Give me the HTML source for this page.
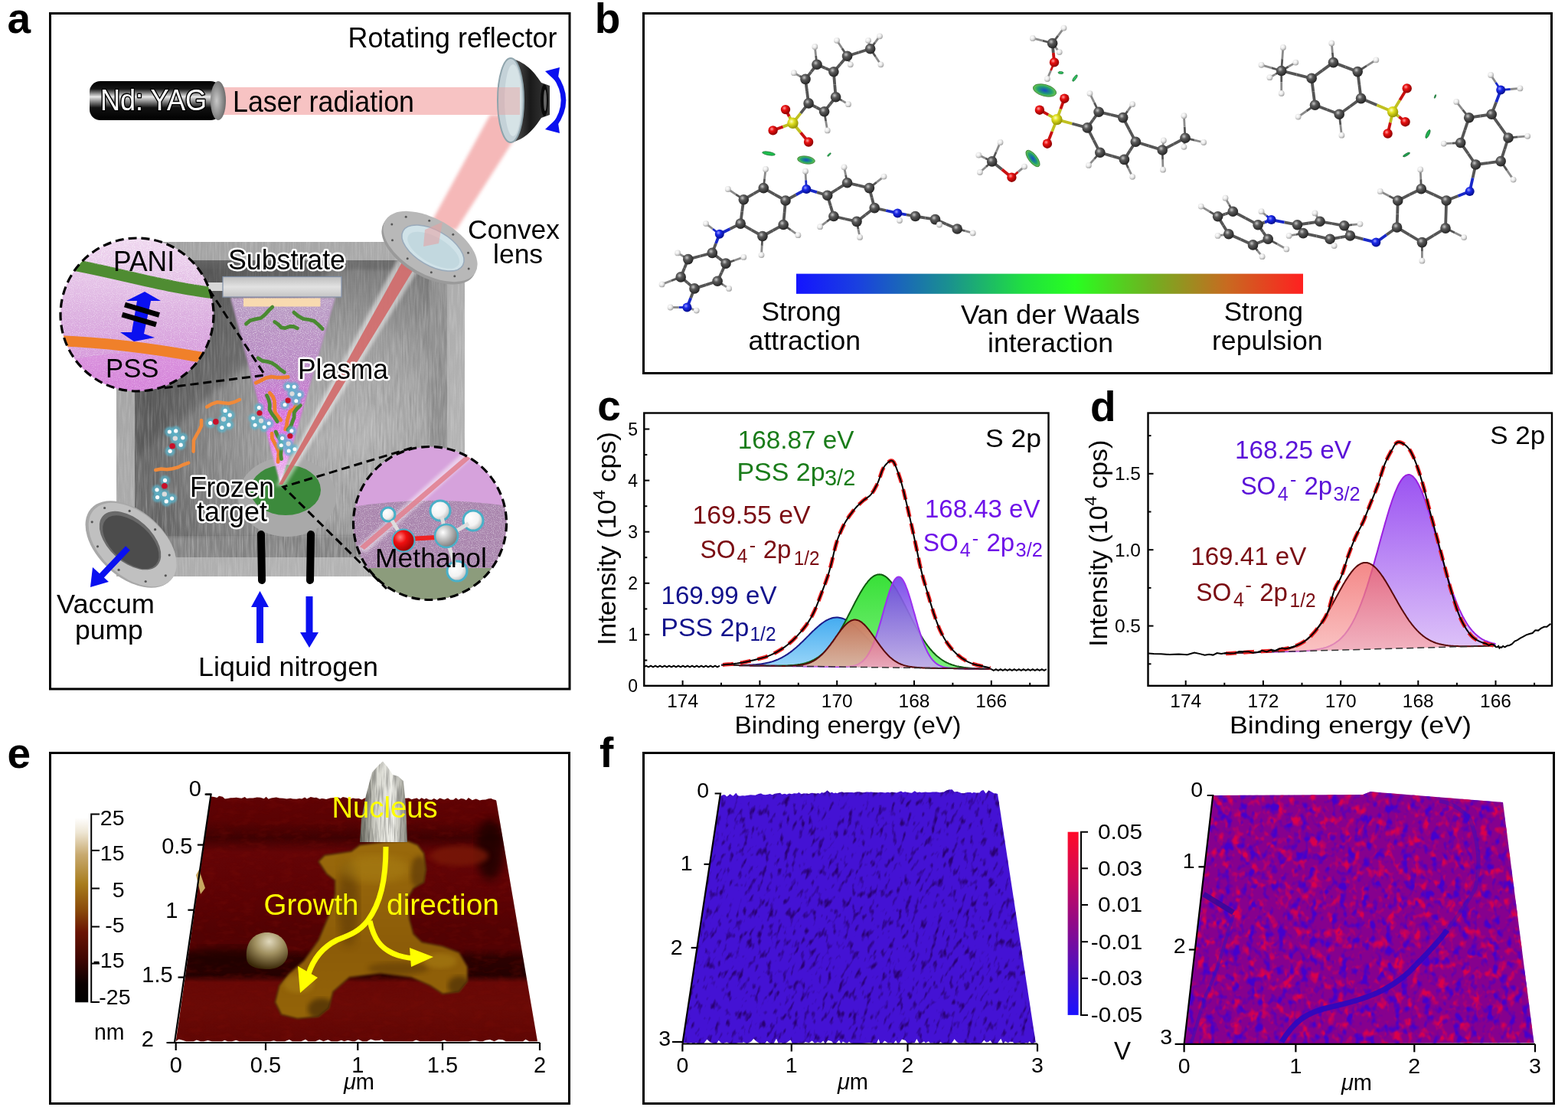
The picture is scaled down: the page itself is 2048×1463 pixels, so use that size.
<!DOCTYPE html>
<html><head><meta charset="utf-8"><title>Figure</title>
<style>
html,body{margin:0;padding:0;background:#fff;width:2048px;height:1463px;overflow:hidden}
svg{display:block;color-interpolation-filters:sRGB}
text{font-family:'Liberation Sans', Arial, Helvetica, sans-serif}
</style></head><body>
<svg width="2048" height="1463" viewBox="0 0 2048 1463">
<rect width="2048" height="1463" fill="#fff"/>
<rect x="65.5" y="17.5" width="678.5" height="882.5" fill="none" stroke="#000" stroke-width="3"/>
<rect x="840.5" y="17.5" width="1186" height="470" fill="none" stroke="#000" stroke-width="3"/>
<rect x="65.5" y="983.5" width="678" height="458" fill="none" stroke="#000" stroke-width="3"/>
<rect x="840.5" y="983.5" width="1189" height="458" fill="none" stroke="#000" stroke-width="3"/>
<text x="9.5" y="43.0" font-size="55" fill="#000" text-anchor="start" font-weight="bold" >a</text>
<text x="776.7" y="42.5" font-size="55" fill="#000" text-anchor="start" font-weight="bold" >b</text>
<text x="780.3" y="549.0" font-size="55" fill="#000" text-anchor="start" font-weight="bold" >c</text>
<text x="1424.0" y="549.5" font-size="55" fill="#000" text-anchor="start" font-weight="bold" >d</text>
<text x="9.5" y="1003.0" font-size="55" fill="#000" text-anchor="start" font-weight="bold" >e</text>
<text x="783.0" y="1002.0" font-size="55" fill="#000" text-anchor="start" font-weight="bold" >f</text>
<defs>
<filter id="streak" x="0" y="0" width="100%" height="100%">
  <feTurbulence type="fractalNoise" baseFrequency="0.45 0.03" numOctaves="2" seed="3" result="n"/>
  <feColorMatrix in="n" type="matrix" values="0 0 0 0 1  0 0 0 0 1  0 0 0 0 1  2.4 0 0 0 -1.0" result="w"/>
  <feComposite in="w" in2="SourceGraphic" operator="in"/>
</filter>
<filter id="streakd" x="0" y="0" width="100%" height="100%">
  <feTurbulence type="fractalNoise" baseFrequency="0.4 0.035" numOctaves="2" seed="8" result="n"/>
  <feColorMatrix in="n" type="matrix" values="0 0 0 0 0  0 0 0 0 0  0 0 0 0 0  2.4 0 0 0 -1.0" result="w"/>
  <feComposite in="w" in2="SourceGraphic" operator="in"/>
</filter>
<filter id="speck" x="0" y="0" width="100%" height="100%">
  <feTurbulence type="fractalNoise" baseFrequency="0.9" numOctaves="1" seed="5" result="n"/>
  <feColorMatrix in="n" type="matrix" values="0 0 0 0 1  0 0 0 0 1  0 0 0 0 1  3 0 0 0 -1.45" result="w"/>
  <feComposite in="w" in2="SourceGraphic" operator="in"/>
</filter>
<filter id="speckd" x="0" y="0" width="100%" height="100%">
  <feTurbulence type="fractalNoise" baseFrequency="0.8" numOctaves="1" seed="9" result="n"/>
  <feColorMatrix in="n" type="matrix" values="0 0 0 0 0.35  0 0 0 0 0.2  0 0 0 0 0.4  3 0 0 0 -1.3" result="w"/>
  <feComposite in="w" in2="SourceGraphic" operator="in"/>
</filter>
<filter id="blur2"><feGaussianBlur stdDeviation="2"/></filter>
<filter id="blur4"><feGaussianBlur stdDeviation="4"/></filter>
<filter id="blur1"><feGaussianBlur stdDeviation="1"/></filter>
<filter id="halo" x="-10%" y="-20%" width="120%" height="140%">
  <feMorphology in="SourceAlpha" operator="dilate" radius="2.2" result="d"/>
  <feFlood flood-color="#fff"/><feComposite in2="d" operator="in" result="w"/>
  <feMerge><feMergeNode in="w"/><feMergeNode in="SourceGraphic"/></feMerge>
</filter>
<linearGradient id="yag" x1="0" y1="0" x2="0" y2="1">
  <stop offset="0" stop-color="#000"/><stop offset="0.2" stop-color="#151515"/><stop offset="0.4" stop-color="#e8e8e8"/>
  <stop offset="0.5" stop-color="#9a9a9a"/><stop offset="0.68" stop-color="#111"/><stop offset="1" stop-color="#000"/>
</linearGradient>
<radialGradient id="capg" cx="0.4" cy="0.5" r="0.6"><stop offset="0" stop-color="#c8c8c8"/><stop offset="1" stop-color="#6a6a6a"/></radialGradient>
<linearGradient id="wallg" x1="0" y1="0" x2="1" y2="1"><stop offset="0" stop-color="#a0a0a0"/><stop offset="1" stop-color="#b8b8b8"/></linearGradient>
<radialGradient id="innerg" cx="0.75" cy="0.62" r="0.85">
  <stop offset="0" stop-color="#b6b6b6"/><stop offset="0.35" stop-color="#a4a4a4"/><stop offset="0.7" stop-color="#828282"/><stop offset="1" stop-color="#5e5e5e"/></radialGradient>
<linearGradient id="plasg" x1="0" y1="0" x2="0" y2="1">
  <stop offset="0" stop-color="#bea0c8"/><stop offset="0.4" stop-color="#bc88c8"/><stop offset="0.55" stop-color="#d070d8"/><stop offset="0.75" stop-color="#e870ec"/><stop offset="1" stop-color="#f8d0f8"/></linearGradient>
<linearGradient id="panig" x1="0" y1="0" x2="0" y2="1">
  <stop offset="0" stop-color="#f0d8f0"/><stop offset="0.5" stop-color="#dcb0e0"/><stop offset="1" stop-color="#d28ad8"/></linearGradient>
<linearGradient id="holder" x1="0" y1="0" x2="0" y2="1"><stop offset="0" stop-color="#bdbdbd"/><stop offset="0.5" stop-color="#e2e2e2"/><stop offset="1" stop-color="#c4c4c4"/></linearGradient>
<linearGradient id="dish" x1="0" y1="0" x2="1" y2="0"><stop offset="0" stop-color="#5a5a5a"/><stop offset="0.5" stop-color="#1a1a1a"/><stop offset="1" stop-color="#3a3a3a"/></linearGradient>
<radialGradient id="ballr" cx="0.35" cy="0.35" r="0.7"><stop offset="0" stop-color="#ff8080"/><stop offset="0.4" stop-color="#ee1010"/><stop offset="1" stop-color="#900"/></radialGradient>
<radialGradient id="ballg" cx="0.35" cy="0.35" r="0.7"><stop offset="0" stop-color="#fff"/><stop offset="0.4" stop-color="#c8c8c8"/><stop offset="1" stop-color="#777"/></radialGradient>
<radialGradient id="ballw" cx="0.35" cy="0.35" r="0.7"><stop offset="0" stop-color="#fff"/><stop offset="0.6" stop-color="#f2f2f2"/><stop offset="1" stop-color="#b8b8b8"/></radialGradient>
<clipPath id="cpani"><circle cx="179" cy="411" r="100"/></clipPath>
<clipPath id="cmeth"><circle cx="561.5" cy="683.5" r="100"/></clipPath>
<linearGradient id="fadeg" x1="0" y1="0" x2="0.35" y2="1"><stop offset="0" stop-color="#fff" stop-opacity="0.15"/><stop offset="0.45" stop-color="#fff" stop-opacity="0.7"/><stop offset="1" stop-color="#fff" stop-opacity="1"/></linearGradient>
<mask id="fadem" maskUnits="userSpaceOnUse" x="176" y="340" width="408" height="388"><rect x="176" y="340" width="408" height="388" fill="url(#fadeg)"/></mask>
<clipPath id="cinner"><rect x="176" y="340" width="408" height="388"/></clipPath>
</defs>
<polygon points="640,150 692,150 596,300 558,300" fill="#f2a0a0" fill-opacity="0.75" filter="url(#blur2)"/>
<rect x="152" y="316" width="455" height="437" fill="url(#wallg)"/>
<rect x="152" y="316" width="455" height="437" fill="#fff" opacity="0.18" filter="url(#streak)"/>
<rect x="176" y="340" width="408" height="388" fill="#6e6e6e"/>
<polygon points="176,700 584,700 584,728 176,728" fill="#8a8a8a"/>
<polygon points="560,345 584,340 584,728 560,700" fill="#939393"/>
<rect x="199" y="352" width="362" height="349" fill="url(#innerg)" filter="url(#blur2)"/>
<g clip-path="url(#cinner)"><polygon points="176,340 440,340 330,470 176,600" fill="#4a4a4a" opacity="0.45" filter="url(#blur4)"/></g>
<g mask="url(#fadem)"><rect x="176" y="340" width="408" height="388" fill="#fff" opacity="0.26" filter="url(#streak)"/><rect x="176" y="340" width="408" height="388" fill="#000" opacity="0.1" filter="url(#streakd)"/></g>
<rect x="262" y="369" width="30" height="11" fill="#d8d8d8"/>
<rect x="291" y="361.5" width="155" height="26.5" fill="url(#holder)" stroke="#8090a8" stroke-width="1.2"/>
<ellipse cx="375" cy="649" rx="64" ry="52" fill="#a9a9a9"/>
<ellipse cx="373" cy="640" rx="46" ry="33" fill="#3c8a3c"/>
<polygon points="301,389 438,389 366.5,634" fill="url(#plasg)" opacity="0.95" filter="url(#blur1)"/>
<polygon points="303,389 436,389 366.5,632" fill="#fff" opacity="0.6" filter="url(#speck)"/>
<rect x="318" y="389.5" width="100.5" height="11" fill="#f8dab0"/>
<polyline points="321.4,423.1 326.7,418.6 333.6,416.9 340.7,415.5 346.0,411.1 350.7,405.8 355.8,401.1" fill="none" stroke="#4a8a32" stroke-width="4.8" stroke-linecap="round" stroke-linejoin="round"/>
<polyline points="358.6,420.5 363.2,423.5 367.4,427.8 372.5,428.6 378.3,426.5 383.5,426.5 388.3,428.8" fill="none" stroke="#4a8a32" stroke-width="4.8" stroke-linecap="round" stroke-linejoin="round"/>
<polyline points="383.9,408.1 389.6,412.8 395.8,416.3 403.2,417.5 410.3,419.4 415.9,424.2 421.2,429.5" fill="none" stroke="#4a8a32" stroke-width="4.8" stroke-linecap="round" stroke-linejoin="round"/>
<polyline points="337.1,467.7 342.5,471.3 349.3,472.4 355.6,474.4 361.0,478.0 365.9,482.5 371.4,486.2" fill="none" stroke="#4a8a32" stroke-width="4.8" stroke-linecap="round" stroke-linejoin="round"/>
<polyline points="334.3,500.2 340.9,497.0 347.5,493.7 354.5,492.2 361.9,493.1 369.1,493.1 376.2,492.4" fill="none" stroke="#f08030" stroke-width="4.8" stroke-linecap="round" stroke-linejoin="round"/>
<polyline points="352.3,513.2 356.6,518.4 358.6,524.5 358.8,531.3 359.0,538.0 362.6,543.5 366.6,548.8" fill="none" stroke="#f08030" stroke-width="4.8" stroke-linecap="round" stroke-linejoin="round"/>
<polyline points="348.5,516.6 351.0,522.2 352.4,528.3 352.0,535.0 355.0,540.4 358.9,545.5 362.2,550.8" fill="none" stroke="#4a8a32" stroke-width="4.8" stroke-linecap="round" stroke-linejoin="round"/>
<polyline points="387.0,528.6 384.3,533.9 378.7,537.8 376.9,543.4 375.2,549.1 374.6,555.3 372.8,560.9" fill="none" stroke="#f08030" stroke-width="4.8" stroke-linecap="round" stroke-linejoin="round"/>
<polyline points="392.4,529.5 387.7,533.9 384.2,538.8 384.1,545.4 381.9,551.0 379.9,556.6 376.0,561.3" fill="none" stroke="#4a8a32" stroke-width="4.8" stroke-linecap="round" stroke-linejoin="round"/>
<polyline points="355.1,566.2 355.4,572.6 358.5,578.4 361.4,584.3 364.0,590.1 363.7,596.7 363.1,603.4" fill="none" stroke="#f08030" stroke-width="4.8" stroke-linecap="round" stroke-linejoin="round"/>
<polyline points="360.2,564.0 362.7,569.7 366.6,575.1 367.7,581.1 367.3,587.4 366.8,593.7 367.5,599.7" fill="none" stroke="#4a8a32" stroke-width="4.8" stroke-linecap="round" stroke-linejoin="round"/>
<polyline points="270.2,531.5 276.9,527.6 283.9,525.3 291.5,526.2 299.1,527.0 306.2,525.2 313.0,522.0" fill="none" stroke="#f08a3a" stroke-width="4.5" stroke-linecap="round"/>
<polyline points="263.0,549.0 263.0,556.3 259.9,562.7 256.3,569.0 252.9,575.3 252.8,582.6 252.6,589.8" fill="none" stroke="#f08a3a" stroke-width="4.5" stroke-linecap="round"/>
<polyline points="203.2,614.0 210.4,612.5 218.0,613.3 225.3,612.2 232.4,610.4 239.2,607.0 246.2,604.6" fill="none" stroke="#f08a3a" stroke-width="4.5" stroke-linecap="round"/>
<g filter="url(#blur1)"><circle cx="292.0" cy="547.5" r="6.5" fill="#5ab4cc" opacity="0.75"/><circle cx="300.2" cy="542.2" r="6.5" fill="#5ab4cc" opacity="0.75"/><circle cx="298.9" cy="554.9" r="6.5" fill="#5ab4cc" opacity="0.75"/><circle cx="294.1" cy="536.4" r="6.5" fill="#5ab4cc" opacity="0.75"/><circle cx="274.7" cy="552.6" r="6.5" fill="#5ab4cc" opacity="0.75"/><circle cx="289.9" cy="558.6" r="6.5" fill="#5ab4cc" opacity="0.75"/></g><circle cx="281.8" cy="550.9" r="3.8" fill="#c8102a"/><circle cx="292.0" cy="547.5" r="3.2" fill="#ddd"/><circle cx="300.2" cy="542.2" r="2.6" fill="#fff"/><circle cx="298.9" cy="554.9" r="2.6" fill="#fff"/><circle cx="294.1" cy="536.4" r="2.6" fill="#fff"/><circle cx="274.7" cy="552.6" r="2.6" fill="#fff"/><circle cx="289.9" cy="558.6" r="2.6" fill="#fff"/>
<g filter="url(#blur1)"><circle cx="228.8" cy="572.6" r="6.5" fill="#5ab4cc" opacity="0.75"/><circle cx="229.7" cy="562.9" r="6.5" fill="#5ab4cc" opacity="0.75"/><circle cx="238.8" cy="571.8" r="6.5" fill="#5ab4cc" opacity="0.75"/><circle cx="221.4" cy="564.0" r="6.5" fill="#5ab4cc" opacity="0.75"/><circle cx="222.1" cy="589.3" r="6.5" fill="#5ab4cc" opacity="0.75"/><circle cx="236.2" cy="581.2" r="6.5" fill="#5ab4cc" opacity="0.75"/></g><circle cx="225.1" cy="582.7" r="3.8" fill="#c8102a"/><circle cx="228.8" cy="572.6" r="3.2" fill="#ddd"/><circle cx="229.7" cy="562.9" r="2.6" fill="#fff"/><circle cx="238.8" cy="571.8" r="2.6" fill="#fff"/><circle cx="221.4" cy="564.0" r="2.6" fill="#fff"/><circle cx="222.1" cy="589.3" r="2.6" fill="#fff"/><circle cx="236.2" cy="581.2" r="2.6" fill="#fff"/>
<g filter="url(#blur1)"><circle cx="214.8" cy="645.4" r="6.5" fill="#5ab4cc" opacity="0.75"/><circle cx="217.2" cy="654.9" r="6.5" fill="#5ab4cc" opacity="0.75"/><circle cx="205.6" cy="649.6" r="6.5" fill="#5ab4cc" opacity="0.75"/><circle cx="224.6" cy="651.0" r="6.5" fill="#5ab4cc" opacity="0.75"/><circle cx="215.5" cy="627.4" r="6.5" fill="#5ab4cc" opacity="0.75"/><circle cx="205.0" cy="639.8" r="6.5" fill="#5ab4cc" opacity="0.75"/></g><circle cx="214.9" cy="634.7" r="3.8" fill="#c8102a"/><circle cx="214.8" cy="645.4" r="3.2" fill="#ddd"/><circle cx="217.2" cy="654.9" r="2.6" fill="#fff"/><circle cx="205.6" cy="649.6" r="2.6" fill="#fff"/><circle cx="224.6" cy="651.0" r="2.6" fill="#fff"/><circle cx="215.5" cy="627.4" r="2.6" fill="#fff"/><circle cx="205.0" cy="639.8" r="2.6" fill="#fff"/>
<g filter="url(#blur1)"><circle cx="341.0" cy="549.7" r="6.2" fill="#5ab4cc" opacity="0.75"/><circle cx="345.1" cy="558.1" r="6.2" fill="#5ab4cc" opacity="0.75"/><circle cx="333.1" cy="555.3" r="6.2" fill="#5ab4cc" opacity="0.75"/><circle cx="351.3" cy="553.1" r="6.2" fill="#5ab4cc" opacity="0.75"/><circle cx="338.3" cy="532.6" r="6.2" fill="#5ab4cc" opacity="0.75"/><circle cx="330.7" cy="546.3" r="6.2" fill="#5ab4cc" opacity="0.75"/></g><circle cx="339.0" cy="539.5" r="3.6" fill="#c8102a"/><circle cx="341.0" cy="549.7" r="3.1" fill="#ddd"/><circle cx="345.1" cy="558.1" r="2.5" fill="#fff"/><circle cx="333.1" cy="555.3" r="2.5" fill="#fff"/><circle cx="351.3" cy="553.1" r="2.5" fill="#fff"/><circle cx="338.3" cy="532.6" r="2.5" fill="#fff"/><circle cx="330.7" cy="546.3" r="2.5" fill="#fff"/>
<g filter="url(#blur1)"><circle cx="381.5" cy="514.3" r="6.2" fill="#5ab4cc" opacity="0.75"/><circle cx="384.2" cy="505.3" r="6.2" fill="#5ab4cc" opacity="0.75"/><circle cx="391.1" cy="515.4" r="6.2" fill="#5ab4cc" opacity="0.75"/><circle cx="376.2" cy="504.8" r="6.2" fill="#5ab4cc" opacity="0.75"/><circle cx="372.0" cy="528.7" r="6.2" fill="#5ab4cc" opacity="0.75"/><circle cx="386.8" cy="523.8" r="6.2" fill="#5ab4cc" opacity="0.75"/></g><circle cx="376.1" cy="523.1" r="3.6" fill="#c8102a"/><circle cx="381.5" cy="514.3" r="3.1" fill="#ddd"/><circle cx="384.2" cy="505.3" r="2.5" fill="#fff"/><circle cx="391.1" cy="515.4" r="2.5" fill="#fff"/><circle cx="376.2" cy="504.8" r="2.5" fill="#fff"/><circle cx="372.0" cy="528.7" r="2.5" fill="#fff"/><circle cx="386.8" cy="523.8" r="2.5" fill="#fff"/>
<g filter="url(#blur1)"><circle cx="376.7" cy="579.6" r="6.2" fill="#5ab4cc" opacity="0.75"/><circle cx="377.2" cy="589.0" r="6.2" fill="#5ab4cc" opacity="0.75"/><circle cx="367.3" cy="581.8" r="6.2" fill="#5ab4cc" opacity="0.75"/><circle cx="384.9" cy="586.8" r="6.2" fill="#5ab4cc" opacity="0.75"/><circle cx="380.9" cy="562.8" r="6.2" fill="#5ab4cc" opacity="0.75"/><circle cx="368.6" cy="572.5" r="6.2" fill="#5ab4cc" opacity="0.75"/></g><circle cx="378.9" cy="569.5" r="3.6" fill="#c8102a"/><circle cx="376.7" cy="579.6" r="3.1" fill="#ddd"/><circle cx="377.2" cy="589.0" r="2.5" fill="#fff"/><circle cx="367.3" cy="581.8" r="2.5" fill="#fff"/><circle cx="384.9" cy="586.8" r="2.5" fill="#fff"/><circle cx="380.9" cy="562.8" r="2.5" fill="#fff"/><circle cx="368.6" cy="572.5" r="2.5" fill="#fff"/>
<polygon points="520,338 555,338 372,635 360,635" fill="#fff" opacity="0.5" filter="url(#blur2)"/>
<polygon points="527,339 548,339 369,633 364,633" fill="#d06868" opacity="0.9"/>
<line x1="341" y1="698" x2="342" y2="758" stroke="#000" stroke-width="10" stroke-linecap="round"/>
<line x1="406" y1="698" x2="405" y2="758" stroke="#000" stroke-width="10" stroke-linecap="round"/>
<rect x="335" y="790" width="9" height="50" fill="#0a10f0"/><polygon points="328,793 351,793 339.5,772" fill="#0a10f0"/>
<rect x="399.5" y="779" width="9" height="50" fill="#0a10f0"/><polygon points="392,826 416,826 404,846" fill="#0a10f0"/>
<g transform="translate(171,711) rotate(42)"><ellipse cx="0" cy="0" rx="70" ry="43" fill="#a8a8a8"/><ellipse cx="2" cy="-1" rx="68" ry="41" fill="#c0c0c0"/><ellipse cx="-4" cy="-3" rx="48" ry="28" fill="#6a6a6a"/><ellipse cx="-2" cy="-2" rx="44" ry="25" fill="#4c4c4c"/></g>
<circle cx="216.3" cy="751.8" r="1.6" fill="#555"/>
<circle cx="190.2" cy="759.5" r="1.6" fill="#555"/>
<circle cx="155.1" cy="744.4" r="1.6" fill="#555"/>
<circle cx="127.5" cy="713.8" r="1.6" fill="#555"/>
<circle cx="120.2" cy="681.8" r="1.6" fill="#555"/>
<circle cx="136.6" cy="663.5" r="1.6" fill="#555"/>
<circle cx="169.2" cy="667.4" r="1.6" fill="#555"/>
<circle cx="202.6" cy="691.7" r="1.6" fill="#555"/>
<circle cx="221.2" cy="725.1" r="1.6" fill="#555"/>
<line x1="167" y1="716" x2="128" y2="757" stroke="#0a10f0" stroke-width="8"/><polygon points="118,767 121,741 142,760" fill="#0a10f0"/>
<g transform="translate(562,322) rotate(30)"><ellipse cx="0" cy="4" rx="68" ry="36" fill="#9a9a9a"/><ellipse cx="0" cy="0" rx="68" ry="36" fill="#b8b8b8"/><ellipse cx="4" cy="0" rx="45" ry="23" fill="#d0e2e8" stroke="#9ab" stroke-width="1.5"/><ellipse cx="6" cy="2" rx="38" ry="17" fill="#bcd4dc" opacity="0.7"/></g>
<circle cx="612.2" cy="351.0" r="1.5" fill="#555"/>
<circle cx="593.8" cy="360.7" r="1.5" fill="#555"/>
<circle cx="563.3" cy="355.7" r="1.5" fill="#555"/>
<circle cx="532.2" cy="337.7" r="1.5" fill="#555"/>
<circle cx="512.5" cy="313.8" r="1.5" fill="#555"/>
<circle cx="511.8" cy="293.0" r="1.5" fill="#555"/>
<circle cx="530.2" cy="283.3" r="1.5" fill="#555"/>
<circle cx="560.7" cy="288.3" r="1.5" fill="#555"/>
<circle cx="591.8" cy="306.3" r="1.5" fill="#555"/>
<circle cx="611.5" cy="330.2" r="1.5" fill="#555"/>
<polygon points="555,300 578,290 573,318 553,322" fill="#e8a0a0" opacity="0.55"/>
<g clip-path="url(#cpani)"><rect x="78" y="310" width="202" height="202" fill="url(#panig)"/><rect x="78" y="310" width="202" height="202" fill="#fff" opacity="0.5" filter="url(#speck)"/><path d="M80,343 C150,355 220,377 290,384" fill="none" stroke="#4f8c32" stroke-width="15"/><path d="M70,300 L290,300 L290,378 C220,370 150,348 70,335 Z" fill="#fff" opacity="0.35" filter="url(#speck)"/><path d="M70,475 C170,452 220,460 290,478 L290,520 L70,520 Z" fill="#e070e0" opacity="0.25"/><path d="M70,445 Q170,448 290,472" fill="none" stroke="#f0802a" stroke-width="14"/></g>
<polygon points="189,381 210,393 197,393 188,436 202,441 175,446 157,434 172,434 179,393 165,393" fill="#0a10f0"/>
<line x1="163" y1="398" x2="208" y2="411.5" stroke="#000" stroke-width="7"/>
<line x1="159.5" y1="411" x2="204" y2="424" stroke="#000" stroke-width="7"/>
<circle cx="179" cy="411" r="100" fill="none" stroke="#000" stroke-width="3.2" stroke-dasharray="11,6"/>
<polyline points="273,378 346,490 212,507" fill="none" stroke="#000" stroke-width="3" stroke-dasharray="11,6"/>
<g clip-path="url(#cmeth)"><rect x="460" y="582" width="204" height="204" fill="#d6a2dc"/><path d="M455,663 Q560,645 670,662 L670,790 L455,790 Z" fill="#a985ad"/><path d="M455,663 Q560,645 670,662 L670,790 L455,790 Z" fill="#fff" opacity="0.55" filter="url(#speck)"/><rect x="455" y="742" width="215" height="50" fill="#8c9c7c"/><polygon points="606,590 624,590 478,722 466,716" fill="#fff" opacity="0.5" filter="url(#blur2)"/><polygon points="610,594 620,594 476,718 470,714" fill="#e07c8c" opacity="0.85"/></g>
<g stroke="#4ab0c8" stroke-width="3"><circle cx="507" cy="672" r="9" fill="url(#ballw)"/><circle cx="575" cy="667" r="13" fill="url(#ballw)"/><circle cx="618" cy="680" r="13" fill="url(#ballw)"/><circle cx="597" cy="746" r="13" fill="url(#ballw)"/></g>
<g stroke="#ddd" stroke-width="5"><line x1="512" y1="680" x2="527" y2="705"/><line x1="577" y1="675" x2="582" y2="697"/><line x1="612" y1="684" x2="590" y2="697"/><line x1="584" y1="705" x2="594" y2="738"/></g>
<line x1="533" y1="704" x2="570" y2="702" stroke="#e22" stroke-width="6"/>
<circle cx="527" cy="706" r="14.5" fill="url(#ballr)" stroke="#4ab0c8" stroke-width="2"/>
<circle cx="583" cy="700" r="15" fill="url(#ballg)" stroke="#4ab0c8" stroke-width="2.5"/>
<circle cx="561.5" cy="683.5" r="100" fill="none" stroke="#000" stroke-width="3.2" stroke-dasharray="11,6"/>
<polyline points="538,585 370,636 505,769" fill="none" stroke="#000" stroke-width="3" stroke-dasharray="11,6"/>
<rect x="292" y="114" width="390" height="36" fill="#f6bcbc" opacity="0.9"/>
<rect x="117" y="106" width="172" height="51" rx="14" fill="url(#yag)"/>
<ellipse cx="285" cy="131.5" rx="10" ry="25.5" fill="url(#capg)"/>
<path d="M667,76 C690,82 700,98 707,108 L718,112 L718,150 L707,154 C700,164 690,180 669,186 Z" fill="url(#dish)"/>
<ellipse cx="711" cy="131" rx="5" ry="21" fill="#0a0a0a"/>
<ellipse cx="712" cy="131" rx="2" ry="14" fill="#666"/>
<ellipse cx="667" cy="131" rx="17" ry="55" fill="#c4d2d8" stroke="#8fa4ac" stroke-width="2"/>
<ellipse cx="670" cy="131" rx="11" ry="47" fill="#d8e4e8" opacity="0.9"/>
<rect x="651" y="114" width="28" height="36" fill="#e8a0a0" opacity="0.45"/>
<path d="M724,98 Q748,131 724,164" fill="none" stroke="#0a10f0" stroke-width="6.5"/><polygon points="712,93 731,88 728,108" fill="#0a10f0"/><polygon points="712,169 731,174 728,154" fill="#0a10f0"/>
<text x="454.5" y="61.5" font-size="37" fill="#000" text-anchor="start" font-weight="normal" textLength="273" lengthAdjust="spacingAndGlyphs">Rotating reflector</text>
<text x="131" y="143.5" font-size="38" fill="#fff" stroke="#000" stroke-width="3" paint-order="stroke" stroke-linejoin="round" textLength="139" lengthAdjust="spacingAndGlyphs">Nd: YAG</text>
<text x="304.0" y="146.0" font-size="39" fill="#000" text-anchor="start" font-weight="normal" textLength="237" lengthAdjust="spacingAndGlyphs">Laser radiation</text>
<text x="611.0" y="311.5" font-size="35.5" fill="#000" text-anchor="start" font-weight="normal" textLength="120" lengthAdjust="spacingAndGlyphs">Convex</text>
<text x="644.0" y="344.0" font-size="35.5" fill="#000" text-anchor="start" font-weight="normal" >lens</text>
<text x="298.0" y="351.5" font-size="36" fill="#000" text-anchor="start" font-weight="normal" stroke="#fff" stroke-width="5" paint-order="stroke" stroke-linejoin="round" textLength="153" lengthAdjust="spacingAndGlyphs">Substrate</text>
<text x="389.0" y="494.5" font-size="36" fill="#000" text-anchor="start" font-weight="normal" stroke="#fff" stroke-width="5" paint-order="stroke" stroke-linejoin="round" textLength="118" lengthAdjust="spacingAndGlyphs">Plasma</text>
<text x="148.0" y="354.0" font-size="36" fill="#000" text-anchor="start" font-weight="normal" textLength="80" lengthAdjust="spacingAndGlyphs">PANI</text>
<text x="138.0" y="493.0" font-size="35.5" fill="#000" text-anchor="start" font-weight="normal" textLength="69.5" lengthAdjust="spacingAndGlyphs">PSS</text>
<text x="248.0" y="649.0" font-size="36" fill="#000" text-anchor="start" font-weight="normal" stroke="#fff" stroke-width="5" paint-order="stroke" stroke-linejoin="round" textLength="110" lengthAdjust="spacingAndGlyphs">Frozen</text>
<text x="257.0" y="681.0" font-size="36" fill="#000" text-anchor="start" font-weight="normal" stroke="#fff" stroke-width="5" paint-order="stroke" stroke-linejoin="round" textLength="92" lengthAdjust="spacingAndGlyphs">target</text>
<text x="490.0" y="740.5" font-size="35.5" fill="#000" text-anchor="start" font-weight="normal" textLength="146" lengthAdjust="spacingAndGlyphs">Methanol</text>
<text x="74.0" y="800.5" font-size="35.5" fill="#000" text-anchor="start" font-weight="normal" textLength="128" lengthAdjust="spacingAndGlyphs">Vaccum</text>
<text x="98.0" y="834.5" font-size="35.5" fill="#000" text-anchor="start" font-weight="normal" >pump</text>
<text x="259.0" y="882.5" font-size="35.8" fill="#000" text-anchor="start" font-weight="normal" textLength="235" lengthAdjust="spacingAndGlyphs">Liquid nitrogen</text>
<defs>
<radialGradient id="bC" cx="0.38" cy="0.35" r="0.7"><stop offset="0" stop-color="#c8c8c8"/><stop offset="0.35" stop-color="#5a5a5a"/><stop offset="1" stop-color="#1e1e1e"/></radialGradient>
<radialGradient id="bH" cx="0.38" cy="0.35" r="0.7"><stop offset="0" stop-color="#fff"/><stop offset="0.5" stop-color="#e8e8e8"/><stop offset="1" stop-color="#9a9a9a"/></radialGradient>
<radialGradient id="bN" cx="0.38" cy="0.35" r="0.7"><stop offset="0" stop-color="#9aa0ff"/><stop offset="0.35" stop-color="#1a28e8"/><stop offset="1" stop-color="#000a80"/></radialGradient>
<radialGradient id="bO" cx="0.38" cy="0.35" r="0.7"><stop offset="0" stop-color="#ffa0a0"/><stop offset="0.35" stop-color="#e81010"/><stop offset="1" stop-color="#800000"/></radialGradient>
<radialGradient id="bS" cx="0.38" cy="0.35" r="0.7"><stop offset="0" stop-color="#ffffc0"/><stop offset="0.35" stop-color="#e0e020"/><stop offset="1" stop-color="#8a8a00"/></radialGradient>
<linearGradient id="nci" x1="0" y1="0" x2="1" y2="0">
 <stop offset="0" stop-color="#1414ff"/><stop offset="0.12" stop-color="#1a40e0"/><stop offset="0.3" stop-color="#1a9090"/><stop offset="0.45" stop-color="#20e040"/>
 <stop offset="0.55" stop-color="#28ff20"/><stop offset="0.7" stop-color="#70b020"/><stop offset="0.85" stop-color="#c86a20"/><stop offset="1" stop-color="#ff2020"/></linearGradient>
<radialGradient id="nciblob" cx="0.5" cy="0.5" r="0.55"><stop offset="0" stop-color="#1848c8"/><stop offset="0.55" stop-color="#20a070"/><stop offset="1" stop-color="#88d040"/></radialGradient>
</defs>
<line x1="1067.0" y1="84.3" x2="1077.9" y2="89.1" stroke="#555" stroke-width="3.8"/>
<line x1="1077.9" y1="89.1" x2="1088.9" y2="93.8" stroke="#555" stroke-width="3.8"/>
<line x1="1088.9" y1="93.8" x2="1090.2" y2="110.3" stroke="#555" stroke-width="3.8"/>
<line x1="1090.2" y1="110.3" x2="1091.6" y2="126.7" stroke="#555" stroke-width="3.8"/>
<line x1="1091.6" y1="126.7" x2="1084.1" y2="136.2" stroke="#555" stroke-width="3.8"/>
<line x1="1084.1" y1="136.2" x2="1076.6" y2="145.8" stroke="#555" stroke-width="3.8"/>
<line x1="1076.6" y1="145.8" x2="1066.3" y2="140.3" stroke="#555" stroke-width="3.8"/>
<line x1="1066.3" y1="140.3" x2="1056.1" y2="134.9" stroke="#555" stroke-width="3.8"/>
<line x1="1056.1" y1="134.9" x2="1054.0" y2="119.1" stroke="#555" stroke-width="3.8"/>
<line x1="1054.0" y1="119.1" x2="1052.0" y2="103.4" stroke="#555" stroke-width="3.8"/>
<line x1="1052.0" y1="103.4" x2="1059.5" y2="93.8" stroke="#555" stroke-width="3.8"/>
<line x1="1059.5" y1="93.8" x2="1067.0" y2="84.3" stroke="#555" stroke-width="3.8"/>
<line x1="1088.9" y1="93.8" x2="1097.8" y2="83.6" stroke="#555" stroke-width="3.8"/>
<line x1="1097.8" y1="83.6" x2="1106.6" y2="73.3" stroke="#555" stroke-width="3.8"/>
<line x1="1106.6" y1="73.3" x2="1121.7" y2="68.5" stroke="#555" stroke-width="3.8"/>
<line x1="1121.7" y1="68.5" x2="1136.7" y2="63.8" stroke="#555" stroke-width="3.8"/>
<line x1="1064.3" y1="61.0" x2="1065.6" y2="72.6" stroke="#8a8a8a" stroke-width="2.8"/>
<line x1="1065.6" y1="72.6" x2="1067.0" y2="84.3" stroke="#555" stroke-width="2.8"/>
<line x1="1093.0" y1="52.8" x2="1099.8" y2="63.1" stroke="#8a8a8a" stroke-width="2.8"/>
<line x1="1099.8" y1="63.1" x2="1106.6" y2="73.3" stroke="#555" stroke-width="2.8"/>
<line x1="1110.8" y1="84.3" x2="1108.7" y2="78.8" stroke="#8a8a8a" stroke-width="2.8"/>
<line x1="1108.7" y1="78.8" x2="1106.6" y2="73.3" stroke="#555" stroke-width="2.8"/>
<line x1="1134.0" y1="52.8" x2="1135.4" y2="58.3" stroke="#8a8a8a" stroke-width="2.8"/>
<line x1="1135.4" y1="58.3" x2="1136.7" y2="63.8" stroke="#555" stroke-width="2.8"/>
<line x1="1149.0" y1="47.3" x2="1142.9" y2="55.6" stroke="#8a8a8a" stroke-width="2.8"/>
<line x1="1142.9" y1="55.6" x2="1136.7" y2="63.8" stroke="#555" stroke-width="2.8"/>
<line x1="1150.4" y1="84.3" x2="1143.6" y2="74.0" stroke="#8a8a8a" stroke-width="2.8"/>
<line x1="1143.6" y1="74.0" x2="1136.7" y2="63.8" stroke="#555" stroke-width="2.8"/>
<line x1="1036.9" y1="95.2" x2="1044.4" y2="99.3" stroke="#8a8a8a" stroke-width="2.8"/>
<line x1="1044.4" y1="99.3" x2="1052.0" y2="103.4" stroke="#555" stroke-width="2.8"/>
<line x1="1108.0" y1="136.2" x2="1099.8" y2="131.4" stroke="#8a8a8a" stroke-width="2.8"/>
<line x1="1099.8" y1="131.4" x2="1091.6" y2="126.7" stroke="#555" stroke-width="2.8"/>
<line x1="1080.7" y1="170.4" x2="1078.6" y2="158.1" stroke="#8a8a8a" stroke-width="2.8"/>
<line x1="1078.6" y1="158.1" x2="1076.6" y2="145.8" stroke="#555" stroke-width="2.8"/>
<line x1="1035.5" y1="160.8" x2="1045.8" y2="147.9" stroke="#c0c020" stroke-width="3.8"/>
<line x1="1045.8" y1="147.9" x2="1056.1" y2="134.9" stroke="#555" stroke-width="3.8"/>
<line x1="1035.5" y1="160.8" x2="1030.8" y2="152.0" stroke="#c0c020" stroke-width="3.8"/>
<line x1="1030.8" y1="152.0" x2="1026.0" y2="143.1" stroke="#c81010" stroke-width="3.8"/>
<line x1="1035.5" y1="160.8" x2="1022.6" y2="165.6" stroke="#c0c020" stroke-width="3.8"/>
<line x1="1022.6" y1="165.6" x2="1009.6" y2="170.4" stroke="#c81010" stroke-width="3.8"/>
<line x1="1035.5" y1="160.8" x2="1045.8" y2="173.2" stroke="#c0c020" stroke-width="3.8"/>
<line x1="1045.8" y1="173.2" x2="1056.1" y2="185.5" stroke="#c81010" stroke-width="3.8"/>
<line x1="1000.0" y1="221.0" x2="998.6" y2="233.3" stroke="#8a8a8a" stroke-width="2.8"/>
<line x1="998.6" y1="233.3" x2="997.3" y2="245.6" stroke="#555" stroke-width="2.8"/>
<line x1="1052.0" y1="223.7" x2="1052.6" y2="235.4" stroke="#8a8a8a" stroke-width="2.8"/>
<line x1="1052.6" y1="235.4" x2="1053.3" y2="247.0" stroke="#1828c8" stroke-width="2.8"/>
<line x1="1053.3" y1="247.0" x2="1039.6" y2="254.5" stroke="#1828c8" stroke-width="3.8"/>
<line x1="1039.6" y1="254.5" x2="1026.0" y2="262.0" stroke="#555" stroke-width="3.8"/>
<line x1="1053.3" y1="247.0" x2="1067.0" y2="251.1" stroke="#1828c8" stroke-width="3.8"/>
<line x1="1067.0" y1="251.1" x2="1080.7" y2="255.2" stroke="#555" stroke-width="3.8"/>
<line x1="997.3" y1="245.6" x2="1011.6" y2="253.8" stroke="#555" stroke-width="3.8"/>
<line x1="1011.6" y1="253.8" x2="1026.0" y2="262.0" stroke="#555" stroke-width="3.8"/>
<line x1="1026.0" y1="262.0" x2="1024.6" y2="277.8" stroke="#555" stroke-width="3.8"/>
<line x1="1024.6" y1="277.8" x2="1023.2" y2="293.5" stroke="#555" stroke-width="3.8"/>
<line x1="1023.2" y1="293.5" x2="1009.6" y2="301.0" stroke="#555" stroke-width="3.8"/>
<line x1="1009.6" y1="301.0" x2="995.9" y2="308.5" stroke="#555" stroke-width="3.8"/>
<line x1="995.9" y1="308.5" x2="981.5" y2="300.3" stroke="#555" stroke-width="3.8"/>
<line x1="981.5" y1="300.3" x2="967.2" y2="292.1" stroke="#555" stroke-width="3.8"/>
<line x1="967.2" y1="292.1" x2="969.2" y2="276.4" stroke="#555" stroke-width="3.8"/>
<line x1="969.2" y1="276.4" x2="971.3" y2="260.7" stroke="#555" stroke-width="3.8"/>
<line x1="971.3" y1="260.7" x2="984.3" y2="253.1" stroke="#555" stroke-width="3.8"/>
<line x1="984.3" y1="253.1" x2="997.3" y2="245.6" stroke="#555" stroke-width="3.8"/>
<line x1="950.8" y1="247.0" x2="961.0" y2="253.8" stroke="#8a8a8a" stroke-width="2.8"/>
<line x1="961.0" y1="253.8" x2="971.3" y2="260.7" stroke="#555" stroke-width="2.8"/>
<line x1="1042.4" y1="307.2" x2="1032.8" y2="300.3" stroke="#8a8a8a" stroke-width="2.8"/>
<line x1="1032.8" y1="300.3" x2="1023.2" y2="293.5" stroke="#555" stroke-width="2.8"/>
<line x1="994.5" y1="333.1" x2="995.2" y2="320.8" stroke="#8a8a8a" stroke-width="2.8"/>
<line x1="995.2" y1="320.8" x2="995.9" y2="308.5" stroke="#555" stroke-width="2.8"/>
<line x1="1080.7" y1="255.2" x2="1093.7" y2="247.0" stroke="#555" stroke-width="3.8"/>
<line x1="1093.7" y1="247.0" x2="1106.6" y2="238.8" stroke="#555" stroke-width="3.8"/>
<line x1="1106.6" y1="238.8" x2="1121.0" y2="242.2" stroke="#555" stroke-width="3.8"/>
<line x1="1121.0" y1="242.2" x2="1135.4" y2="245.6" stroke="#555" stroke-width="3.8"/>
<line x1="1135.4" y1="245.6" x2="1138.8" y2="258.6" stroke="#555" stroke-width="3.8"/>
<line x1="1138.8" y1="258.6" x2="1142.2" y2="271.6" stroke="#555" stroke-width="3.8"/>
<line x1="1142.2" y1="271.6" x2="1130.6" y2="280.5" stroke="#555" stroke-width="3.8"/>
<line x1="1130.6" y1="280.5" x2="1119.0" y2="289.4" stroke="#555" stroke-width="3.8"/>
<line x1="1119.0" y1="289.4" x2="1103.9" y2="286.0" stroke="#555" stroke-width="3.8"/>
<line x1="1103.9" y1="286.0" x2="1088.9" y2="282.5" stroke="#555" stroke-width="3.8"/>
<line x1="1088.9" y1="282.5" x2="1084.8" y2="268.9" stroke="#555" stroke-width="3.8"/>
<line x1="1084.8" y1="268.9" x2="1080.7" y2="255.2" stroke="#555" stroke-width="3.8"/>
<line x1="1102.5" y1="218.3" x2="1104.6" y2="228.5" stroke="#8a8a8a" stroke-width="2.8"/>
<line x1="1104.6" y1="228.5" x2="1106.6" y2="238.8" stroke="#555" stroke-width="2.8"/>
<line x1="1154.5" y1="230.6" x2="1144.9" y2="238.1" stroke="#8a8a8a" stroke-width="2.8"/>
<line x1="1144.9" y1="238.1" x2="1135.4" y2="245.6" stroke="#555" stroke-width="2.8"/>
<line x1="1071.1" y1="296.2" x2="1080.0" y2="289.4" stroke="#8a8a8a" stroke-width="2.8"/>
<line x1="1080.0" y1="289.4" x2="1088.9" y2="282.5" stroke="#555" stroke-width="2.8"/>
<line x1="1123.1" y1="309.9" x2="1121.0" y2="299.6" stroke="#8a8a8a" stroke-width="2.8"/>
<line x1="1121.0" y1="299.6" x2="1119.0" y2="289.4" stroke="#555" stroke-width="2.8"/>
<line x1="1142.2" y1="271.6" x2="1157.2" y2="275.0" stroke="#555" stroke-width="3.8"/>
<line x1="1157.2" y1="275.0" x2="1172.3" y2="278.4" stroke="#1828c8" stroke-width="3.8"/>
<line x1="1172.3" y1="278.4" x2="1183.9" y2="280.5" stroke="#1828c8" stroke-width="3.8"/>
<line x1="1183.9" y1="280.5" x2="1195.5" y2="282.5" stroke="#555" stroke-width="3.8"/>
<line x1="1172.3" y1="278.4" x2="1173.7" y2="283.2" stroke="#1828c8" stroke-width="2.8"/>
<line x1="1173.7" y1="283.2" x2="1175.0" y2="288.0" stroke="#8a8a8a" stroke-width="2.8"/>
<line x1="1195.5" y1="282.5" x2="1208.5" y2="284.6" stroke="#555" stroke-width="3.8"/>
<line x1="1208.5" y1="284.6" x2="1221.5" y2="286.6" stroke="#555" stroke-width="3.8"/>
<line x1="1221.5" y1="286.6" x2="1235.9" y2="292.8" stroke="#555" stroke-width="3.8"/>
<line x1="1235.9" y1="292.8" x2="1250.2" y2="299.0" stroke="#555" stroke-width="3.8"/>
<line x1="1227.0" y1="293.5" x2="1224.2" y2="290.1" stroke="#8a8a8a" stroke-width="2.8"/>
<line x1="1224.2" y1="290.1" x2="1221.5" y2="286.6" stroke="#555" stroke-width="2.8"/>
<line x1="1270.7" y1="304.4" x2="1260.5" y2="301.7" stroke="#8a8a8a" stroke-width="2.8"/>
<line x1="1260.5" y1="301.7" x2="1250.2" y2="299.0" stroke="#555" stroke-width="2.8"/>
<line x1="967.2" y1="292.1" x2="953.5" y2="299.0" stroke="#555" stroke-width="3.8"/>
<line x1="953.5" y1="299.0" x2="939.8" y2="305.8" stroke="#1828c8" stroke-width="3.8"/>
<line x1="939.8" y1="305.8" x2="935.0" y2="318.1" stroke="#1828c8" stroke-width="3.8"/>
<line x1="935.0" y1="318.1" x2="930.3" y2="330.4" stroke="#555" stroke-width="3.8"/>
<line x1="939.8" y1="305.8" x2="930.9" y2="299.0" stroke="#1828c8" stroke-width="2.8"/>
<line x1="930.9" y1="299.0" x2="922.0" y2="292.1" stroke="#8a8a8a" stroke-width="2.8"/>
<line x1="930.3" y1="330.4" x2="939.1" y2="337.2" stroke="#555" stroke-width="3.8"/>
<line x1="939.1" y1="337.2" x2="948.0" y2="344.1" stroke="#555" stroke-width="3.8"/>
<line x1="948.0" y1="344.1" x2="942.6" y2="355.7" stroke="#555" stroke-width="3.8"/>
<line x1="942.6" y1="355.7" x2="937.1" y2="367.3" stroke="#555" stroke-width="3.8"/>
<line x1="937.1" y1="367.3" x2="922.0" y2="372.1" stroke="#555" stroke-width="3.8"/>
<line x1="922.0" y1="372.1" x2="907.0" y2="376.9" stroke="#555" stroke-width="3.8"/>
<line x1="907.0" y1="376.9" x2="898.1" y2="369.4" stroke="#555" stroke-width="3.8"/>
<line x1="898.1" y1="369.4" x2="889.2" y2="361.9" stroke="#555" stroke-width="3.8"/>
<line x1="889.2" y1="361.9" x2="894.0" y2="350.2" stroke="#555" stroke-width="3.8"/>
<line x1="894.0" y1="350.2" x2="898.8" y2="338.6" stroke="#555" stroke-width="3.8"/>
<line x1="898.8" y1="338.6" x2="914.5" y2="334.5" stroke="#555" stroke-width="3.8"/>
<line x1="914.5" y1="334.5" x2="930.3" y2="330.4" stroke="#555" stroke-width="3.8"/>
<line x1="885.1" y1="330.4" x2="892.0" y2="334.5" stroke="#8a8a8a" stroke-width="2.8"/>
<line x1="892.0" y1="334.5" x2="898.8" y2="338.6" stroke="#555" stroke-width="2.8"/>
<line x1="971.3" y1="335.9" x2="959.6" y2="340.0" stroke="#8a8a8a" stroke-width="2.8"/>
<line x1="959.6" y1="340.0" x2="948.0" y2="344.1" stroke="#555" stroke-width="2.8"/>
<line x1="864.6" y1="371.4" x2="876.9" y2="366.6" stroke="#8a8a8a" stroke-width="2.8"/>
<line x1="876.9" y1="366.6" x2="889.2" y2="361.9" stroke="#555" stroke-width="2.8"/>
<line x1="952.1" y1="376.9" x2="944.6" y2="372.1" stroke="#8a8a8a" stroke-width="2.8"/>
<line x1="944.6" y1="372.1" x2="937.1" y2="367.3" stroke="#555" stroke-width="2.8"/>
<line x1="907.0" y1="376.9" x2="902.2" y2="389.2" stroke="#555" stroke-width="3.8"/>
<line x1="902.2" y1="389.2" x2="897.4" y2="401.5" stroke="#1828c8" stroke-width="3.8"/>
<line x1="897.4" y1="401.5" x2="886.5" y2="401.5" stroke="#1828c8" stroke-width="2.8"/>
<line x1="886.5" y1="401.5" x2="875.6" y2="401.5" stroke="#8a8a8a" stroke-width="2.8"/>
<line x1="897.4" y1="401.5" x2="903.6" y2="403.6" stroke="#1828c8" stroke-width="2.8"/>
<line x1="903.6" y1="403.6" x2="909.7" y2="405.6" stroke="#8a8a8a" stroke-width="2.8"/>
<circle cx="1067.0" cy="84.3" r="6.8" fill="url(#bC)"/>
<circle cx="1088.9" cy="93.8" r="6.8" fill="url(#bC)"/>
<circle cx="1091.6" cy="126.7" r="6.8" fill="url(#bC)"/>
<circle cx="1076.6" cy="145.8" r="6.8" fill="url(#bC)"/>
<circle cx="1056.1" cy="134.9" r="6.8" fill="url(#bC)"/>
<circle cx="1052.0" cy="103.4" r="6.8" fill="url(#bC)"/>
<circle cx="1106.6" cy="73.3" r="6.8" fill="url(#bC)"/>
<circle cx="1136.7" cy="63.8" r="6.8" fill="url(#bC)"/>
<circle cx="1064.3" cy="61.0" r="3.9" fill="url(#bH)"/>
<circle cx="1093.0" cy="52.8" r="3.9" fill="url(#bH)"/>
<circle cx="1110.8" cy="84.3" r="3.9" fill="url(#bH)"/>
<circle cx="1134.0" cy="52.8" r="3.9" fill="url(#bH)"/>
<circle cx="1149.0" cy="47.3" r="3.9" fill="url(#bH)"/>
<circle cx="1150.4" cy="84.3" r="3.9" fill="url(#bH)"/>
<circle cx="1036.9" cy="95.2" r="3.9" fill="url(#bH)"/>
<circle cx="1108.0" cy="136.2" r="3.9" fill="url(#bH)"/>
<circle cx="1080.7" cy="170.4" r="3.9" fill="url(#bH)"/>
<circle cx="1035.5" cy="160.8" r="7.2" fill="url(#bS)"/>
<circle cx="1026.0" cy="143.1" r="6.2" fill="url(#bO)"/>
<circle cx="1009.6" cy="170.4" r="6.2" fill="url(#bO)"/>
<circle cx="1056.1" cy="185.5" r="6.2" fill="url(#bO)"/>
<circle cx="1000.0" cy="221.0" r="3.9" fill="url(#bH)"/>
<circle cx="1052.0" cy="223.7" r="3.9" fill="url(#bH)"/>
<circle cx="1053.3" cy="247.0" r="6.0" fill="url(#bN)"/>
<circle cx="997.3" cy="245.6" r="6.8" fill="url(#bC)"/>
<circle cx="1026.0" cy="262.0" r="6.8" fill="url(#bC)"/>
<circle cx="1023.2" cy="293.5" r="6.8" fill="url(#bC)"/>
<circle cx="995.9" cy="308.5" r="6.8" fill="url(#bC)"/>
<circle cx="967.2" cy="292.1" r="6.8" fill="url(#bC)"/>
<circle cx="971.3" cy="260.7" r="6.8" fill="url(#bC)"/>
<circle cx="950.8" cy="247.0" r="3.9" fill="url(#bH)"/>
<circle cx="1042.4" cy="307.2" r="3.9" fill="url(#bH)"/>
<circle cx="994.5" cy="333.1" r="3.9" fill="url(#bH)"/>
<circle cx="1080.7" cy="255.2" r="6.8" fill="url(#bC)"/>
<circle cx="1106.6" cy="238.8" r="6.8" fill="url(#bC)"/>
<circle cx="1135.4" cy="245.6" r="6.8" fill="url(#bC)"/>
<circle cx="1142.2" cy="271.6" r="6.8" fill="url(#bC)"/>
<circle cx="1119.0" cy="289.4" r="6.8" fill="url(#bC)"/>
<circle cx="1088.9" cy="282.5" r="6.8" fill="url(#bC)"/>
<circle cx="1102.5" cy="218.3" r="3.9" fill="url(#bH)"/>
<circle cx="1154.5" cy="230.6" r="3.9" fill="url(#bH)"/>
<circle cx="1071.1" cy="296.2" r="3.9" fill="url(#bH)"/>
<circle cx="1123.1" cy="309.9" r="3.9" fill="url(#bH)"/>
<circle cx="1172.3" cy="278.4" r="6.0" fill="url(#bN)"/>
<circle cx="1175.0" cy="288.0" r="3.9" fill="url(#bH)"/>
<circle cx="1195.5" cy="282.5" r="6.8" fill="url(#bC)"/>
<circle cx="1221.5" cy="286.6" r="6.8" fill="url(#bC)"/>
<circle cx="1250.2" cy="299.0" r="6.8" fill="url(#bC)"/>
<circle cx="1227.0" cy="293.5" r="3.9" fill="url(#bH)"/>
<circle cx="1270.7" cy="304.4" r="3.9" fill="url(#bH)"/>
<circle cx="939.8" cy="305.8" r="6.0" fill="url(#bN)"/>
<circle cx="922.0" cy="292.1" r="3.9" fill="url(#bH)"/>
<circle cx="930.3" cy="330.4" r="6.8" fill="url(#bC)"/>
<circle cx="948.0" cy="344.1" r="6.8" fill="url(#bC)"/>
<circle cx="937.1" cy="367.3" r="6.8" fill="url(#bC)"/>
<circle cx="907.0" cy="376.9" r="6.8" fill="url(#bC)"/>
<circle cx="889.2" cy="361.9" r="6.8" fill="url(#bC)"/>
<circle cx="898.8" cy="338.6" r="6.8" fill="url(#bC)"/>
<circle cx="885.1" cy="330.4" r="3.9" fill="url(#bH)"/>
<circle cx="971.3" cy="335.9" r="3.9" fill="url(#bH)"/>
<circle cx="864.6" cy="371.4" r="3.9" fill="url(#bH)"/>
<circle cx="952.1" cy="376.9" r="3.9" fill="url(#bH)"/>
<circle cx="897.4" cy="401.5" r="6.0" fill="url(#bN)"/>
<circle cx="875.6" cy="401.5" r="3.9" fill="url(#bH)"/>
<circle cx="909.7" cy="405.6" r="3.9" fill="url(#bH)"/>
<line x1="1374.6" y1="56.5" x2="1361.7" y2="53.2" stroke="#555" stroke-width="2.8"/>
<line x1="1361.7" y1="53.2" x2="1348.8" y2="49.9" stroke="#8a8a8a" stroke-width="2.8"/>
<line x1="1374.6" y1="56.5" x2="1382.0" y2="46.6" stroke="#555" stroke-width="2.8"/>
<line x1="1382.0" y1="46.6" x2="1389.5" y2="36.6" stroke="#8a8a8a" stroke-width="2.8"/>
<line x1="1374.6" y1="56.5" x2="1379.1" y2="62.3" stroke="#555" stroke-width="2.8"/>
<line x1="1379.1" y1="62.3" x2="1383.7" y2="68.1" stroke="#8a8a8a" stroke-width="2.8"/>
<line x1="1374.6" y1="56.5" x2="1375.8" y2="69.0" stroke="#555" stroke-width="3.8"/>
<line x1="1375.8" y1="69.0" x2="1377.0" y2="81.4" stroke="#c81010" stroke-width="3.8"/>
<line x1="1377.0" y1="81.4" x2="1372.5" y2="92.2" stroke="#c81010" stroke-width="2.8"/>
<line x1="1372.5" y1="92.2" x2="1367.9" y2="103.0" stroke="#8a8a8a" stroke-width="2.8"/>
<line x1="1380.4" y1="156.1" x2="1385.3" y2="142.4" stroke="#c0c020" stroke-width="3.8"/>
<line x1="1385.3" y1="142.4" x2="1390.3" y2="128.7" stroke="#c81010" stroke-width="3.8"/>
<line x1="1380.4" y1="156.1" x2="1369.2" y2="149.9" stroke="#c0c020" stroke-width="3.8"/>
<line x1="1369.2" y1="149.9" x2="1357.9" y2="143.7" stroke="#c81010" stroke-width="3.8"/>
<line x1="1380.4" y1="156.1" x2="1374.1" y2="171.9" stroke="#c0c020" stroke-width="3.8"/>
<line x1="1374.1" y1="171.9" x2="1367.9" y2="187.7" stroke="#c81010" stroke-width="3.8"/>
<line x1="1380.4" y1="156.1" x2="1400.3" y2="161.5" stroke="#c0c020" stroke-width="3.8"/>
<line x1="1400.3" y1="161.5" x2="1420.2" y2="166.9" stroke="#555" stroke-width="3.8"/>
<line x1="1420.2" y1="166.9" x2="1427.7" y2="156.5" stroke="#555" stroke-width="3.8"/>
<line x1="1427.7" y1="156.5" x2="1435.1" y2="146.2" stroke="#555" stroke-width="3.8"/>
<line x1="1435.1" y1="146.2" x2="1450.9" y2="149.9" stroke="#555" stroke-width="3.8"/>
<line x1="1450.9" y1="149.9" x2="1466.7" y2="153.6" stroke="#555" stroke-width="3.8"/>
<line x1="1466.7" y1="153.6" x2="1475.0" y2="169.4" stroke="#555" stroke-width="3.8"/>
<line x1="1475.0" y1="169.4" x2="1483.3" y2="185.2" stroke="#555" stroke-width="3.8"/>
<line x1="1483.3" y1="185.2" x2="1475.8" y2="196.8" stroke="#555" stroke-width="3.8"/>
<line x1="1475.8" y1="196.8" x2="1468.4" y2="208.4" stroke="#555" stroke-width="3.8"/>
<line x1="1468.4" y1="208.4" x2="1452.6" y2="203.9" stroke="#555" stroke-width="3.8"/>
<line x1="1452.6" y1="203.9" x2="1436.8" y2="199.3" stroke="#555" stroke-width="3.8"/>
<line x1="1436.8" y1="199.3" x2="1428.5" y2="183.1" stroke="#555" stroke-width="3.8"/>
<line x1="1428.5" y1="183.1" x2="1420.2" y2="166.9" stroke="#555" stroke-width="3.8"/>
<line x1="1435.1" y1="146.2" x2="1429.3" y2="134.1" stroke="#555" stroke-width="2.8"/>
<line x1="1429.3" y1="134.1" x2="1423.5" y2="122.1" stroke="#8a8a8a" stroke-width="2.8"/>
<line x1="1466.7" y1="153.6" x2="1472.9" y2="144.9" stroke="#555" stroke-width="2.8"/>
<line x1="1472.9" y1="144.9" x2="1479.1" y2="136.2" stroke="#8a8a8a" stroke-width="2.8"/>
<line x1="1436.8" y1="199.3" x2="1429.3" y2="207.6" stroke="#555" stroke-width="2.8"/>
<line x1="1429.3" y1="207.6" x2="1421.9" y2="215.9" stroke="#8a8a8a" stroke-width="2.8"/>
<line x1="1468.4" y1="208.4" x2="1473.7" y2="219.6" stroke="#555" stroke-width="2.8"/>
<line x1="1473.7" y1="219.6" x2="1479.1" y2="230.8" stroke="#8a8a8a" stroke-width="2.8"/>
<line x1="1483.3" y1="185.2" x2="1500.7" y2="190.6" stroke="#555" stroke-width="3.8"/>
<line x1="1500.7" y1="190.6" x2="1518.2" y2="196.0" stroke="#555" stroke-width="3.8"/>
<line x1="1518.2" y1="196.0" x2="1519.0" y2="189.8" stroke="#555" stroke-width="2.8"/>
<line x1="1519.0" y1="189.8" x2="1519.8" y2="183.5" stroke="#8a8a8a" stroke-width="2.8"/>
<line x1="1518.2" y1="196.0" x2="1518.6" y2="208.8" stroke="#555" stroke-width="2.8"/>
<line x1="1518.6" y1="208.8" x2="1519.0" y2="221.7" stroke="#8a8a8a" stroke-width="2.8"/>
<line x1="1518.2" y1="196.0" x2="1533.1" y2="188.1" stroke="#555" stroke-width="3.8"/>
<line x1="1533.1" y1="188.1" x2="1548.0" y2="180.2" stroke="#555" stroke-width="3.8"/>
<line x1="1548.0" y1="180.2" x2="1547.2" y2="165.7" stroke="#555" stroke-width="2.8"/>
<line x1="1547.2" y1="165.7" x2="1546.4" y2="151.2" stroke="#8a8a8a" stroke-width="2.8"/>
<line x1="1548.0" y1="180.2" x2="1560.1" y2="183.1" stroke="#555" stroke-width="2.8"/>
<line x1="1560.1" y1="183.1" x2="1572.1" y2="186.0" stroke="#8a8a8a" stroke-width="2.8"/>
<line x1="1548.0" y1="180.2" x2="1547.2" y2="186.0" stroke="#555" stroke-width="2.8"/>
<line x1="1547.2" y1="186.0" x2="1546.4" y2="191.8" stroke="#8a8a8a" stroke-width="2.8"/>
<line x1="1295.7" y1="210.9" x2="1287.0" y2="206.8" stroke="#555" stroke-width="2.8"/>
<line x1="1287.0" y1="206.8" x2="1278.3" y2="202.6" stroke="#8a8a8a" stroke-width="2.8"/>
<line x1="1295.7" y1="210.9" x2="1301.1" y2="198.5" stroke="#555" stroke-width="2.8"/>
<line x1="1301.1" y1="198.5" x2="1306.5" y2="186.0" stroke="#8a8a8a" stroke-width="2.8"/>
<line x1="1295.7" y1="210.9" x2="1287.8" y2="218.0" stroke="#555" stroke-width="2.8"/>
<line x1="1287.8" y1="218.0" x2="1279.9" y2="225.0" stroke="#8a8a8a" stroke-width="2.8"/>
<line x1="1295.7" y1="210.9" x2="1308.6" y2="221.3" stroke="#555" stroke-width="3.8"/>
<line x1="1308.6" y1="221.3" x2="1321.4" y2="231.7" stroke="#c81010" stroke-width="3.8"/>
<line x1="1321.4" y1="231.7" x2="1329.7" y2="224.6" stroke="#c81010" stroke-width="2.8"/>
<line x1="1329.7" y1="224.6" x2="1338.0" y2="217.6" stroke="#8a8a8a" stroke-width="2.8"/>
<circle cx="1374.6" cy="56.5" r="6.8" fill="url(#bC)"/>
<circle cx="1348.8" cy="49.9" r="3.9" fill="url(#bH)"/>
<circle cx="1389.5" cy="36.6" r="3.9" fill="url(#bH)"/>
<circle cx="1383.7" cy="68.1" r="3.9" fill="url(#bH)"/>
<circle cx="1377.0" cy="81.4" r="6.2" fill="url(#bO)"/>
<circle cx="1367.9" cy="103.0" r="3.9" fill="url(#bH)"/>
<circle cx="1380.4" cy="156.1" r="7.2" fill="url(#bS)"/>
<circle cx="1390.3" cy="128.7" r="6.2" fill="url(#bO)"/>
<circle cx="1357.9" cy="143.7" r="6.2" fill="url(#bO)"/>
<circle cx="1367.9" cy="187.7" r="6.2" fill="url(#bO)"/>
<circle cx="1420.2" cy="166.9" r="6.8" fill="url(#bC)"/>
<circle cx="1435.1" cy="146.2" r="6.8" fill="url(#bC)"/>
<circle cx="1466.7" cy="153.6" r="6.8" fill="url(#bC)"/>
<circle cx="1483.3" cy="185.2" r="6.8" fill="url(#bC)"/>
<circle cx="1468.4" cy="208.4" r="6.8" fill="url(#bC)"/>
<circle cx="1436.8" cy="199.3" r="6.8" fill="url(#bC)"/>
<circle cx="1423.5" cy="122.1" r="3.9" fill="url(#bH)"/>
<circle cx="1479.1" cy="136.2" r="3.9" fill="url(#bH)"/>
<circle cx="1421.9" cy="215.9" r="3.9" fill="url(#bH)"/>
<circle cx="1479.1" cy="230.8" r="3.9" fill="url(#bH)"/>
<circle cx="1518.2" cy="196.0" r="6.8" fill="url(#bC)"/>
<circle cx="1519.8" cy="183.5" r="3.9" fill="url(#bH)"/>
<circle cx="1519.0" cy="221.7" r="3.9" fill="url(#bH)"/>
<circle cx="1548.0" cy="180.2" r="6.8" fill="url(#bC)"/>
<circle cx="1546.4" cy="151.2" r="3.9" fill="url(#bH)"/>
<circle cx="1572.1" cy="186.0" r="3.9" fill="url(#bH)"/>
<circle cx="1546.4" cy="191.8" r="3.9" fill="url(#bH)"/>
<circle cx="1295.7" cy="210.9" r="6.8" fill="url(#bC)"/>
<circle cx="1278.3" cy="202.6" r="3.9" fill="url(#bH)"/>
<circle cx="1306.5" cy="186.0" r="3.9" fill="url(#bH)"/>
<circle cx="1279.9" cy="225.0" r="3.9" fill="url(#bH)"/>
<circle cx="1321.4" cy="231.7" r="6.2" fill="url(#bO)"/>
<circle cx="1338.0" cy="217.6" r="3.9" fill="url(#bH)"/>
<line x1="1673.7" y1="92.5" x2="1674.8" y2="77.2" stroke="#555" stroke-width="2.8"/>
<line x1="1674.8" y1="77.2" x2="1675.9" y2="61.9" stroke="#8a8a8a" stroke-width="2.8"/>
<line x1="1673.7" y1="92.5" x2="1660.6" y2="88.7" stroke="#555" stroke-width="2.8"/>
<line x1="1660.6" y1="88.7" x2="1647.5" y2="84.8" stroke="#8a8a8a" stroke-width="2.8"/>
<line x1="1673.7" y1="92.5" x2="1683.0" y2="87.0" stroke="#555" stroke-width="2.8"/>
<line x1="1683.0" y1="87.0" x2="1692.3" y2="81.6" stroke="#8a8a8a" stroke-width="2.8"/>
<line x1="1673.7" y1="92.5" x2="1666.1" y2="96.9" stroke="#555" stroke-width="2.8"/>
<line x1="1666.1" y1="96.9" x2="1658.4" y2="101.2" stroke="#8a8a8a" stroke-width="2.8"/>
<line x1="1673.7" y1="92.5" x2="1673.7" y2="107.2" stroke="#555" stroke-width="2.8"/>
<line x1="1673.7" y1="107.2" x2="1673.7" y2="122.0" stroke="#8a8a8a" stroke-width="2.8"/>
<line x1="1673.7" y1="92.5" x2="1693.4" y2="97.4" stroke="#555" stroke-width="3.8"/>
<line x1="1693.4" y1="97.4" x2="1713.1" y2="102.3" stroke="#555" stroke-width="3.8"/>
<line x1="1713.1" y1="102.3" x2="1727.3" y2="91.9" stroke="#555" stroke-width="3.8"/>
<line x1="1727.3" y1="91.9" x2="1741.5" y2="81.6" stroke="#555" stroke-width="3.8"/>
<line x1="1741.5" y1="81.6" x2="1757.4" y2="87.6" stroke="#555" stroke-width="3.8"/>
<line x1="1757.4" y1="87.6" x2="1773.2" y2="93.6" stroke="#555" stroke-width="3.8"/>
<line x1="1773.2" y1="93.6" x2="1775.4" y2="111.1" stroke="#555" stroke-width="3.8"/>
<line x1="1775.4" y1="111.1" x2="1777.6" y2="128.6" stroke="#555" stroke-width="3.8"/>
<line x1="1777.6" y1="128.6" x2="1763.4" y2="139.0" stroke="#555" stroke-width="3.8"/>
<line x1="1763.4" y1="139.0" x2="1749.2" y2="149.3" stroke="#555" stroke-width="3.8"/>
<line x1="1749.2" y1="149.3" x2="1733.3" y2="143.3" stroke="#555" stroke-width="3.8"/>
<line x1="1733.3" y1="143.3" x2="1717.5" y2="137.3" stroke="#555" stroke-width="3.8"/>
<line x1="1717.5" y1="137.3" x2="1715.3" y2="119.8" stroke="#555" stroke-width="3.8"/>
<line x1="1715.3" y1="119.8" x2="1713.1" y2="102.3" stroke="#555" stroke-width="3.8"/>
<line x1="1741.5" y1="81.6" x2="1740.4" y2="69.0" stroke="#555" stroke-width="2.8"/>
<line x1="1740.4" y1="69.0" x2="1739.3" y2="56.4" stroke="#8a8a8a" stroke-width="2.8"/>
<line x1="1773.2" y1="93.6" x2="1785.2" y2="85.9" stroke="#555" stroke-width="2.8"/>
<line x1="1785.2" y1="85.9" x2="1797.3" y2="78.3" stroke="#8a8a8a" stroke-width="2.8"/>
<line x1="1717.5" y1="137.3" x2="1706.5" y2="145.0" stroke="#555" stroke-width="2.8"/>
<line x1="1706.5" y1="145.0" x2="1695.6" y2="152.6" stroke="#8a8a8a" stroke-width="2.8"/>
<line x1="1749.2" y1="149.3" x2="1750.8" y2="163.0" stroke="#555" stroke-width="2.8"/>
<line x1="1750.8" y1="163.0" x2="1752.4" y2="176.7" stroke="#8a8a8a" stroke-width="2.8"/>
<line x1="1777.6" y1="128.6" x2="1798.4" y2="137.3" stroke="#555" stroke-width="3.8"/>
<line x1="1798.4" y1="137.3" x2="1819.1" y2="146.1" stroke="#c0c020" stroke-width="3.8"/>
<line x1="1819.1" y1="146.1" x2="1828.4" y2="130.8" stroke="#c0c020" stroke-width="3.8"/>
<line x1="1828.4" y1="130.8" x2="1837.7" y2="115.4" stroke="#c81010" stroke-width="3.8"/>
<line x1="1819.1" y1="146.1" x2="1827.3" y2="152.6" stroke="#c0c020" stroke-width="3.8"/>
<line x1="1827.3" y1="152.6" x2="1835.5" y2="159.2" stroke="#c81010" stroke-width="3.8"/>
<line x1="1819.1" y1="146.1" x2="1815.9" y2="160.3" stroke="#c0c020" stroke-width="3.8"/>
<line x1="1815.9" y1="160.3" x2="1812.6" y2="174.5" stroke="#c81010" stroke-width="3.8"/>
<line x1="1960.2" y1="117.6" x2="1953.6" y2="107.8" stroke="#1828c8" stroke-width="2.8"/>
<line x1="1953.6" y1="107.8" x2="1947.1" y2="98.0" stroke="#8a8a8a" stroke-width="2.8"/>
<line x1="1960.2" y1="117.6" x2="1972.8" y2="116.5" stroke="#1828c8" stroke-width="2.8"/>
<line x1="1972.8" y1="116.5" x2="1985.4" y2="115.4" stroke="#8a8a8a" stroke-width="2.8"/>
<line x1="1960.2" y1="117.6" x2="1954.2" y2="133.5" stroke="#1828c8" stroke-width="3.8"/>
<line x1="1954.2" y1="133.5" x2="1948.2" y2="149.3" stroke="#555" stroke-width="3.8"/>
<line x1="1948.2" y1="149.3" x2="1933.4" y2="151.5" stroke="#555" stroke-width="3.8"/>
<line x1="1933.4" y1="151.5" x2="1918.7" y2="153.7" stroke="#555" stroke-width="3.8"/>
<line x1="1918.7" y1="153.7" x2="1913.2" y2="170.1" stroke="#555" stroke-width="3.8"/>
<line x1="1913.2" y1="170.1" x2="1907.7" y2="186.5" stroke="#555" stroke-width="3.8"/>
<line x1="1907.7" y1="186.5" x2="1917.6" y2="200.7" stroke="#555" stroke-width="3.8"/>
<line x1="1917.6" y1="200.7" x2="1927.4" y2="215.0" stroke="#555" stroke-width="3.8"/>
<line x1="1927.4" y1="215.0" x2="1943.8" y2="212.8" stroke="#555" stroke-width="3.8"/>
<line x1="1943.8" y1="212.8" x2="1960.2" y2="210.6" stroke="#555" stroke-width="3.8"/>
<line x1="1960.2" y1="210.6" x2="1965.1" y2="195.3" stroke="#555" stroke-width="3.8"/>
<line x1="1965.1" y1="195.3" x2="1970.0" y2="180.0" stroke="#555" stroke-width="3.8"/>
<line x1="1970.0" y1="180.0" x2="1959.1" y2="164.7" stroke="#555" stroke-width="3.8"/>
<line x1="1959.1" y1="164.7" x2="1948.2" y2="149.3" stroke="#555" stroke-width="3.8"/>
<line x1="1918.7" y1="153.7" x2="1910.4" y2="143.3" stroke="#555" stroke-width="2.8"/>
<line x1="1910.4" y1="143.3" x2="1902.2" y2="132.9" stroke="#8a8a8a" stroke-width="2.8"/>
<line x1="1907.7" y1="186.5" x2="1896.8" y2="187.1" stroke="#555" stroke-width="2.8"/>
<line x1="1896.8" y1="187.1" x2="1885.8" y2="187.6" stroke="#8a8a8a" stroke-width="2.8"/>
<line x1="1970.0" y1="180.0" x2="1982.6" y2="178.9" stroke="#555" stroke-width="2.8"/>
<line x1="1982.6" y1="178.9" x2="1995.2" y2="177.8" stroke="#8a8a8a" stroke-width="2.8"/>
<line x1="1960.2" y1="210.6" x2="1968.4" y2="222.6" stroke="#555" stroke-width="2.8"/>
<line x1="1968.4" y1="222.6" x2="1976.6" y2="234.6" stroke="#8a8a8a" stroke-width="2.8"/>
<line x1="1927.4" y1="215.0" x2="1923.6" y2="232.4" stroke="#555" stroke-width="3.8"/>
<line x1="1923.6" y1="232.4" x2="1919.7" y2="249.9" stroke="#1828c8" stroke-width="3.8"/>
<line x1="1919.7" y1="249.9" x2="1904.4" y2="256.0" stroke="#1828c8" stroke-width="3.8"/>
<line x1="1904.4" y1="256.0" x2="1889.1" y2="262.0" stroke="#555" stroke-width="3.8"/>
<line x1="1889.1" y1="262.0" x2="1872.7" y2="254.3" stroke="#555" stroke-width="3.8"/>
<line x1="1872.7" y1="254.3" x2="1856.3" y2="246.7" stroke="#555" stroke-width="3.8"/>
<line x1="1856.3" y1="246.7" x2="1841.0" y2="254.3" stroke="#555" stroke-width="3.8"/>
<line x1="1841.0" y1="254.3" x2="1825.7" y2="262.0" stroke="#555" stroke-width="3.8"/>
<line x1="1825.7" y1="262.0" x2="1825.2" y2="279.5" stroke="#555" stroke-width="3.8"/>
<line x1="1825.2" y1="279.5" x2="1824.6" y2="297.0" stroke="#555" stroke-width="3.8"/>
<line x1="1824.6" y1="297.0" x2="1841.0" y2="306.8" stroke="#555" stroke-width="3.8"/>
<line x1="1841.0" y1="306.8" x2="1857.4" y2="316.6" stroke="#555" stroke-width="3.8"/>
<line x1="1857.4" y1="316.6" x2="1872.7" y2="307.3" stroke="#555" stroke-width="3.8"/>
<line x1="1872.7" y1="307.3" x2="1888.0" y2="298.1" stroke="#555" stroke-width="3.8"/>
<line x1="1888.0" y1="298.1" x2="1888.6" y2="280.0" stroke="#555" stroke-width="3.8"/>
<line x1="1888.6" y1="280.0" x2="1889.1" y2="262.0" stroke="#555" stroke-width="3.8"/>
<line x1="1856.3" y1="246.7" x2="1855.8" y2="234.1" stroke="#555" stroke-width="2.8"/>
<line x1="1855.8" y1="234.1" x2="1855.2" y2="221.5" stroke="#8a8a8a" stroke-width="2.8"/>
<line x1="1825.7" y1="262.0" x2="1814.2" y2="256.0" stroke="#555" stroke-width="2.8"/>
<line x1="1814.2" y1="256.0" x2="1802.7" y2="249.9" stroke="#8a8a8a" stroke-width="2.8"/>
<line x1="1888.0" y1="298.1" x2="1900.1" y2="304.1" stroke="#555" stroke-width="2.8"/>
<line x1="1900.1" y1="304.1" x2="1912.1" y2="310.1" stroke="#8a8a8a" stroke-width="2.8"/>
<line x1="1857.4" y1="316.6" x2="1857.4" y2="328.7" stroke="#555" stroke-width="2.8"/>
<line x1="1857.4" y1="328.7" x2="1857.4" y2="340.7" stroke="#8a8a8a" stroke-width="2.8"/>
<line x1="1824.6" y1="297.0" x2="1810.9" y2="306.8" stroke="#555" stroke-width="3.8"/>
<line x1="1810.9" y1="306.8" x2="1797.3" y2="316.6" stroke="#1828c8" stroke-width="3.8"/>
<line x1="1797.3" y1="316.6" x2="1780.3" y2="312.3" stroke="#1828c8" stroke-width="3.8"/>
<line x1="1780.3" y1="312.3" x2="1763.4" y2="307.9" stroke="#555" stroke-width="3.8"/>
<line x1="1763.4" y1="307.9" x2="1759.6" y2="301.3" stroke="#555" stroke-width="3.8"/>
<line x1="1759.6" y1="301.3" x2="1755.7" y2="294.8" stroke="#555" stroke-width="3.8"/>
<line x1="1755.7" y1="294.8" x2="1739.9" y2="292.0" stroke="#555" stroke-width="3.8"/>
<line x1="1739.9" y1="292.0" x2="1724.0" y2="289.3" stroke="#555" stroke-width="3.8"/>
<line x1="1724.0" y1="289.3" x2="1709.3" y2="291.5" stroke="#555" stroke-width="3.8"/>
<line x1="1709.3" y1="291.5" x2="1694.5" y2="293.7" stroke="#555" stroke-width="3.8"/>
<line x1="1694.5" y1="293.7" x2="1698.3" y2="299.1" stroke="#555" stroke-width="3.8"/>
<line x1="1698.3" y1="299.1" x2="1702.1" y2="304.6" stroke="#555" stroke-width="3.8"/>
<line x1="1702.1" y1="304.6" x2="1719.6" y2="308.4" stroke="#555" stroke-width="3.8"/>
<line x1="1719.6" y1="308.4" x2="1737.1" y2="312.3" stroke="#555" stroke-width="3.8"/>
<line x1="1737.1" y1="312.3" x2="1750.3" y2="310.1" stroke="#555" stroke-width="3.8"/>
<line x1="1750.3" y1="310.1" x2="1763.4" y2="307.9" stroke="#555" stroke-width="3.8"/>
<line x1="1755.7" y1="294.8" x2="1766.1" y2="293.7" stroke="#555" stroke-width="2.8"/>
<line x1="1766.1" y1="293.7" x2="1776.5" y2="292.6" stroke="#8a8a8a" stroke-width="2.8"/>
<line x1="1724.0" y1="289.3" x2="1720.7" y2="283.8" stroke="#555" stroke-width="2.8"/>
<line x1="1720.7" y1="283.8" x2="1717.5" y2="278.4" stroke="#8a8a8a" stroke-width="2.8"/>
<line x1="1702.1" y1="304.6" x2="1692.9" y2="306.3" stroke="#555" stroke-width="2.8"/>
<line x1="1692.9" y1="306.3" x2="1683.6" y2="307.9" stroke="#8a8a8a" stroke-width="2.8"/>
<line x1="1737.1" y1="312.3" x2="1739.9" y2="316.6" stroke="#555" stroke-width="2.8"/>
<line x1="1739.9" y1="316.6" x2="1742.6" y2="321.0" stroke="#8a8a8a" stroke-width="2.8"/>
<line x1="1694.5" y1="293.7" x2="1677.5" y2="290.4" stroke="#555" stroke-width="3.8"/>
<line x1="1677.5" y1="290.4" x2="1660.6" y2="287.1" stroke="#1828c8" stroke-width="3.8"/>
<line x1="1660.6" y1="287.1" x2="1654.0" y2="281.7" stroke="#1828c8" stroke-width="2.8"/>
<line x1="1654.0" y1="281.7" x2="1647.5" y2="276.2" stroke="#8a8a8a" stroke-width="2.8"/>
<line x1="1660.6" y1="287.1" x2="1651.8" y2="290.4" stroke="#1828c8" stroke-width="3.8"/>
<line x1="1651.8" y1="290.4" x2="1643.1" y2="293.7" stroke="#555" stroke-width="3.8"/>
<line x1="1643.1" y1="293.7" x2="1626.7" y2="284.9" stroke="#555" stroke-width="3.8"/>
<line x1="1626.7" y1="284.9" x2="1610.3" y2="276.2" stroke="#555" stroke-width="3.8"/>
<line x1="1610.3" y1="276.2" x2="1600.5" y2="279.5" stroke="#555" stroke-width="3.8"/>
<line x1="1600.5" y1="279.5" x2="1590.6" y2="282.7" stroke="#555" stroke-width="3.8"/>
<line x1="1590.6" y1="282.7" x2="1597.7" y2="294.2" stroke="#555" stroke-width="3.8"/>
<line x1="1597.7" y1="294.2" x2="1604.8" y2="305.7" stroke="#555" stroke-width="3.8"/>
<line x1="1604.8" y1="305.7" x2="1620.7" y2="312.8" stroke="#555" stroke-width="3.8"/>
<line x1="1620.7" y1="312.8" x2="1636.5" y2="319.9" stroke="#555" stroke-width="3.8"/>
<line x1="1636.5" y1="319.9" x2="1646.4" y2="316.1" stroke="#555" stroke-width="3.8"/>
<line x1="1646.4" y1="316.1" x2="1656.2" y2="312.3" stroke="#555" stroke-width="3.8"/>
<line x1="1656.2" y1="312.3" x2="1649.7" y2="303.0" stroke="#555" stroke-width="3.8"/>
<line x1="1649.7" y1="303.0" x2="1643.1" y2="293.7" stroke="#555" stroke-width="3.8"/>
<line x1="1610.3" y1="276.2" x2="1605.4" y2="267.4" stroke="#555" stroke-width="2.8"/>
<line x1="1605.4" y1="267.4" x2="1600.5" y2="258.7" stroke="#8a8a8a" stroke-width="2.8"/>
<line x1="1590.6" y1="282.7" x2="1579.7" y2="276.2" stroke="#555" stroke-width="2.8"/>
<line x1="1579.7" y1="276.2" x2="1568.7" y2="269.6" stroke="#8a8a8a" stroke-width="2.8"/>
<line x1="1604.8" y1="305.7" x2="1597.7" y2="306.8" stroke="#555" stroke-width="2.8"/>
<line x1="1597.7" y1="306.8" x2="1590.6" y2="307.9" stroke="#8a8a8a" stroke-width="2.8"/>
<line x1="1656.2" y1="312.3" x2="1668.3" y2="318.8" stroke="#555" stroke-width="2.8"/>
<line x1="1668.3" y1="318.8" x2="1680.3" y2="325.4" stroke="#8a8a8a" stroke-width="2.8"/>
<line x1="1636.5" y1="319.9" x2="1642.6" y2="327.6" stroke="#555" stroke-width="2.8"/>
<line x1="1642.6" y1="327.6" x2="1648.6" y2="335.2" stroke="#8a8a8a" stroke-width="2.8"/>
<circle cx="1673.7" cy="92.5" r="6.8" fill="url(#bC)"/>
<circle cx="1675.9" cy="61.9" r="3.9" fill="url(#bH)"/>
<circle cx="1647.5" cy="84.8" r="3.9" fill="url(#bH)"/>
<circle cx="1692.3" cy="81.6" r="3.9" fill="url(#bH)"/>
<circle cx="1658.4" cy="101.2" r="3.9" fill="url(#bH)"/>
<circle cx="1673.7" cy="122.0" r="3.9" fill="url(#bH)"/>
<circle cx="1713.1" cy="102.3" r="6.8" fill="url(#bC)"/>
<circle cx="1741.5" cy="81.6" r="6.8" fill="url(#bC)"/>
<circle cx="1773.2" cy="93.6" r="6.8" fill="url(#bC)"/>
<circle cx="1777.6" cy="128.6" r="6.8" fill="url(#bC)"/>
<circle cx="1749.2" cy="149.3" r="6.8" fill="url(#bC)"/>
<circle cx="1717.5" cy="137.3" r="6.8" fill="url(#bC)"/>
<circle cx="1739.3" cy="56.4" r="3.9" fill="url(#bH)"/>
<circle cx="1797.3" cy="78.3" r="3.9" fill="url(#bH)"/>
<circle cx="1695.6" cy="152.6" r="3.9" fill="url(#bH)"/>
<circle cx="1752.4" cy="176.7" r="3.9" fill="url(#bH)"/>
<circle cx="1819.1" cy="146.1" r="7.2" fill="url(#bS)"/>
<circle cx="1837.7" cy="115.4" r="6.2" fill="url(#bO)"/>
<circle cx="1835.5" cy="159.2" r="6.2" fill="url(#bO)"/>
<circle cx="1812.6" cy="174.5" r="6.2" fill="url(#bO)"/>
<circle cx="1960.2" cy="117.6" r="6.0" fill="url(#bN)"/>
<circle cx="1947.1" cy="98.0" r="3.9" fill="url(#bH)"/>
<circle cx="1985.4" cy="115.4" r="3.9" fill="url(#bH)"/>
<circle cx="1948.2" cy="149.3" r="6.8" fill="url(#bC)"/>
<circle cx="1918.7" cy="153.7" r="6.8" fill="url(#bC)"/>
<circle cx="1907.7" cy="186.5" r="6.8" fill="url(#bC)"/>
<circle cx="1927.4" cy="215.0" r="6.8" fill="url(#bC)"/>
<circle cx="1960.2" cy="210.6" r="6.8" fill="url(#bC)"/>
<circle cx="1970.0" cy="180.0" r="6.8" fill="url(#bC)"/>
<circle cx="1902.2" cy="132.9" r="3.9" fill="url(#bH)"/>
<circle cx="1885.8" cy="187.6" r="3.9" fill="url(#bH)"/>
<circle cx="1995.2" cy="177.8" r="3.9" fill="url(#bH)"/>
<circle cx="1976.6" cy="234.6" r="3.9" fill="url(#bH)"/>
<circle cx="1919.7" cy="249.9" r="6.0" fill="url(#bN)"/>
<circle cx="1889.1" cy="262.0" r="6.8" fill="url(#bC)"/>
<circle cx="1856.3" cy="246.7" r="6.8" fill="url(#bC)"/>
<circle cx="1825.7" cy="262.0" r="6.8" fill="url(#bC)"/>
<circle cx="1824.6" cy="297.0" r="6.8" fill="url(#bC)"/>
<circle cx="1857.4" cy="316.6" r="6.8" fill="url(#bC)"/>
<circle cx="1888.0" cy="298.1" r="6.8" fill="url(#bC)"/>
<circle cx="1855.2" cy="221.5" r="3.9" fill="url(#bH)"/>
<circle cx="1802.7" cy="249.9" r="3.9" fill="url(#bH)"/>
<circle cx="1912.1" cy="310.1" r="3.9" fill="url(#bH)"/>
<circle cx="1857.4" cy="340.7" r="3.9" fill="url(#bH)"/>
<circle cx="1797.3" cy="316.6" r="6.0" fill="url(#bN)"/>
<circle cx="1763.4" cy="307.9" r="6.8" fill="url(#bC)"/>
<circle cx="1755.7" cy="294.8" r="6.8" fill="url(#bC)"/>
<circle cx="1724.0" cy="289.3" r="6.8" fill="url(#bC)"/>
<circle cx="1694.5" cy="293.7" r="6.8" fill="url(#bC)"/>
<circle cx="1702.1" cy="304.6" r="6.8" fill="url(#bC)"/>
<circle cx="1737.1" cy="312.3" r="6.8" fill="url(#bC)"/>
<circle cx="1776.5" cy="292.6" r="3.9" fill="url(#bH)"/>
<circle cx="1717.5" cy="278.4" r="3.9" fill="url(#bH)"/>
<circle cx="1683.6" cy="307.9" r="3.9" fill="url(#bH)"/>
<circle cx="1742.6" cy="321.0" r="3.9" fill="url(#bH)"/>
<circle cx="1660.6" cy="287.1" r="6.0" fill="url(#bN)"/>
<circle cx="1647.5" cy="276.2" r="3.9" fill="url(#bH)"/>
<circle cx="1643.1" cy="293.7" r="6.8" fill="url(#bC)"/>
<circle cx="1610.3" cy="276.2" r="6.8" fill="url(#bC)"/>
<circle cx="1590.6" cy="282.7" r="6.8" fill="url(#bC)"/>
<circle cx="1604.8" cy="305.7" r="6.8" fill="url(#bC)"/>
<circle cx="1636.5" cy="319.9" r="6.8" fill="url(#bC)"/>
<circle cx="1656.2" cy="312.3" r="6.8" fill="url(#bC)"/>
<circle cx="1600.5" cy="258.7" r="3.9" fill="url(#bH)"/>
<circle cx="1568.7" cy="269.6" r="3.9" fill="url(#bH)"/>
<circle cx="1590.6" cy="307.9" r="3.9" fill="url(#bH)"/>
<circle cx="1680.3" cy="325.4" r="3.9" fill="url(#bH)"/>
<circle cx="1648.6" cy="335.2" r="3.9" fill="url(#bH)"/>
<ellipse cx="1004" cy="200.5" rx="8.5" ry="2.2" transform="rotate(10 1004 200.5)" fill="#20c050" stroke="#0a5a20" stroke-width="0.6"/>
<ellipse cx="1053" cy="209" rx="11.5" ry="5" transform="rotate(8 1053 209)" fill="url(#nciblob)" stroke="#0a5a20" stroke-width="0.6"/>
<ellipse cx="1083" cy="202" rx="3" ry="1" transform="rotate(-45 1083 202)" fill="#30c060" stroke="#0a5a20" stroke-width="0.6"/>
<ellipse cx="1385.5" cy="95" rx="3.5" ry="1.5" transform="rotate(5 1385.5 95)" fill="#30c060" stroke="#0a5a20" stroke-width="0.6"/>
<ellipse cx="1404" cy="102" rx="5" ry="1.6" transform="rotate(-55 1404 102)" fill="#30c060" stroke="#0a5a20" stroke-width="0.6"/>
<ellipse cx="1364.5" cy="118" rx="15.5" ry="7.5" transform="rotate(15 1364.5 118)" fill="url(#nciblob)" stroke="#0a5a20" stroke-width="0.6"/>
<ellipse cx="1349" cy="207" rx="13" ry="5.5" transform="rotate(52 1349 207)" fill="url(#nciblob)" stroke="#0a5a20" stroke-width="0.6"/>
<ellipse cx="1874.5" cy="126" rx="2.5" ry="0.8" transform="rotate(-70 1874.5 126)" fill="#20a050" stroke="#0a5a20" stroke-width="0.6"/>
<ellipse cx="1865" cy="175" rx="6" ry="2" transform="rotate(-65 1865 175)" fill="#20b050" stroke="#0a5a20" stroke-width="0.6"/>
<ellipse cx="1837" cy="202" rx="5" ry="1.5" transform="rotate(-30 1837 202)" fill="#20a050" stroke="#0a5a20" stroke-width="0.6"/>
<rect x="1040" y="357.6" width="662" height="26.2" fill="url(#nci)"/>
<text x="994.4" y="418.5" font-size="34.5" fill="#000" text-anchor="start" font-weight="normal" textLength="104.3" lengthAdjust="spacingAndGlyphs">Strong</text>
<text x="977.6" y="456.5" font-size="34.5" fill="#000" text-anchor="start" font-weight="normal" textLength="146.5" lengthAdjust="spacingAndGlyphs">attraction</text>
<text x="1255.0" y="423.0" font-size="34.5" fill="#000" text-anchor="start" font-weight="normal" textLength="234" lengthAdjust="spacingAndGlyphs">Van der Waals</text>
<text x="1290.0" y="459.5" font-size="34.5" fill="#000" text-anchor="start" font-weight="normal" textLength="164" lengthAdjust="spacingAndGlyphs">interaction</text>
<text x="1598.7" y="419.0" font-size="34.5" fill="#000" text-anchor="start" font-weight="normal" textLength="103.3" lengthAdjust="spacingAndGlyphs">Strong</text>
<text x="1583.0" y="457.0" font-size="34.5" fill="#000" text-anchor="start" font-weight="normal" textLength="144.6" lengthAdjust="spacingAndGlyphs">repulsion</text>
<defs>
<linearGradient id="gc0" x1="0" y1="0" x2="0" y2="1"><stop offset="0" stop-color="#2aa0ee"/><stop offset="1" stop-color="#90d2f8"/></linearGradient>
<linearGradient id="gc1" x1="0" y1="0" x2="0" y2="1"><stop offset="0" stop-color="#22dd22"/><stop offset="1" stop-color="#70ee70"/></linearGradient>
<linearGradient id="gc2" x1="0" y1="0" x2="0" y2="1"><stop offset="0" stop-color="#7040e8"/><stop offset="1" stop-color="#c8aaf2"/></linearGradient>
<linearGradient id="gc3" x1="0" y1="0" x2="0" y2="1"><stop offset="0" stop-color="#e85a5a"/><stop offset="1" stop-color="#f4a8b0"/></linearGradient>
</defs>
<polygon points="942.0,868.8 943.3,868.8 944.5,868.8 945.8,868.8 947.0,868.9 948.3,868.9 949.6,868.9 950.8,868.9 952.1,868.9 953.3,868.9 954.6,868.9 955.9,868.9 957.1,868.9 958.4,868.9 959.6,868.9 960.9,868.9 962.2,868.9 963.4,868.9 964.7,868.9 965.9,868.9 967.2,868.9 968.5,868.9 969.7,868.9 971.0,868.8 972.2,868.8 973.5,868.8 974.8,868.8 976.0,868.7 977.3,868.7 978.5,868.6 979.8,868.6 981.1,868.5 982.3,868.4 983.6,868.3 984.8,868.3 986.1,868.2 987.4,868.1 988.6,867.9 989.9,867.8 991.1,867.7 992.4,867.5 993.7,867.4 994.9,867.2 996.2,867.0 997.4,866.8 998.7,866.6 1000.0,866.3 1001.2,866.1 1002.5,865.8 1003.7,865.5 1005.0,865.2 1006.3,864.8 1007.5,864.5 1008.8,864.1 1010.0,863.7 1011.3,863.3 1012.6,862.8 1013.8,862.3 1015.1,861.8 1016.3,861.3 1017.6,860.7 1018.9,860.1 1020.1,859.5 1021.4,858.9 1022.6,858.2 1023.9,857.5 1025.2,856.7 1026.4,855.9 1027.7,855.1 1028.9,854.3 1030.2,853.4 1031.5,852.5 1032.7,851.6 1034.0,850.6 1035.2,849.7 1036.5,848.6 1037.8,847.6 1039.0,846.5 1040.3,845.4 1041.5,844.3 1042.8,843.2 1044.1,842.0 1045.3,840.8 1046.6,839.6 1047.8,838.4 1049.1,837.2 1050.4,835.9 1051.6,834.7 1052.9,833.4 1054.1,832.1 1055.4,830.9 1056.7,829.6 1057.9,828.3 1059.2,827.1 1060.4,825.8 1061.7,824.6 1063.0,823.4 1064.2,822.2 1065.5,821.0 1066.7,819.9 1068.0,818.7 1069.3,817.7 1070.5,816.6 1071.8,815.6 1073.0,814.6 1074.3,813.7 1075.6,812.8 1076.8,812.0 1078.1,811.2 1079.3,810.4 1080.6,809.8 1081.9,809.2 1083.1,808.6 1084.4,808.1 1085.6,807.7 1086.9,807.3 1088.2,807.0 1089.4,806.8 1090.7,806.7 1091.9,806.6 1093.2,806.6 1094.5,806.6 1095.7,806.7 1097.0,806.9 1098.2,807.2 1099.5,807.5 1100.8,807.9 1102.0,808.4 1103.3,808.9 1104.5,809.5 1105.8,810.1 1107.1,810.8 1108.3,811.6 1109.6,812.4 1110.8,813.3 1112.1,814.2 1113.4,815.2 1114.6,816.2 1115.9,817.2 1117.1,818.3 1118.4,819.5 1119.7,820.6 1120.9,821.8 1122.2,823.0 1123.4,824.2 1124.7,825.5 1126.0,826.8 1127.2,828.0 1128.5,829.3 1129.7,830.6 1131.0,831.9 1132.3,833.2 1133.5,834.5 1134.8,835.8 1136.0,837.1 1137.3,838.4 1138.6,839.7 1139.8,840.9 1141.1,842.2 1142.3,843.4 1143.6,844.6 1144.9,845.8 1146.1,846.9 1147.4,848.1 1148.6,849.2 1149.9,850.3 1151.2,851.3 1152.4,852.3 1153.7,853.3 1154.9,854.3 1156.2,855.2 1157.5,856.1 1158.7,857.0 1160.0,857.8 1161.2,858.7 1162.5,859.4 1163.8,860.2 1165.0,860.9 1166.3,861.6 1167.5,862.2 1168.8,862.9 1170.1,863.5 1171.3,864.0 1172.6,864.6 1173.8,865.1 1175.1,865.6 1176.4,866.1 1177.6,866.5 1178.9,866.9 1180.1,867.3 1181.4,867.7 1182.7,868.0 1183.9,868.4 1185.2,868.7 1186.4,869.0 1187.7,869.3 1189.0,869.5 1190.2,869.8 1191.5,870.0 1192.7,870.2 1194.0,870.4 1195.3,870.6 1196.5,870.8 1197.8,870.9 1199.0,871.1 1200.3,871.2 1201.6,871.3 1202.8,871.5 1204.1,871.6 1205.3,871.7 1206.6,871.8 1207.9,871.9 1209.1,872.0 1210.4,872.1 1211.6,872.1 1212.9,872.2 1214.2,872.3 1215.4,872.3 1216.7,872.4 1217.9,872.4 1219.2,872.5 1220.5,872.5 1221.7,872.6 1223.0,872.6 1224.2,872.7 1225.5,872.7 1226.8,872.7 1228.0,872.8 1229.3,872.8 1230.5,872.8 1231.8,872.9 1233.1,872.9 1234.3,872.9 1235.6,872.9 1236.8,873.0 1238.1,873.0 1239.4,873.0 1240.6,873.0 1241.9,873.1 1243.1,873.1 1244.4,873.1 1245.7,873.1 1246.9,873.2 1248.2,873.2 1249.4,873.2 1250.7,873.2 1252.0,873.2 1253.2,873.3 1254.5,873.3 1255.7,873.3 1257.0,873.3 1258.3,873.3 1259.5,873.3 1260.8,873.4 1262.0,873.4 1263.3,873.4 1264.6,873.4 1265.8,873.4 1267.1,873.5 1268.3,873.5 1269.6,873.5 1270.9,873.5 1272.1,873.5 1273.4,873.6 1274.6,873.6 1275.9,873.6 1277.2,873.6 1278.4,873.6 1279.7,873.6 1280.9,873.7 1282.2,873.7 1283.5,873.7 1284.7,873.7 1286.0,873.7 1287.2,873.7 1288.5,873.8 1289.8,873.8 1291.0,873.8 1292.3,873.8 1293.5,873.8 1294.8,873.9 1294.8,873.9 1293.5,873.8 1292.3,873.8 1291.0,873.8 1289.8,873.8 1288.5,873.8 1287.2,873.7 1286.0,873.7 1284.7,873.7 1283.5,873.7 1282.2,873.7 1280.9,873.7 1279.7,873.6 1278.4,873.6 1277.2,873.6 1275.9,873.6 1274.6,873.6 1273.4,873.6 1272.1,873.5 1270.9,873.5 1269.6,873.5 1268.3,873.5 1267.1,873.5 1265.8,873.4 1264.6,873.4 1263.3,873.4 1262.0,873.4 1260.8,873.4 1259.5,873.4 1258.3,873.3 1257.0,873.3 1255.7,873.3 1254.5,873.3 1253.2,873.3 1252.0,873.2 1250.7,873.2 1249.4,873.2 1248.2,873.2 1246.9,873.2 1245.7,873.2 1244.4,873.1 1243.1,873.1 1241.9,873.1 1240.6,873.1 1239.4,873.1 1238.1,873.0 1236.8,873.0 1235.6,873.0 1234.3,873.0 1233.1,873.0 1231.8,873.0 1230.5,872.9 1229.3,872.9 1228.0,872.9 1226.8,872.9 1225.5,872.9 1224.2,872.9 1223.0,872.8 1221.7,872.8 1220.5,872.8 1219.2,872.8 1217.9,872.8 1216.7,872.7 1215.4,872.7 1214.2,872.7 1212.9,872.7 1211.6,872.7 1210.4,872.7 1209.1,872.6 1207.9,872.6 1206.6,872.6 1205.3,872.6 1204.1,872.6 1202.8,872.5 1201.6,872.5 1200.3,872.5 1199.0,872.5 1197.8,872.5 1196.5,872.5 1195.3,872.4 1194.0,872.4 1192.7,872.4 1191.5,872.4 1190.2,872.4 1189.0,872.3 1187.7,872.3 1186.4,872.3 1185.2,872.3 1183.9,872.3 1182.7,872.3 1181.4,872.2 1180.1,872.2 1178.9,872.2 1177.6,872.2 1176.4,872.2 1175.1,872.1 1173.8,872.1 1172.6,872.1 1171.3,872.1 1170.1,872.1 1168.8,872.1 1167.5,872.0 1166.3,872.0 1165.0,872.0 1163.8,872.0 1162.5,872.0 1161.2,872.0 1160.0,871.9 1158.7,871.9 1157.5,871.9 1156.2,871.9 1154.9,871.9 1153.7,871.8 1152.4,871.8 1151.2,871.8 1149.9,871.8 1148.6,871.8 1147.4,871.8 1146.1,871.7 1144.9,871.7 1143.6,871.7 1142.3,871.7 1141.1,871.7 1139.8,871.6 1138.6,871.6 1137.3,871.6 1136.0,871.6 1134.8,871.6 1133.5,871.6 1132.3,871.5 1131.0,871.5 1129.7,871.5 1128.5,871.5 1127.2,871.5 1126.0,871.4 1124.7,871.4 1123.4,871.4 1122.2,871.4 1120.9,871.4 1119.7,871.4 1118.4,871.3 1117.1,871.3 1115.9,871.3 1114.6,871.3 1113.4,871.3 1112.1,871.3 1110.8,871.2 1109.6,871.2 1108.3,871.2 1107.1,871.2 1105.8,871.2 1104.5,871.1 1103.3,871.1 1102.0,871.1 1100.8,871.1 1099.5,871.1 1098.2,871.1 1097.0,871.0 1095.7,871.0 1094.5,871.0 1093.2,871.0 1091.9,871.0 1090.7,870.9 1089.4,870.9 1088.2,870.9 1086.9,870.9 1085.6,870.9 1084.4,870.9 1083.1,870.8 1081.9,870.8 1080.6,870.8 1079.3,870.8 1078.1,870.8 1076.8,870.7 1075.6,870.7 1074.3,870.7 1073.0,870.7 1071.8,870.7 1070.5,870.7 1069.3,870.6 1068.0,870.6 1066.7,870.6 1065.5,870.6 1064.2,870.6 1063.0,870.5 1061.7,870.5 1060.4,870.5 1059.2,870.5 1057.9,870.5 1056.7,870.5 1055.4,870.4 1054.1,870.4 1052.9,870.4 1051.6,870.4 1050.4,870.4 1049.1,870.4 1047.8,870.3 1046.6,870.3 1045.3,870.3 1044.1,870.3 1042.8,870.3 1041.5,870.2 1040.3,870.2 1039.0,870.2 1037.8,870.2 1036.5,870.2 1035.2,870.2 1034.0,870.1 1032.7,870.1 1031.5,870.1 1030.2,870.1 1028.9,870.1 1027.7,870.0 1026.4,870.0 1025.2,870.0 1023.9,870.0 1022.6,870.0 1021.4,870.0 1020.1,869.9 1018.9,869.9 1017.6,869.9 1016.3,869.9 1015.1,869.9 1013.8,869.8 1012.6,869.8 1011.3,869.8 1010.0,869.8 1008.8,869.8 1007.5,869.8 1006.3,869.7 1005.0,869.7 1003.7,869.7 1002.5,869.7 1001.2,869.7 1000.0,869.7 998.7,869.6 997.4,869.6 996.2,869.6 994.9,869.6 993.7,869.6 992.4,869.5 991.1,869.5 989.9,869.5 988.6,869.5 987.4,869.5 986.1,869.5 984.8,869.4 983.6,869.4 982.3,869.4 981.1,869.4 979.8,869.4 978.5,869.3 977.3,869.3 976.0,869.3 974.8,869.3 973.5,869.3 972.2,869.3 971.0,869.2 969.7,869.2 968.5,869.2 967.2,869.2 965.9,869.2 964.7,869.1 963.4,869.1 962.2,869.1 960.9,869.1 959.6,869.1 958.4,869.1 957.1,869.0 955.9,869.0 954.6,869.0 953.3,869.0 952.1,869.0 950.8,869.0 949.6,868.9 948.3,868.9 947.0,868.9 945.8,868.9 944.5,868.9 943.3,868.8 942.0,868.8" fill="url(#gc0)" fill-opacity="0.88" stroke="none"/>
<polyline points="942.0,868.8 943.3,868.8 944.5,868.8 945.8,868.8 947.0,868.9 948.3,868.9 949.6,868.9 950.8,868.9 952.1,868.9 953.3,868.9 954.6,868.9 955.9,868.9 957.1,868.9 958.4,868.9 959.6,868.9 960.9,868.9 962.2,868.9 963.4,868.9 964.7,868.9 965.9,868.9 967.2,868.9 968.5,868.9 969.7,868.9 971.0,868.8 972.2,868.8 973.5,868.8 974.8,868.8 976.0,868.7 977.3,868.7 978.5,868.6 979.8,868.6 981.1,868.5 982.3,868.4 983.6,868.3 984.8,868.3 986.1,868.2 987.4,868.1 988.6,867.9 989.9,867.8 991.1,867.7 992.4,867.5 993.7,867.4 994.9,867.2 996.2,867.0 997.4,866.8 998.7,866.6 1000.0,866.3 1001.2,866.1 1002.5,865.8 1003.7,865.5 1005.0,865.2 1006.3,864.8 1007.5,864.5 1008.8,864.1 1010.0,863.7 1011.3,863.3 1012.6,862.8 1013.8,862.3 1015.1,861.8 1016.3,861.3 1017.6,860.7 1018.9,860.1 1020.1,859.5 1021.4,858.9 1022.6,858.2 1023.9,857.5 1025.2,856.7 1026.4,855.9 1027.7,855.1 1028.9,854.3 1030.2,853.4 1031.5,852.5 1032.7,851.6 1034.0,850.6 1035.2,849.7 1036.5,848.6 1037.8,847.6 1039.0,846.5 1040.3,845.4 1041.5,844.3 1042.8,843.2 1044.1,842.0 1045.3,840.8 1046.6,839.6 1047.8,838.4 1049.1,837.2 1050.4,835.9 1051.6,834.7 1052.9,833.4 1054.1,832.1 1055.4,830.9 1056.7,829.6 1057.9,828.3 1059.2,827.1 1060.4,825.8 1061.7,824.6 1063.0,823.4 1064.2,822.2 1065.5,821.0 1066.7,819.9 1068.0,818.7 1069.3,817.7 1070.5,816.6 1071.8,815.6 1073.0,814.6 1074.3,813.7 1075.6,812.8 1076.8,812.0 1078.1,811.2 1079.3,810.4 1080.6,809.8 1081.9,809.2 1083.1,808.6 1084.4,808.1 1085.6,807.7 1086.9,807.3 1088.2,807.0 1089.4,806.8 1090.7,806.7 1091.9,806.6 1093.2,806.6 1094.5,806.6 1095.7,806.7 1097.0,806.9 1098.2,807.2 1099.5,807.5 1100.8,807.9 1102.0,808.4 1103.3,808.9 1104.5,809.5 1105.8,810.1 1107.1,810.8 1108.3,811.6 1109.6,812.4 1110.8,813.3 1112.1,814.2 1113.4,815.2 1114.6,816.2 1115.9,817.2 1117.1,818.3 1118.4,819.5 1119.7,820.6 1120.9,821.8 1122.2,823.0 1123.4,824.2 1124.7,825.5 1126.0,826.8 1127.2,828.0 1128.5,829.3 1129.7,830.6 1131.0,831.9 1132.3,833.2 1133.5,834.5 1134.8,835.8 1136.0,837.1 1137.3,838.4 1138.6,839.7 1139.8,840.9 1141.1,842.2 1142.3,843.4 1143.6,844.6 1144.9,845.8 1146.1,846.9 1147.4,848.1 1148.6,849.2 1149.9,850.3 1151.2,851.3 1152.4,852.3 1153.7,853.3 1154.9,854.3 1156.2,855.2 1157.5,856.1 1158.7,857.0 1160.0,857.8 1161.2,858.7 1162.5,859.4 1163.8,860.2 1165.0,860.9 1166.3,861.6 1167.5,862.2 1168.8,862.9 1170.1,863.5 1171.3,864.0 1172.6,864.6 1173.8,865.1 1175.1,865.6 1176.4,866.1 1177.6,866.5 1178.9,866.9 1180.1,867.3 1181.4,867.7 1182.7,868.0 1183.9,868.4 1185.2,868.7 1186.4,869.0 1187.7,869.3 1189.0,869.5 1190.2,869.8 1191.5,870.0 1192.7,870.2 1194.0,870.4 1195.3,870.6 1196.5,870.8 1197.8,870.9 1199.0,871.1 1200.3,871.2 1201.6,871.3 1202.8,871.5 1204.1,871.6 1205.3,871.7 1206.6,871.8 1207.9,871.9 1209.1,872.0 1210.4,872.1 1211.6,872.1 1212.9,872.2 1214.2,872.3 1215.4,872.3 1216.7,872.4 1217.9,872.4 1219.2,872.5 1220.5,872.5 1221.7,872.6 1223.0,872.6 1224.2,872.7 1225.5,872.7 1226.8,872.7 1228.0,872.8 1229.3,872.8 1230.5,872.8 1231.8,872.9 1233.1,872.9 1234.3,872.9 1235.6,872.9 1236.8,873.0 1238.1,873.0 1239.4,873.0 1240.6,873.0 1241.9,873.1 1243.1,873.1 1244.4,873.1 1245.7,873.1 1246.9,873.2 1248.2,873.2 1249.4,873.2 1250.7,873.2 1252.0,873.2 1253.2,873.3 1254.5,873.3 1255.7,873.3 1257.0,873.3 1258.3,873.3 1259.5,873.3 1260.8,873.4 1262.0,873.4 1263.3,873.4 1264.6,873.4 1265.8,873.4 1267.1,873.5 1268.3,873.5 1269.6,873.5 1270.9,873.5 1272.1,873.5 1273.4,873.6 1274.6,873.6 1275.9,873.6 1277.2,873.6 1278.4,873.6 1279.7,873.6 1280.9,873.7 1282.2,873.7 1283.5,873.7 1284.7,873.7 1286.0,873.7 1287.2,873.7 1288.5,873.8 1289.8,873.8 1291.0,873.8 1292.3,873.8 1293.5,873.8 1294.8,873.9" fill="none" stroke="#1a1a8a" stroke-width="2"/>
<polygon points="942.0,868.8 943.3,868.8 944.5,868.9 945.8,868.9 947.0,868.9 948.3,868.9 949.6,868.9 950.8,869.0 952.1,869.0 953.3,869.0 954.6,869.0 955.9,869.0 957.1,869.0 958.4,869.1 959.6,869.1 960.9,869.1 962.2,869.1 963.4,869.1 964.7,869.1 965.9,869.2 967.2,869.2 968.5,869.2 969.7,869.2 971.0,869.2 972.2,869.3 973.5,869.3 974.8,869.3 976.0,869.3 977.3,869.3 978.5,869.3 979.8,869.4 981.1,869.4 982.3,869.4 983.6,869.4 984.8,869.4 986.1,869.4 987.4,869.5 988.6,869.5 989.9,869.5 991.1,869.5 992.4,869.5 993.7,869.5 994.9,869.6 996.2,869.6 997.4,869.6 998.7,869.6 1000.0,869.6 1001.2,869.6 1002.5,869.6 1003.7,869.6 1005.0,869.7 1006.3,869.7 1007.5,869.7 1008.8,869.7 1010.0,869.7 1011.3,869.7 1012.6,869.7 1013.8,869.7 1015.1,869.7 1016.3,869.7 1017.6,869.6 1018.9,869.6 1020.1,869.6 1021.4,869.6 1022.6,869.6 1023.9,869.5 1025.2,869.5 1026.4,869.5 1027.7,869.4 1028.9,869.4 1030.2,869.3 1031.5,869.2 1032.7,869.1 1034.0,869.1 1035.2,869.0 1036.5,868.9 1037.8,868.7 1039.0,868.6 1040.3,868.4 1041.5,868.3 1042.8,868.1 1044.1,867.9 1045.3,867.7 1046.6,867.4 1047.8,867.2 1049.1,866.9 1050.4,866.6 1051.6,866.3 1052.9,865.9 1054.1,865.5 1055.4,865.1 1056.7,864.7 1057.9,864.2 1059.2,863.7 1060.4,863.1 1061.7,862.5 1063.0,861.9 1064.2,861.2 1065.5,860.5 1066.7,859.7 1068.0,858.9 1069.3,858.0 1070.5,857.1 1071.8,856.1 1073.0,855.1 1074.3,854.1 1075.6,852.9 1076.8,851.7 1078.1,850.5 1079.3,849.2 1080.6,847.8 1081.9,846.4 1083.1,844.9 1084.4,843.3 1085.6,841.7 1086.9,840.0 1088.2,838.3 1089.4,836.5 1090.7,834.6 1091.9,832.7 1093.2,830.7 1094.5,828.7 1095.7,826.6 1097.0,824.5 1098.2,822.3 1099.5,820.1 1100.8,817.8 1102.0,815.5 1103.3,813.2 1104.5,810.8 1105.8,808.4 1107.1,805.9 1108.3,803.5 1109.6,801.0 1110.8,798.6 1112.1,796.1 1113.4,793.6 1114.6,791.2 1115.9,788.7 1117.1,786.3 1118.4,783.9 1119.7,781.6 1120.9,779.2 1122.2,777.0 1123.4,774.7 1124.7,772.6 1126.0,770.5 1127.2,768.5 1128.5,766.5 1129.7,764.7 1131.0,762.9 1132.3,761.3 1133.5,759.7 1134.8,758.2 1136.0,756.9 1137.3,755.6 1138.6,754.5 1139.8,753.5 1141.1,752.7 1142.3,752.0 1143.6,751.4 1144.9,750.9 1146.1,750.6 1147.4,750.4 1148.6,750.3 1149.9,750.4 1151.2,750.6 1152.4,751.0 1153.7,751.5 1154.9,752.1 1156.2,752.9 1157.5,753.8 1158.7,754.8 1160.0,756.0 1161.2,757.2 1162.5,758.6 1163.8,760.1 1165.0,761.7 1166.3,763.4 1167.5,765.2 1168.8,767.1 1170.1,769.1 1171.3,771.1 1172.6,773.3 1173.8,775.5 1175.1,777.7 1176.4,780.0 1177.6,782.4 1178.9,784.8 1180.1,787.2 1181.4,789.7 1182.7,792.1 1183.9,794.6 1185.2,797.1 1186.4,799.6 1187.7,802.1 1189.0,804.6 1190.2,807.1 1191.5,809.6 1192.7,812.0 1194.0,814.4 1195.3,816.8 1196.5,819.2 1197.8,821.5 1199.0,823.8 1200.3,826.0 1201.6,828.1 1202.8,830.3 1204.1,832.3 1205.3,834.3 1206.6,836.3 1207.9,838.2 1209.1,840.0 1210.4,841.8 1211.6,843.5 1212.9,845.2 1214.2,846.8 1215.4,848.3 1216.7,849.7 1217.9,851.1 1219.2,852.5 1220.5,853.8 1221.7,855.0 1223.0,856.2 1224.2,857.3 1225.5,858.3 1226.8,859.3 1228.0,860.3 1229.3,861.2 1230.5,862.0 1231.8,862.8 1233.1,863.6 1234.3,864.3 1235.6,865.0 1236.8,865.6 1238.1,866.2 1239.4,866.8 1240.6,867.3 1241.9,867.8 1243.1,868.2 1244.4,868.6 1245.7,869.0 1246.9,869.4 1248.2,869.7 1249.4,870.1 1250.7,870.4 1252.0,870.6 1253.2,870.9 1254.5,871.1 1255.7,871.3 1257.0,871.5 1258.3,871.7 1259.5,871.9 1260.8,872.0 1262.0,872.2 1263.3,872.3 1264.6,872.5 1265.8,872.6 1267.1,872.7 1268.3,872.8 1269.6,872.9 1270.9,872.9 1272.1,873.0 1273.4,873.1 1274.6,873.2 1275.9,873.2 1277.2,873.3 1278.4,873.3 1279.7,873.4 1280.9,873.4 1282.2,873.5 1283.5,873.5 1284.7,873.6 1286.0,873.6 1287.2,873.6 1288.5,873.7 1289.8,873.7 1291.0,873.7 1292.3,873.7 1293.5,873.8 1294.8,873.8 1294.8,873.9 1293.5,873.8 1292.3,873.8 1291.0,873.8 1289.8,873.8 1288.5,873.8 1287.2,873.7 1286.0,873.7 1284.7,873.7 1283.5,873.7 1282.2,873.7 1280.9,873.7 1279.7,873.6 1278.4,873.6 1277.2,873.6 1275.9,873.6 1274.6,873.6 1273.4,873.6 1272.1,873.5 1270.9,873.5 1269.6,873.5 1268.3,873.5 1267.1,873.5 1265.8,873.4 1264.6,873.4 1263.3,873.4 1262.0,873.4 1260.8,873.4 1259.5,873.4 1258.3,873.3 1257.0,873.3 1255.7,873.3 1254.5,873.3 1253.2,873.3 1252.0,873.2 1250.7,873.2 1249.4,873.2 1248.2,873.2 1246.9,873.2 1245.7,873.2 1244.4,873.1 1243.1,873.1 1241.9,873.1 1240.6,873.1 1239.4,873.1 1238.1,873.0 1236.8,873.0 1235.6,873.0 1234.3,873.0 1233.1,873.0 1231.8,873.0 1230.5,872.9 1229.3,872.9 1228.0,872.9 1226.8,872.9 1225.5,872.9 1224.2,872.9 1223.0,872.8 1221.7,872.8 1220.5,872.8 1219.2,872.8 1217.9,872.8 1216.7,872.7 1215.4,872.7 1214.2,872.7 1212.9,872.7 1211.6,872.7 1210.4,872.7 1209.1,872.6 1207.9,872.6 1206.6,872.6 1205.3,872.6 1204.1,872.6 1202.8,872.5 1201.6,872.5 1200.3,872.5 1199.0,872.5 1197.8,872.5 1196.5,872.5 1195.3,872.4 1194.0,872.4 1192.7,872.4 1191.5,872.4 1190.2,872.4 1189.0,872.3 1187.7,872.3 1186.4,872.3 1185.2,872.3 1183.9,872.3 1182.7,872.3 1181.4,872.2 1180.1,872.2 1178.9,872.2 1177.6,872.2 1176.4,872.2 1175.1,872.1 1173.8,872.1 1172.6,872.1 1171.3,872.1 1170.1,872.1 1168.8,872.1 1167.5,872.0 1166.3,872.0 1165.0,872.0 1163.8,872.0 1162.5,872.0 1161.2,872.0 1160.0,871.9 1158.7,871.9 1157.5,871.9 1156.2,871.9 1154.9,871.9 1153.7,871.8 1152.4,871.8 1151.2,871.8 1149.9,871.8 1148.6,871.8 1147.4,871.8 1146.1,871.7 1144.9,871.7 1143.6,871.7 1142.3,871.7 1141.1,871.7 1139.8,871.6 1138.6,871.6 1137.3,871.6 1136.0,871.6 1134.8,871.6 1133.5,871.6 1132.3,871.5 1131.0,871.5 1129.7,871.5 1128.5,871.5 1127.2,871.5 1126.0,871.4 1124.7,871.4 1123.4,871.4 1122.2,871.4 1120.9,871.4 1119.7,871.4 1118.4,871.3 1117.1,871.3 1115.9,871.3 1114.6,871.3 1113.4,871.3 1112.1,871.3 1110.8,871.2 1109.6,871.2 1108.3,871.2 1107.1,871.2 1105.8,871.2 1104.5,871.1 1103.3,871.1 1102.0,871.1 1100.8,871.1 1099.5,871.1 1098.2,871.1 1097.0,871.0 1095.7,871.0 1094.5,871.0 1093.2,871.0 1091.9,871.0 1090.7,870.9 1089.4,870.9 1088.2,870.9 1086.9,870.9 1085.6,870.9 1084.4,870.9 1083.1,870.8 1081.9,870.8 1080.6,870.8 1079.3,870.8 1078.1,870.8 1076.8,870.7 1075.6,870.7 1074.3,870.7 1073.0,870.7 1071.8,870.7 1070.5,870.7 1069.3,870.6 1068.0,870.6 1066.7,870.6 1065.5,870.6 1064.2,870.6 1063.0,870.5 1061.7,870.5 1060.4,870.5 1059.2,870.5 1057.9,870.5 1056.7,870.5 1055.4,870.4 1054.1,870.4 1052.9,870.4 1051.6,870.4 1050.4,870.4 1049.1,870.4 1047.8,870.3 1046.6,870.3 1045.3,870.3 1044.1,870.3 1042.8,870.3 1041.5,870.2 1040.3,870.2 1039.0,870.2 1037.8,870.2 1036.5,870.2 1035.2,870.2 1034.0,870.1 1032.7,870.1 1031.5,870.1 1030.2,870.1 1028.9,870.1 1027.7,870.0 1026.4,870.0 1025.2,870.0 1023.9,870.0 1022.6,870.0 1021.4,870.0 1020.1,869.9 1018.9,869.9 1017.6,869.9 1016.3,869.9 1015.1,869.9 1013.8,869.8 1012.6,869.8 1011.3,869.8 1010.0,869.8 1008.8,869.8 1007.5,869.8 1006.3,869.7 1005.0,869.7 1003.7,869.7 1002.5,869.7 1001.2,869.7 1000.0,869.7 998.7,869.6 997.4,869.6 996.2,869.6 994.9,869.6 993.7,869.6 992.4,869.5 991.1,869.5 989.9,869.5 988.6,869.5 987.4,869.5 986.1,869.5 984.8,869.4 983.6,869.4 982.3,869.4 981.1,869.4 979.8,869.4 978.5,869.3 977.3,869.3 976.0,869.3 974.8,869.3 973.5,869.3 972.2,869.3 971.0,869.2 969.7,869.2 968.5,869.2 967.2,869.2 965.9,869.2 964.7,869.1 963.4,869.1 962.2,869.1 960.9,869.1 959.6,869.1 958.4,869.1 957.1,869.0 955.9,869.0 954.6,869.0 953.3,869.0 952.1,869.0 950.8,869.0 949.6,868.9 948.3,868.9 947.0,868.9 945.8,868.9 944.5,868.9 943.3,868.8 942.0,868.8" fill="url(#gc1)" fill-opacity="0.9" stroke="none"/>
<polyline points="942.0,868.8 943.3,868.8 944.5,868.9 945.8,868.9 947.0,868.9 948.3,868.9 949.6,868.9 950.8,869.0 952.1,869.0 953.3,869.0 954.6,869.0 955.9,869.0 957.1,869.0 958.4,869.1 959.6,869.1 960.9,869.1 962.2,869.1 963.4,869.1 964.7,869.1 965.9,869.2 967.2,869.2 968.5,869.2 969.7,869.2 971.0,869.2 972.2,869.3 973.5,869.3 974.8,869.3 976.0,869.3 977.3,869.3 978.5,869.3 979.8,869.4 981.1,869.4 982.3,869.4 983.6,869.4 984.8,869.4 986.1,869.4 987.4,869.5 988.6,869.5 989.9,869.5 991.1,869.5 992.4,869.5 993.7,869.5 994.9,869.6 996.2,869.6 997.4,869.6 998.7,869.6 1000.0,869.6 1001.2,869.6 1002.5,869.6 1003.7,869.6 1005.0,869.7 1006.3,869.7 1007.5,869.7 1008.8,869.7 1010.0,869.7 1011.3,869.7 1012.6,869.7 1013.8,869.7 1015.1,869.7 1016.3,869.7 1017.6,869.6 1018.9,869.6 1020.1,869.6 1021.4,869.6 1022.6,869.6 1023.9,869.5 1025.2,869.5 1026.4,869.5 1027.7,869.4 1028.9,869.4 1030.2,869.3 1031.5,869.2 1032.7,869.1 1034.0,869.1 1035.2,869.0 1036.5,868.9 1037.8,868.7 1039.0,868.6 1040.3,868.4 1041.5,868.3 1042.8,868.1 1044.1,867.9 1045.3,867.7 1046.6,867.4 1047.8,867.2 1049.1,866.9 1050.4,866.6 1051.6,866.3 1052.9,865.9 1054.1,865.5 1055.4,865.1 1056.7,864.7 1057.9,864.2 1059.2,863.7 1060.4,863.1 1061.7,862.5 1063.0,861.9 1064.2,861.2 1065.5,860.5 1066.7,859.7 1068.0,858.9 1069.3,858.0 1070.5,857.1 1071.8,856.1 1073.0,855.1 1074.3,854.1 1075.6,852.9 1076.8,851.7 1078.1,850.5 1079.3,849.2 1080.6,847.8 1081.9,846.4 1083.1,844.9 1084.4,843.3 1085.6,841.7 1086.9,840.0 1088.2,838.3 1089.4,836.5 1090.7,834.6 1091.9,832.7 1093.2,830.7 1094.5,828.7 1095.7,826.6 1097.0,824.5 1098.2,822.3 1099.5,820.1 1100.8,817.8 1102.0,815.5 1103.3,813.2 1104.5,810.8 1105.8,808.4 1107.1,805.9 1108.3,803.5 1109.6,801.0 1110.8,798.6 1112.1,796.1 1113.4,793.6 1114.6,791.2 1115.9,788.7 1117.1,786.3 1118.4,783.9 1119.7,781.6 1120.9,779.2 1122.2,777.0 1123.4,774.7 1124.7,772.6 1126.0,770.5 1127.2,768.5 1128.5,766.5 1129.7,764.7 1131.0,762.9 1132.3,761.3 1133.5,759.7 1134.8,758.2 1136.0,756.9 1137.3,755.6 1138.6,754.5 1139.8,753.5 1141.1,752.7 1142.3,752.0 1143.6,751.4 1144.9,750.9 1146.1,750.6 1147.4,750.4 1148.6,750.3 1149.9,750.4 1151.2,750.6 1152.4,751.0 1153.7,751.5 1154.9,752.1 1156.2,752.9 1157.5,753.8 1158.7,754.8 1160.0,756.0 1161.2,757.2 1162.5,758.6 1163.8,760.1 1165.0,761.7 1166.3,763.4 1167.5,765.2 1168.8,767.1 1170.1,769.1 1171.3,771.1 1172.6,773.3 1173.8,775.5 1175.1,777.7 1176.4,780.0 1177.6,782.4 1178.9,784.8 1180.1,787.2 1181.4,789.7 1182.7,792.1 1183.9,794.6 1185.2,797.1 1186.4,799.6 1187.7,802.1 1189.0,804.6 1190.2,807.1 1191.5,809.6 1192.7,812.0 1194.0,814.4 1195.3,816.8 1196.5,819.2 1197.8,821.5 1199.0,823.8 1200.3,826.0 1201.6,828.1 1202.8,830.3 1204.1,832.3 1205.3,834.3 1206.6,836.3 1207.9,838.2 1209.1,840.0 1210.4,841.8 1211.6,843.5 1212.9,845.2 1214.2,846.8 1215.4,848.3 1216.7,849.7 1217.9,851.1 1219.2,852.5 1220.5,853.8 1221.7,855.0 1223.0,856.2 1224.2,857.3 1225.5,858.3 1226.8,859.3 1228.0,860.3 1229.3,861.2 1230.5,862.0 1231.8,862.8 1233.1,863.6 1234.3,864.3 1235.6,865.0 1236.8,865.6 1238.1,866.2 1239.4,866.8 1240.6,867.3 1241.9,867.8 1243.1,868.2 1244.4,868.6 1245.7,869.0 1246.9,869.4 1248.2,869.7 1249.4,870.1 1250.7,870.4 1252.0,870.6 1253.2,870.9 1254.5,871.1 1255.7,871.3 1257.0,871.5 1258.3,871.7 1259.5,871.9 1260.8,872.0 1262.0,872.2 1263.3,872.3 1264.6,872.5 1265.8,872.6 1267.1,872.7 1268.3,872.8 1269.6,872.9 1270.9,872.9 1272.1,873.0 1273.4,873.1 1274.6,873.2 1275.9,873.2 1277.2,873.3 1278.4,873.3 1279.7,873.4 1280.9,873.4 1282.2,873.5 1283.5,873.5 1284.7,873.6 1286.0,873.6 1287.2,873.6 1288.5,873.7 1289.8,873.7 1291.0,873.7 1292.3,873.7 1293.5,873.8 1294.8,873.8" fill="none" stroke="#105a10" stroke-width="2"/>
<polygon points="942.0,868.8 943.3,868.8 944.5,868.9 945.8,868.9 947.0,868.9 948.3,868.9 949.6,868.9 950.8,869.0 952.1,869.0 953.3,869.0 954.6,869.0 955.9,869.0 957.1,869.0 958.4,869.1 959.6,869.1 960.9,869.1 962.2,869.1 963.4,869.1 964.7,869.1 965.9,869.2 967.2,869.2 968.5,869.2 969.7,869.2 971.0,869.2 972.2,869.3 973.5,869.3 974.8,869.3 976.0,869.3 977.3,869.3 978.5,869.3 979.8,869.4 981.1,869.4 982.3,869.4 983.6,869.4 984.8,869.4 986.1,869.5 987.4,869.5 988.6,869.5 989.9,869.5 991.1,869.5 992.4,869.5 993.7,869.6 994.9,869.6 996.2,869.6 997.4,869.6 998.7,869.6 1000.0,869.7 1001.2,869.7 1002.5,869.7 1003.7,869.7 1005.0,869.7 1006.3,869.7 1007.5,869.8 1008.8,869.8 1010.0,869.8 1011.3,869.8 1012.6,869.8 1013.8,869.8 1015.1,869.9 1016.3,869.9 1017.6,869.9 1018.9,869.9 1020.1,869.9 1021.4,870.0 1022.6,870.0 1023.9,870.0 1025.2,870.0 1026.4,870.0 1027.7,870.0 1028.9,870.1 1030.2,870.1 1031.5,870.1 1032.7,870.1 1034.0,870.1 1035.2,870.2 1036.5,870.2 1037.8,870.2 1039.0,870.2 1040.3,870.2 1041.5,870.2 1042.8,870.3 1044.1,870.3 1045.3,870.3 1046.6,870.3 1047.8,870.3 1049.1,870.4 1050.4,870.4 1051.6,870.4 1052.9,870.4 1054.1,870.4 1055.4,870.4 1056.7,870.5 1057.9,870.5 1059.2,870.5 1060.4,870.5 1061.7,870.5 1063.0,870.5 1064.2,870.6 1065.5,870.6 1066.7,870.6 1068.0,870.6 1069.3,870.6 1070.5,870.7 1071.8,870.7 1073.0,870.7 1074.3,870.7 1075.6,870.7 1076.8,870.7 1078.1,870.8 1079.3,870.8 1080.6,870.8 1081.9,870.8 1083.1,870.8 1084.4,870.8 1085.6,870.9 1086.9,870.9 1088.2,870.9 1089.4,870.9 1090.7,870.9 1091.9,870.9 1093.2,870.9 1094.5,870.9 1095.7,871.0 1097.0,871.0 1098.2,870.9 1099.5,870.9 1100.8,870.9 1102.0,870.9 1103.3,870.9 1104.5,870.8 1105.8,870.8 1107.1,870.7 1108.3,870.6 1109.6,870.5 1110.8,870.3 1112.1,870.2 1113.4,869.9 1114.6,869.7 1115.9,869.4 1117.1,869.0 1118.4,868.6 1119.7,868.2 1120.9,867.6 1122.2,866.9 1123.4,866.2 1124.7,865.3 1126.0,864.4 1127.2,863.3 1128.5,862.0 1129.7,860.6 1131.0,859.1 1132.3,857.4 1133.5,855.5 1134.8,853.4 1136.0,851.1 1137.3,848.6 1138.6,845.9 1139.8,843.0 1141.1,839.9 1142.3,836.6 1143.6,833.1 1144.9,829.5 1146.1,825.6 1147.4,821.6 1148.6,817.4 1149.9,813.1 1151.2,808.7 1152.4,804.3 1153.7,799.8 1154.9,795.3 1156.2,790.9 1157.5,786.5 1158.7,782.3 1160.0,778.2 1161.2,774.3 1162.5,770.6 1163.8,767.2 1165.0,764.1 1166.3,761.3 1167.5,758.9 1168.8,756.9 1170.1,755.4 1171.3,754.3 1172.6,753.6 1173.8,753.4 1175.1,753.6 1176.4,754.3 1177.6,755.5 1178.9,757.1 1180.1,759.1 1181.4,761.5 1182.7,764.3 1183.9,767.5 1185.2,770.9 1186.4,774.6 1187.7,778.6 1189.0,782.7 1190.2,787.0 1191.5,791.4 1192.7,795.9 1194.0,800.4 1195.3,804.9 1196.5,809.4 1197.8,813.8 1199.0,818.1 1200.3,822.3 1201.6,826.4 1202.8,830.3 1204.1,834.0 1205.3,837.5 1206.6,840.9 1207.9,844.0 1209.1,846.9 1210.4,849.7 1211.6,852.2 1212.9,854.5 1214.2,856.6 1215.4,858.6 1216.7,860.3 1217.9,861.9 1219.2,863.3 1220.5,864.6 1221.7,865.7 1223.0,866.7 1224.2,867.6 1225.5,868.4 1226.8,869.1 1228.0,869.7 1229.3,870.2 1230.5,870.7 1231.8,871.1 1233.1,871.4 1234.3,871.7 1235.6,871.9 1236.8,872.1 1238.1,872.3 1239.4,872.5 1240.6,872.6 1241.9,872.7 1243.1,872.8 1244.4,872.9 1245.7,872.9 1246.9,873.0 1248.2,873.1 1249.4,873.1 1250.7,873.1 1252.0,873.2 1253.2,873.2 1254.5,873.2 1255.7,873.3 1257.0,873.3 1258.3,873.3 1259.5,873.3 1260.8,873.4 1262.0,873.4 1263.3,873.4 1264.6,873.4 1265.8,873.4 1267.1,873.5 1268.3,873.5 1269.6,873.5 1270.9,873.5 1272.1,873.5 1273.4,873.6 1274.6,873.6 1275.9,873.6 1277.2,873.6 1278.4,873.6 1279.7,873.6 1280.9,873.7 1282.2,873.7 1283.5,873.7 1284.7,873.7 1286.0,873.7 1287.2,873.7 1288.5,873.8 1289.8,873.8 1291.0,873.8 1292.3,873.8 1293.5,873.8 1294.8,873.9 1294.8,873.9 1293.5,873.8 1292.3,873.8 1291.0,873.8 1289.8,873.8 1288.5,873.8 1287.2,873.7 1286.0,873.7 1284.7,873.7 1283.5,873.7 1282.2,873.7 1280.9,873.7 1279.7,873.6 1278.4,873.6 1277.2,873.6 1275.9,873.6 1274.6,873.6 1273.4,873.6 1272.1,873.5 1270.9,873.5 1269.6,873.5 1268.3,873.5 1267.1,873.5 1265.8,873.4 1264.6,873.4 1263.3,873.4 1262.0,873.4 1260.8,873.4 1259.5,873.4 1258.3,873.3 1257.0,873.3 1255.7,873.3 1254.5,873.3 1253.2,873.3 1252.0,873.2 1250.7,873.2 1249.4,873.2 1248.2,873.2 1246.9,873.2 1245.7,873.2 1244.4,873.1 1243.1,873.1 1241.9,873.1 1240.6,873.1 1239.4,873.1 1238.1,873.0 1236.8,873.0 1235.6,873.0 1234.3,873.0 1233.1,873.0 1231.8,873.0 1230.5,872.9 1229.3,872.9 1228.0,872.9 1226.8,872.9 1225.5,872.9 1224.2,872.9 1223.0,872.8 1221.7,872.8 1220.5,872.8 1219.2,872.8 1217.9,872.8 1216.7,872.7 1215.4,872.7 1214.2,872.7 1212.9,872.7 1211.6,872.7 1210.4,872.7 1209.1,872.6 1207.9,872.6 1206.6,872.6 1205.3,872.6 1204.1,872.6 1202.8,872.5 1201.6,872.5 1200.3,872.5 1199.0,872.5 1197.8,872.5 1196.5,872.5 1195.3,872.4 1194.0,872.4 1192.7,872.4 1191.5,872.4 1190.2,872.4 1189.0,872.3 1187.7,872.3 1186.4,872.3 1185.2,872.3 1183.9,872.3 1182.7,872.3 1181.4,872.2 1180.1,872.2 1178.9,872.2 1177.6,872.2 1176.4,872.2 1175.1,872.1 1173.8,872.1 1172.6,872.1 1171.3,872.1 1170.1,872.1 1168.8,872.1 1167.5,872.0 1166.3,872.0 1165.0,872.0 1163.8,872.0 1162.5,872.0 1161.2,872.0 1160.0,871.9 1158.7,871.9 1157.5,871.9 1156.2,871.9 1154.9,871.9 1153.7,871.8 1152.4,871.8 1151.2,871.8 1149.9,871.8 1148.6,871.8 1147.4,871.8 1146.1,871.7 1144.9,871.7 1143.6,871.7 1142.3,871.7 1141.1,871.7 1139.8,871.6 1138.6,871.6 1137.3,871.6 1136.0,871.6 1134.8,871.6 1133.5,871.6 1132.3,871.5 1131.0,871.5 1129.7,871.5 1128.5,871.5 1127.2,871.5 1126.0,871.4 1124.7,871.4 1123.4,871.4 1122.2,871.4 1120.9,871.4 1119.7,871.4 1118.4,871.3 1117.1,871.3 1115.9,871.3 1114.6,871.3 1113.4,871.3 1112.1,871.3 1110.8,871.2 1109.6,871.2 1108.3,871.2 1107.1,871.2 1105.8,871.2 1104.5,871.1 1103.3,871.1 1102.0,871.1 1100.8,871.1 1099.5,871.1 1098.2,871.1 1097.0,871.0 1095.7,871.0 1094.5,871.0 1093.2,871.0 1091.9,871.0 1090.7,870.9 1089.4,870.9 1088.2,870.9 1086.9,870.9 1085.6,870.9 1084.4,870.9 1083.1,870.8 1081.9,870.8 1080.6,870.8 1079.3,870.8 1078.1,870.8 1076.8,870.7 1075.6,870.7 1074.3,870.7 1073.0,870.7 1071.8,870.7 1070.5,870.7 1069.3,870.6 1068.0,870.6 1066.7,870.6 1065.5,870.6 1064.2,870.6 1063.0,870.5 1061.7,870.5 1060.4,870.5 1059.2,870.5 1057.9,870.5 1056.7,870.5 1055.4,870.4 1054.1,870.4 1052.9,870.4 1051.6,870.4 1050.4,870.4 1049.1,870.4 1047.8,870.3 1046.6,870.3 1045.3,870.3 1044.1,870.3 1042.8,870.3 1041.5,870.2 1040.3,870.2 1039.0,870.2 1037.8,870.2 1036.5,870.2 1035.2,870.2 1034.0,870.1 1032.7,870.1 1031.5,870.1 1030.2,870.1 1028.9,870.1 1027.7,870.0 1026.4,870.0 1025.2,870.0 1023.9,870.0 1022.6,870.0 1021.4,870.0 1020.1,869.9 1018.9,869.9 1017.6,869.9 1016.3,869.9 1015.1,869.9 1013.8,869.8 1012.6,869.8 1011.3,869.8 1010.0,869.8 1008.8,869.8 1007.5,869.8 1006.3,869.7 1005.0,869.7 1003.7,869.7 1002.5,869.7 1001.2,869.7 1000.0,869.7 998.7,869.6 997.4,869.6 996.2,869.6 994.9,869.6 993.7,869.6 992.4,869.5 991.1,869.5 989.9,869.5 988.6,869.5 987.4,869.5 986.1,869.5 984.8,869.4 983.6,869.4 982.3,869.4 981.1,869.4 979.8,869.4 978.5,869.3 977.3,869.3 976.0,869.3 974.8,869.3 973.5,869.3 972.2,869.3 971.0,869.2 969.7,869.2 968.5,869.2 967.2,869.2 965.9,869.2 964.7,869.1 963.4,869.1 962.2,869.1 960.9,869.1 959.6,869.1 958.4,869.1 957.1,869.0 955.9,869.0 954.6,869.0 953.3,869.0 952.1,869.0 950.8,869.0 949.6,868.9 948.3,868.9 947.0,868.9 945.8,868.9 944.5,868.9 943.3,868.8 942.0,868.8" fill="url(#gc2)" fill-opacity="0.9" stroke="none"/>
<polyline points="942.0,868.8 943.3,868.8 944.5,868.9 945.8,868.9 947.0,868.9 948.3,868.9 949.6,868.9 950.8,869.0 952.1,869.0 953.3,869.0 954.6,869.0 955.9,869.0 957.1,869.0 958.4,869.1 959.6,869.1 960.9,869.1 962.2,869.1 963.4,869.1 964.7,869.1 965.9,869.2 967.2,869.2 968.5,869.2 969.7,869.2 971.0,869.2 972.2,869.3 973.5,869.3 974.8,869.3 976.0,869.3 977.3,869.3 978.5,869.3 979.8,869.4 981.1,869.4 982.3,869.4 983.6,869.4 984.8,869.4 986.1,869.5 987.4,869.5 988.6,869.5 989.9,869.5 991.1,869.5 992.4,869.5 993.7,869.6 994.9,869.6 996.2,869.6 997.4,869.6 998.7,869.6 1000.0,869.7 1001.2,869.7 1002.5,869.7 1003.7,869.7 1005.0,869.7 1006.3,869.7 1007.5,869.8 1008.8,869.8 1010.0,869.8 1011.3,869.8 1012.6,869.8 1013.8,869.8 1015.1,869.9 1016.3,869.9 1017.6,869.9 1018.9,869.9 1020.1,869.9 1021.4,870.0 1022.6,870.0 1023.9,870.0 1025.2,870.0 1026.4,870.0 1027.7,870.0 1028.9,870.1 1030.2,870.1 1031.5,870.1 1032.7,870.1 1034.0,870.1 1035.2,870.2 1036.5,870.2 1037.8,870.2 1039.0,870.2 1040.3,870.2 1041.5,870.2 1042.8,870.3 1044.1,870.3 1045.3,870.3 1046.6,870.3 1047.8,870.3 1049.1,870.4 1050.4,870.4 1051.6,870.4 1052.9,870.4 1054.1,870.4 1055.4,870.4 1056.7,870.5 1057.9,870.5 1059.2,870.5 1060.4,870.5 1061.7,870.5 1063.0,870.5 1064.2,870.6 1065.5,870.6 1066.7,870.6 1068.0,870.6 1069.3,870.6 1070.5,870.7 1071.8,870.7 1073.0,870.7 1074.3,870.7 1075.6,870.7 1076.8,870.7 1078.1,870.8 1079.3,870.8 1080.6,870.8 1081.9,870.8 1083.1,870.8 1084.4,870.8 1085.6,870.9 1086.9,870.9 1088.2,870.9 1089.4,870.9 1090.7,870.9 1091.9,870.9 1093.2,870.9 1094.5,870.9 1095.7,871.0 1097.0,871.0 1098.2,870.9 1099.5,870.9 1100.8,870.9 1102.0,870.9 1103.3,870.9 1104.5,870.8 1105.8,870.8 1107.1,870.7 1108.3,870.6 1109.6,870.5 1110.8,870.3 1112.1,870.2 1113.4,869.9 1114.6,869.7 1115.9,869.4 1117.1,869.0 1118.4,868.6 1119.7,868.2 1120.9,867.6 1122.2,866.9 1123.4,866.2 1124.7,865.3 1126.0,864.4 1127.2,863.3 1128.5,862.0 1129.7,860.6 1131.0,859.1 1132.3,857.4 1133.5,855.5 1134.8,853.4 1136.0,851.1 1137.3,848.6 1138.6,845.9 1139.8,843.0 1141.1,839.9 1142.3,836.6 1143.6,833.1 1144.9,829.5 1146.1,825.6 1147.4,821.6 1148.6,817.4 1149.9,813.1 1151.2,808.7 1152.4,804.3 1153.7,799.8 1154.9,795.3 1156.2,790.9 1157.5,786.5 1158.7,782.3 1160.0,778.2 1161.2,774.3 1162.5,770.6 1163.8,767.2 1165.0,764.1 1166.3,761.3 1167.5,758.9 1168.8,756.9 1170.1,755.4 1171.3,754.3 1172.6,753.6 1173.8,753.4 1175.1,753.6 1176.4,754.3 1177.6,755.5 1178.9,757.1 1180.1,759.1 1181.4,761.5 1182.7,764.3 1183.9,767.5 1185.2,770.9 1186.4,774.6 1187.7,778.6 1189.0,782.7 1190.2,787.0 1191.5,791.4 1192.7,795.9 1194.0,800.4 1195.3,804.9 1196.5,809.4 1197.8,813.8 1199.0,818.1 1200.3,822.3 1201.6,826.4 1202.8,830.3 1204.1,834.0 1205.3,837.5 1206.6,840.9 1207.9,844.0 1209.1,846.9 1210.4,849.7 1211.6,852.2 1212.9,854.5 1214.2,856.6 1215.4,858.6 1216.7,860.3 1217.9,861.9 1219.2,863.3 1220.5,864.6 1221.7,865.7 1223.0,866.7 1224.2,867.6 1225.5,868.4 1226.8,869.1 1228.0,869.7 1229.3,870.2 1230.5,870.7 1231.8,871.1 1233.1,871.4 1234.3,871.7 1235.6,871.9 1236.8,872.1 1238.1,872.3 1239.4,872.5 1240.6,872.6 1241.9,872.7 1243.1,872.8 1244.4,872.9 1245.7,872.9 1246.9,873.0 1248.2,873.1 1249.4,873.1 1250.7,873.1 1252.0,873.2 1253.2,873.2 1254.5,873.2 1255.7,873.3 1257.0,873.3 1258.3,873.3 1259.5,873.3 1260.8,873.4 1262.0,873.4 1263.3,873.4 1264.6,873.4 1265.8,873.4 1267.1,873.5 1268.3,873.5 1269.6,873.5 1270.9,873.5 1272.1,873.5 1273.4,873.6 1274.6,873.6 1275.9,873.6 1277.2,873.6 1278.4,873.6 1279.7,873.6 1280.9,873.7 1282.2,873.7 1283.5,873.7 1284.7,873.7 1286.0,873.7 1287.2,873.7 1288.5,873.8 1289.8,873.8 1291.0,873.8 1292.3,873.8 1293.5,873.8 1294.8,873.9" fill="none" stroke="#9b30f0" stroke-width="2"/>
<polygon points="942.0,868.8 943.3,868.8 944.5,868.9 945.8,868.9 947.0,868.9 948.3,868.9 949.6,868.9 950.8,869.0 952.1,869.0 953.3,869.0 954.6,869.0 955.9,869.0 957.1,869.0 958.4,869.1 959.6,869.1 960.9,869.1 962.2,869.1 963.4,869.1 964.7,869.1 965.9,869.2 967.2,869.2 968.5,869.2 969.7,869.2 971.0,869.2 972.2,869.3 973.5,869.3 974.8,869.3 976.0,869.3 977.3,869.3 978.5,869.3 979.8,869.4 981.1,869.4 982.3,869.4 983.6,869.4 984.8,869.4 986.1,869.5 987.4,869.5 988.6,869.5 989.9,869.5 991.1,869.5 992.4,869.5 993.7,869.6 994.9,869.6 996.2,869.6 997.4,869.6 998.7,869.6 1000.0,869.6 1001.2,869.7 1002.5,869.7 1003.7,869.7 1005.0,869.7 1006.3,869.7 1007.5,869.7 1008.8,869.8 1010.0,869.8 1011.3,869.8 1012.6,869.8 1013.8,869.8 1015.1,869.8 1016.3,869.8 1017.6,869.9 1018.9,869.9 1020.1,869.9 1021.4,869.9 1022.6,869.9 1023.9,869.9 1025.2,869.9 1026.4,869.9 1027.7,869.9 1028.9,869.8 1030.2,869.8 1031.5,869.8 1032.7,869.8 1034.0,869.7 1035.2,869.7 1036.5,869.6 1037.8,869.5 1039.0,869.5 1040.3,869.4 1041.5,869.3 1042.8,869.1 1044.1,869.0 1045.3,868.8 1046.6,868.6 1047.8,868.4 1049.1,868.2 1050.4,867.9 1051.6,867.6 1052.9,867.3 1054.1,866.9 1055.4,866.5 1056.7,866.1 1057.9,865.6 1059.2,865.0 1060.4,864.4 1061.7,863.8 1063.0,863.1 1064.2,862.4 1065.5,861.6 1066.7,860.7 1068.0,859.8 1069.3,858.8 1070.5,857.8 1071.8,856.6 1073.0,855.5 1074.3,854.2 1075.6,852.9 1076.8,851.6 1078.1,850.1 1079.3,848.7 1080.6,847.1 1081.9,845.5 1083.1,843.9 1084.4,842.3 1085.6,840.5 1086.9,838.8 1088.2,837.1 1089.4,835.3 1090.7,833.5 1091.9,831.7 1093.2,830.0 1094.5,828.2 1095.7,826.5 1097.0,824.8 1098.2,823.1 1099.5,821.5 1100.8,820.0 1102.0,818.6 1103.3,817.2 1104.5,815.9 1105.8,814.7 1107.1,813.6 1108.3,812.7 1109.6,811.8 1110.8,811.1 1112.1,810.5 1113.4,810.1 1114.6,809.8 1115.9,809.6 1117.1,809.6 1118.4,809.7 1119.7,810.0 1120.9,810.4 1122.2,810.9 1123.4,811.6 1124.7,812.4 1126.0,813.3 1127.2,814.4 1128.5,815.5 1129.7,816.8 1131.0,818.1 1132.3,819.6 1133.5,821.1 1134.8,822.7 1136.0,824.3 1137.3,826.0 1138.6,827.8 1139.8,829.5 1141.1,831.3 1142.3,833.2 1143.6,835.0 1144.9,836.8 1146.1,838.6 1147.4,840.4 1148.6,842.1 1149.9,843.9 1151.2,845.6 1152.4,847.2 1153.7,848.8 1154.9,850.3 1156.2,851.8 1157.5,853.3 1158.7,854.6 1160.0,856.0 1161.2,857.2 1162.5,858.4 1163.8,859.5 1165.0,860.6 1166.3,861.6 1167.5,862.5 1168.8,863.4 1170.1,864.2 1171.3,865.0 1172.6,865.7 1173.8,866.3 1175.1,866.9 1176.4,867.5 1177.6,868.0 1178.9,868.4 1180.1,868.9 1181.4,869.3 1182.7,869.6 1183.9,869.9 1185.2,870.2 1186.4,870.5 1187.7,870.7 1189.0,870.9 1190.2,871.1 1191.5,871.3 1192.7,871.5 1194.0,871.6 1195.3,871.7 1196.5,871.8 1197.8,871.9 1199.0,872.0 1200.3,872.1 1201.6,872.2 1202.8,872.3 1204.1,872.3 1205.3,872.4 1206.6,872.4 1207.9,872.5 1209.1,872.5 1210.4,872.5 1211.6,872.6 1212.9,872.6 1214.2,872.6 1215.4,872.7 1216.7,872.7 1217.9,872.7 1219.2,872.7 1220.5,872.8 1221.7,872.8 1223.0,872.8 1224.2,872.8 1225.5,872.9 1226.8,872.9 1228.0,872.9 1229.3,872.9 1230.5,872.9 1231.8,873.0 1233.1,873.0 1234.3,873.0 1235.6,873.0 1236.8,873.0 1238.1,873.0 1239.4,873.1 1240.6,873.1 1241.9,873.1 1243.1,873.1 1244.4,873.1 1245.7,873.2 1246.9,873.2 1248.2,873.2 1249.4,873.2 1250.7,873.2 1252.0,873.2 1253.2,873.3 1254.5,873.3 1255.7,873.3 1257.0,873.3 1258.3,873.3 1259.5,873.4 1260.8,873.4 1262.0,873.4 1263.3,873.4 1264.6,873.4 1265.8,873.4 1267.1,873.5 1268.3,873.5 1269.6,873.5 1270.9,873.5 1272.1,873.5 1273.4,873.6 1274.6,873.6 1275.9,873.6 1277.2,873.6 1278.4,873.6 1279.7,873.6 1280.9,873.7 1282.2,873.7 1283.5,873.7 1284.7,873.7 1286.0,873.7 1287.2,873.7 1288.5,873.8 1289.8,873.8 1291.0,873.8 1292.3,873.8 1293.5,873.8 1294.8,873.9 1294.8,873.9 1293.5,873.8 1292.3,873.8 1291.0,873.8 1289.8,873.8 1288.5,873.8 1287.2,873.7 1286.0,873.7 1284.7,873.7 1283.5,873.7 1282.2,873.7 1280.9,873.7 1279.7,873.6 1278.4,873.6 1277.2,873.6 1275.9,873.6 1274.6,873.6 1273.4,873.6 1272.1,873.5 1270.9,873.5 1269.6,873.5 1268.3,873.5 1267.1,873.5 1265.8,873.4 1264.6,873.4 1263.3,873.4 1262.0,873.4 1260.8,873.4 1259.5,873.4 1258.3,873.3 1257.0,873.3 1255.7,873.3 1254.5,873.3 1253.2,873.3 1252.0,873.2 1250.7,873.2 1249.4,873.2 1248.2,873.2 1246.9,873.2 1245.7,873.2 1244.4,873.1 1243.1,873.1 1241.9,873.1 1240.6,873.1 1239.4,873.1 1238.1,873.0 1236.8,873.0 1235.6,873.0 1234.3,873.0 1233.1,873.0 1231.8,873.0 1230.5,872.9 1229.3,872.9 1228.0,872.9 1226.8,872.9 1225.5,872.9 1224.2,872.9 1223.0,872.8 1221.7,872.8 1220.5,872.8 1219.2,872.8 1217.9,872.8 1216.7,872.7 1215.4,872.7 1214.2,872.7 1212.9,872.7 1211.6,872.7 1210.4,872.7 1209.1,872.6 1207.9,872.6 1206.6,872.6 1205.3,872.6 1204.1,872.6 1202.8,872.5 1201.6,872.5 1200.3,872.5 1199.0,872.5 1197.8,872.5 1196.5,872.5 1195.3,872.4 1194.0,872.4 1192.7,872.4 1191.5,872.4 1190.2,872.4 1189.0,872.3 1187.7,872.3 1186.4,872.3 1185.2,872.3 1183.9,872.3 1182.7,872.3 1181.4,872.2 1180.1,872.2 1178.9,872.2 1177.6,872.2 1176.4,872.2 1175.1,872.1 1173.8,872.1 1172.6,872.1 1171.3,872.1 1170.1,872.1 1168.8,872.1 1167.5,872.0 1166.3,872.0 1165.0,872.0 1163.8,872.0 1162.5,872.0 1161.2,872.0 1160.0,871.9 1158.7,871.9 1157.5,871.9 1156.2,871.9 1154.9,871.9 1153.7,871.8 1152.4,871.8 1151.2,871.8 1149.9,871.8 1148.6,871.8 1147.4,871.8 1146.1,871.7 1144.9,871.7 1143.6,871.7 1142.3,871.7 1141.1,871.7 1139.8,871.6 1138.6,871.6 1137.3,871.6 1136.0,871.6 1134.8,871.6 1133.5,871.6 1132.3,871.5 1131.0,871.5 1129.7,871.5 1128.5,871.5 1127.2,871.5 1126.0,871.4 1124.7,871.4 1123.4,871.4 1122.2,871.4 1120.9,871.4 1119.7,871.4 1118.4,871.3 1117.1,871.3 1115.9,871.3 1114.6,871.3 1113.4,871.3 1112.1,871.3 1110.8,871.2 1109.6,871.2 1108.3,871.2 1107.1,871.2 1105.8,871.2 1104.5,871.1 1103.3,871.1 1102.0,871.1 1100.8,871.1 1099.5,871.1 1098.2,871.1 1097.0,871.0 1095.7,871.0 1094.5,871.0 1093.2,871.0 1091.9,871.0 1090.7,870.9 1089.4,870.9 1088.2,870.9 1086.9,870.9 1085.6,870.9 1084.4,870.9 1083.1,870.8 1081.9,870.8 1080.6,870.8 1079.3,870.8 1078.1,870.8 1076.8,870.7 1075.6,870.7 1074.3,870.7 1073.0,870.7 1071.8,870.7 1070.5,870.7 1069.3,870.6 1068.0,870.6 1066.7,870.6 1065.5,870.6 1064.2,870.6 1063.0,870.5 1061.7,870.5 1060.4,870.5 1059.2,870.5 1057.9,870.5 1056.7,870.5 1055.4,870.4 1054.1,870.4 1052.9,870.4 1051.6,870.4 1050.4,870.4 1049.1,870.4 1047.8,870.3 1046.6,870.3 1045.3,870.3 1044.1,870.3 1042.8,870.3 1041.5,870.2 1040.3,870.2 1039.0,870.2 1037.8,870.2 1036.5,870.2 1035.2,870.2 1034.0,870.1 1032.7,870.1 1031.5,870.1 1030.2,870.1 1028.9,870.1 1027.7,870.0 1026.4,870.0 1025.2,870.0 1023.9,870.0 1022.6,870.0 1021.4,870.0 1020.1,869.9 1018.9,869.9 1017.6,869.9 1016.3,869.9 1015.1,869.9 1013.8,869.8 1012.6,869.8 1011.3,869.8 1010.0,869.8 1008.8,869.8 1007.5,869.8 1006.3,869.7 1005.0,869.7 1003.7,869.7 1002.5,869.7 1001.2,869.7 1000.0,869.7 998.7,869.6 997.4,869.6 996.2,869.6 994.9,869.6 993.7,869.6 992.4,869.5 991.1,869.5 989.9,869.5 988.6,869.5 987.4,869.5 986.1,869.5 984.8,869.4 983.6,869.4 982.3,869.4 981.1,869.4 979.8,869.4 978.5,869.3 977.3,869.3 976.0,869.3 974.8,869.3 973.5,869.3 972.2,869.3 971.0,869.2 969.7,869.2 968.5,869.2 967.2,869.2 965.9,869.2 964.7,869.1 963.4,869.1 962.2,869.1 960.9,869.1 959.6,869.1 958.4,869.1 957.1,869.0 955.9,869.0 954.6,869.0 953.3,869.0 952.1,869.0 950.8,869.0 949.6,868.9 948.3,868.9 947.0,868.9 945.8,868.9 944.5,868.9 943.3,868.8 942.0,868.8" fill="url(#gc3)" fill-opacity="0.78" stroke="none"/>
<polyline points="942.0,868.8 943.3,868.8 944.5,868.9 945.8,868.9 947.0,868.9 948.3,868.9 949.6,868.9 950.8,869.0 952.1,869.0 953.3,869.0 954.6,869.0 955.9,869.0 957.1,869.0 958.4,869.1 959.6,869.1 960.9,869.1 962.2,869.1 963.4,869.1 964.7,869.1 965.9,869.2 967.2,869.2 968.5,869.2 969.7,869.2 971.0,869.2 972.2,869.3 973.5,869.3 974.8,869.3 976.0,869.3 977.3,869.3 978.5,869.3 979.8,869.4 981.1,869.4 982.3,869.4 983.6,869.4 984.8,869.4 986.1,869.5 987.4,869.5 988.6,869.5 989.9,869.5 991.1,869.5 992.4,869.5 993.7,869.6 994.9,869.6 996.2,869.6 997.4,869.6 998.7,869.6 1000.0,869.6 1001.2,869.7 1002.5,869.7 1003.7,869.7 1005.0,869.7 1006.3,869.7 1007.5,869.7 1008.8,869.8 1010.0,869.8 1011.3,869.8 1012.6,869.8 1013.8,869.8 1015.1,869.8 1016.3,869.8 1017.6,869.9 1018.9,869.9 1020.1,869.9 1021.4,869.9 1022.6,869.9 1023.9,869.9 1025.2,869.9 1026.4,869.9 1027.7,869.9 1028.9,869.8 1030.2,869.8 1031.5,869.8 1032.7,869.8 1034.0,869.7 1035.2,869.7 1036.5,869.6 1037.8,869.5 1039.0,869.5 1040.3,869.4 1041.5,869.3 1042.8,869.1 1044.1,869.0 1045.3,868.8 1046.6,868.6 1047.8,868.4 1049.1,868.2 1050.4,867.9 1051.6,867.6 1052.9,867.3 1054.1,866.9 1055.4,866.5 1056.7,866.1 1057.9,865.6 1059.2,865.0 1060.4,864.4 1061.7,863.8 1063.0,863.1 1064.2,862.4 1065.5,861.6 1066.7,860.7 1068.0,859.8 1069.3,858.8 1070.5,857.8 1071.8,856.6 1073.0,855.5 1074.3,854.2 1075.6,852.9 1076.8,851.6 1078.1,850.1 1079.3,848.7 1080.6,847.1 1081.9,845.5 1083.1,843.9 1084.4,842.3 1085.6,840.5 1086.9,838.8 1088.2,837.1 1089.4,835.3 1090.7,833.5 1091.9,831.7 1093.2,830.0 1094.5,828.2 1095.7,826.5 1097.0,824.8 1098.2,823.1 1099.5,821.5 1100.8,820.0 1102.0,818.6 1103.3,817.2 1104.5,815.9 1105.8,814.7 1107.1,813.6 1108.3,812.7 1109.6,811.8 1110.8,811.1 1112.1,810.5 1113.4,810.1 1114.6,809.8 1115.9,809.6 1117.1,809.6 1118.4,809.7 1119.7,810.0 1120.9,810.4 1122.2,810.9 1123.4,811.6 1124.7,812.4 1126.0,813.3 1127.2,814.4 1128.5,815.5 1129.7,816.8 1131.0,818.1 1132.3,819.6 1133.5,821.1 1134.8,822.7 1136.0,824.3 1137.3,826.0 1138.6,827.8 1139.8,829.5 1141.1,831.3 1142.3,833.2 1143.6,835.0 1144.9,836.8 1146.1,838.6 1147.4,840.4 1148.6,842.1 1149.9,843.9 1151.2,845.6 1152.4,847.2 1153.7,848.8 1154.9,850.3 1156.2,851.8 1157.5,853.3 1158.7,854.6 1160.0,856.0 1161.2,857.2 1162.5,858.4 1163.8,859.5 1165.0,860.6 1166.3,861.6 1167.5,862.5 1168.8,863.4 1170.1,864.2 1171.3,865.0 1172.6,865.7 1173.8,866.3 1175.1,866.9 1176.4,867.5 1177.6,868.0 1178.9,868.4 1180.1,868.9 1181.4,869.3 1182.7,869.6 1183.9,869.9 1185.2,870.2 1186.4,870.5 1187.7,870.7 1189.0,870.9 1190.2,871.1 1191.5,871.3 1192.7,871.5 1194.0,871.6 1195.3,871.7 1196.5,871.8 1197.8,871.9 1199.0,872.0 1200.3,872.1 1201.6,872.2 1202.8,872.3 1204.1,872.3 1205.3,872.4 1206.6,872.4 1207.9,872.5 1209.1,872.5 1210.4,872.5 1211.6,872.6 1212.9,872.6 1214.2,872.6 1215.4,872.7 1216.7,872.7 1217.9,872.7 1219.2,872.7 1220.5,872.8 1221.7,872.8 1223.0,872.8 1224.2,872.8 1225.5,872.9 1226.8,872.9 1228.0,872.9 1229.3,872.9 1230.5,872.9 1231.8,873.0 1233.1,873.0 1234.3,873.0 1235.6,873.0 1236.8,873.0 1238.1,873.0 1239.4,873.1 1240.6,873.1 1241.9,873.1 1243.1,873.1 1244.4,873.1 1245.7,873.2 1246.9,873.2 1248.2,873.2 1249.4,873.2 1250.7,873.2 1252.0,873.2 1253.2,873.3 1254.5,873.3 1255.7,873.3 1257.0,873.3 1258.3,873.3 1259.5,873.4 1260.8,873.4 1262.0,873.4 1263.3,873.4 1264.6,873.4 1265.8,873.4 1267.1,873.5 1268.3,873.5 1269.6,873.5 1270.9,873.5 1272.1,873.5 1273.4,873.6 1274.6,873.6 1275.9,873.6 1277.2,873.6 1278.4,873.6 1279.7,873.6 1280.9,873.7 1282.2,873.7 1283.5,873.7 1284.7,873.7 1286.0,873.7 1287.2,873.7 1288.5,873.8 1289.8,873.8 1291.0,873.8 1292.3,873.8 1293.5,873.8 1294.8,873.9" fill="none" stroke="#5a0a0a" stroke-width="2"/>
<line x1="942.0" y1="868.8" x2="1294.8" y2="873.9" stroke="#333" stroke-width="1.5" stroke-dasharray="9,5"/>
<polyline points="944.0,868.4 947.5,868.1 951.2,867.8 955.1,867.5 959.0,867.1 962.8,866.6 966.4,866.0 970.1,865.4 973.7,864.7 977.4,863.9 981.0,863.1 984.7,862.2 988.4,861.3 992.0,860.4 995.7,859.4 999.3,858.4 1003.0,857.1 1006.6,855.6 1010.3,853.9 1014.0,852.0 1017.6,849.9 1021.3,847.6 1024.9,845.1 1028.4,842.5 1031.9,839.6 1035.4,836.4 1038.8,833.1 1042.1,829.6 1045.2,826.2 1048.1,822.8 1050.7,819.6 1053.1,816.5 1055.2,813.4 1057.3,810.1 1059.3,806.8 1061.3,803.1 1063.2,799.2 1065.1,795.0 1066.9,790.7 1068.7,786.2 1070.4,781.6 1072.2,776.9 1074.0,772.1 1075.9,767.2 1077.8,762.1 1079.6,757.0 1081.4,751.7 1083.1,746.3 1084.7,740.5 1086.3,734.3 1087.8,728.0 1089.2,721.8 1090.6,716.2 1091.9,711.3 1093.1,707.3 1094.2,704.0 1095.3,701.2 1096.3,698.7 1097.3,696.3 1098.4,693.8 1099.4,691.4 1100.4,689.2 1101.4,687.1 1102.5,685.0 1103.6,682.9 1105.0,680.6 1106.6,678.1 1108.3,675.5 1110.2,672.8 1112.2,670.2 1114.1,667.6 1116.0,665.3 1117.8,663.2 1119.6,661.3 1121.5,659.4 1123.3,657.7 1125.1,656.0 1126.9,654.4 1128.7,652.9 1130.6,651.6 1132.5,650.3 1134.3,648.9 1136.1,647.4 1137.8,645.6 1139.4,643.5 1141.0,641.1 1142.5,638.5 1143.9,635.8 1145.3,633.1 1146.6,630.3 1147.8,627.4 1148.9,624.3 1150.0,621.1 1151.0,618.1 1152.0,615.2 1153.1,612.8 1154.2,610.8 1155.3,609.0 1156.5,607.5 1157.6,606.2 1158.7,605.1 1159.7,604.1 1160.7,603.3 1161.7,602.6 1162.6,602.1 1163.5,601.7 1164.4,601.7 1165.2,601.9 1166.0,602.3 1166.6,602.9 1167.3,603.6 1167.9,604.8 1168.7,606.3 1169.6,608.4 1170.7,611.1 1171.9,614.4 1173.3,618.1 1174.6,622.1 1176.0,626.2 1177.2,630.3 1178.4,634.4 1179.5,638.7 1180.6,643.0 1181.6,647.5 1182.7,652.0 1183.8,656.6 1184.9,661.2 1186.0,665.8 1187.0,670.5 1188.1,675.3 1189.2,680.1 1190.3,685.0 1191.4,690.0 1192.5,695.0 1193.6,700.2 1194.7,705.3 1195.8,710.5 1196.9,715.6 1198.0,720.7 1199.0,725.8 1200.1,731.0 1201.1,736.1 1202.3,741.2 1203.5,746.3 1204.8,751.4 1206.2,756.6 1207.7,761.7 1209.2,766.9 1210.7,771.9 1212.2,776.9 1213.7,781.8 1215.1,786.8 1216.6,791.6 1218.1,796.4 1219.5,801.0 1221.0,805.3 1222.4,809.4 1223.8,813.2 1225.2,816.9 1226.6,820.5 1228.1,823.9 1229.7,827.2 1231.4,830.4 1233.1,833.5 1234.9,836.5 1236.8,839.4 1238.7,842.1 1240.7,844.7 1242.7,847.2 1244.8,849.6 1247.0,851.8 1249.2,853.9 1251.5,855.9 1253.8,857.8 1256.1,859.6 1258.5,861.2 1260.9,862.7 1263.4,864.1 1266.1,865.4 1269.1,866.6 1272.5,867.7 1276.3,868.7 1280.3,869.6 1284.3,870.5 1287.9,871.3 1291.0,872.0 1293.3,872.7" fill="none" stroke="#e82020" stroke-width="5" stroke-dasharray="14,9"/>
<polyline points="944.0,868.4 947.5,868.1 951.2,867.8 955.1,867.5 959.0,867.1 962.8,866.6 966.4,866.0 970.1,865.4 973.7,864.7 977.4,863.9 981.0,863.1 984.7,862.2 988.4,861.3 992.0,860.4 995.7,859.4 999.3,858.4 1003.0,857.1 1006.6,855.6 1010.3,853.9 1014.0,852.0 1017.6,849.9 1021.3,847.6 1024.9,845.1 1028.4,842.5 1031.9,839.6 1035.4,836.4 1038.8,833.1 1042.1,829.6 1045.2,826.2 1048.1,822.8 1050.7,819.6 1053.1,816.5 1055.2,813.4 1057.3,810.1 1059.3,806.8 1061.3,803.1 1063.2,799.2 1065.1,795.0 1066.9,790.7 1068.7,786.2 1070.4,781.6 1072.2,776.9 1074.0,772.1 1075.9,767.2 1077.8,762.1 1079.6,757.0 1081.4,751.7 1083.1,746.3 1084.7,740.5 1086.3,734.3 1087.8,728.0 1089.2,721.8 1090.6,716.2 1091.9,711.3 1093.1,707.3 1094.2,704.0 1095.3,701.2 1096.3,698.7 1097.3,696.3 1098.4,693.8 1099.4,691.4 1100.4,689.2 1101.4,687.1 1102.5,685.0 1103.6,682.9 1105.0,680.6 1106.6,678.1 1108.3,675.5 1110.2,672.8 1112.2,670.2 1114.1,667.6 1116.0,665.3 1117.8,663.2 1119.6,661.3 1121.5,659.4 1123.3,657.7 1125.1,656.0 1126.9,654.4 1128.7,652.9 1130.6,651.6 1132.5,650.3 1134.3,648.9 1136.1,647.4 1137.8,645.6 1139.4,643.5 1141.0,641.1 1142.5,638.5 1143.9,635.8 1145.3,633.1 1146.6,630.3 1147.8,627.4 1148.9,624.3 1150.0,621.1 1151.0,618.1 1152.0,615.2 1153.1,612.8 1154.2,610.8 1155.3,609.0 1156.5,607.5 1157.6,606.2 1158.7,605.1 1159.7,604.1 1160.7,603.3 1161.7,602.6 1162.6,602.1 1163.5,601.7 1164.4,601.7 1165.2,601.9 1166.0,602.3 1166.6,602.9 1167.3,603.6 1167.9,604.8 1168.7,606.3 1169.6,608.4 1170.7,611.1 1171.9,614.4 1173.3,618.1 1174.6,622.1 1176.0,626.2 1177.2,630.3 1178.4,634.4 1179.5,638.7 1180.6,643.0 1181.6,647.5 1182.7,652.0 1183.8,656.6 1184.9,661.2 1186.0,665.8 1187.0,670.5 1188.1,675.3 1189.2,680.1 1190.3,685.0 1191.4,690.0 1192.5,695.0 1193.6,700.2 1194.7,705.3 1195.8,710.5 1196.9,715.6 1198.0,720.7 1199.0,725.8 1200.1,731.0 1201.1,736.1 1202.3,741.2 1203.5,746.3 1204.8,751.4 1206.2,756.6 1207.7,761.7 1209.2,766.9 1210.7,771.9 1212.2,776.9 1213.7,781.8 1215.1,786.8 1216.6,791.6 1218.1,796.4 1219.5,801.0 1221.0,805.3 1222.4,809.4 1223.8,813.2 1225.2,816.9 1226.6,820.5 1228.1,823.9 1229.7,827.2 1231.4,830.4 1233.1,833.5 1234.9,836.5 1236.8,839.4 1238.7,842.1 1240.7,844.7 1242.7,847.2 1244.8,849.6 1247.0,851.8 1249.2,853.9 1251.5,855.9 1253.8,857.8 1256.1,859.6 1258.5,861.2 1260.9,862.7 1263.4,864.1 1266.1,865.4 1269.1,866.6 1272.5,867.7 1276.3,868.7 1280.3,869.6 1284.3,870.5 1287.9,871.3 1291.0,872.0 1293.3,872.7" fill="none" stroke="#000" stroke-width="2"/>
<polyline points="841.0,871.3 844.0,869.7 847.0,871.3 850.0,869.7 853.0,871.3 856.0,869.7 859.0,871.3 862.0,869.7 865.0,871.3 868.0,869.7 871.0,871.3 874.0,869.7 877.0,871.3 880.0,869.7 883.0,871.3 886.0,869.7 889.0,871.3 892.0,869.7 895.0,871.3 898.0,869.7 901.0,871.3 904.0,869.7 907.0,871.3 910.0,869.7 913.0,871.3 916.0,869.7 919.0,871.3 922.0,869.7 925.0,871.3 928.0,869.7 931.0,871.3 934.0,869.7 937.0,871.3 940.0,869.7" fill="none" stroke="#000" stroke-width="2"/>
<polyline points="1294.8,874.2 1297.8,875.8 1300.8,874.2 1303.8,875.8 1306.8,874.2 1309.8,875.8 1312.8,874.2 1315.8,875.8 1318.8,874.2 1321.8,875.8 1324.8,874.2 1327.8,875.8 1330.8,874.2 1333.8,875.8 1336.8,874.2 1339.8,875.8 1342.8,874.2 1345.8,875.8 1348.8,874.2 1351.8,875.8 1354.8,874.2 1357.8,875.8 1360.8,874.2 1363.8,875.8 1366.8,874.2" fill="none" stroke="#000" stroke-width="2"/>
<rect x="841.3" y="539.5" width="528.2" height="356.29999999999995" fill="none" stroke="#000" stroke-width="2.4"/>
<line x1="1345.2" y1="895.8" x2="1345.2" y2="891.8" stroke="#000" stroke-width="2"/>
<line x1="1294.8" y1="895.8" x2="1294.8" y2="888.8" stroke="#000" stroke-width="2"/>
<text x="1294.8" y="923.5" font-size="24.5" fill="#000" text-anchor="middle" font-weight="normal" >166</text>
<line x1="1244.4" y1="895.8" x2="1244.4" y2="891.8" stroke="#000" stroke-width="2"/>
<line x1="1194.0" y1="895.8" x2="1194.0" y2="888.8" stroke="#000" stroke-width="2"/>
<text x="1194.0" y="923.5" font-size="24.5" fill="#000" text-anchor="middle" font-weight="normal" >168</text>
<line x1="1143.6" y1="895.8" x2="1143.6" y2="891.8" stroke="#000" stroke-width="2"/>
<line x1="1093.2" y1="895.8" x2="1093.2" y2="888.8" stroke="#000" stroke-width="2"/>
<text x="1093.2" y="923.5" font-size="24.5" fill="#000" text-anchor="middle" font-weight="normal" >170</text>
<line x1="1042.8" y1="895.8" x2="1042.8" y2="891.8" stroke="#000" stroke-width="2"/>
<line x1="992.4" y1="895.8" x2="992.4" y2="888.8" stroke="#000" stroke-width="2"/>
<text x="992.4" y="923.5" font-size="24.5" fill="#000" text-anchor="middle" font-weight="normal" >172</text>
<line x1="942.0" y1="895.8" x2="942.0" y2="891.8" stroke="#000" stroke-width="2"/>
<line x1="891.6" y1="895.8" x2="891.6" y2="888.8" stroke="#000" stroke-width="2"/>
<text x="891.6" y="923.5" font-size="24.5" fill="#000" text-anchor="middle" font-weight="normal" >174</text>
<line x1="841.3" y1="896.0" x2="848.3" y2="896.0" stroke="#000" stroke-width="2"/>
<text x="833.0" y="904.0" font-size="23" fill="#000" text-anchor="end" font-weight="normal" >0</text>
<line x1="841.3" y1="862.5" x2="845.3" y2="862.5" stroke="#000" stroke-width="2"/>
<line x1="841.3" y1="828.9" x2="848.3" y2="828.9" stroke="#000" stroke-width="2"/>
<text x="833.0" y="836.9" font-size="23" fill="#000" text-anchor="end" font-weight="normal" >1</text>
<line x1="841.3" y1="795.4" x2="845.3" y2="795.4" stroke="#000" stroke-width="2"/>
<line x1="841.3" y1="761.8" x2="848.3" y2="761.8" stroke="#000" stroke-width="2"/>
<text x="833.0" y="769.8" font-size="23" fill="#000" text-anchor="end" font-weight="normal" >2</text>
<line x1="841.3" y1="728.2" x2="845.3" y2="728.2" stroke="#000" stroke-width="2"/>
<line x1="841.3" y1="694.7" x2="848.3" y2="694.7" stroke="#000" stroke-width="2"/>
<text x="833.0" y="702.7" font-size="23" fill="#000" text-anchor="end" font-weight="normal" >3</text>
<line x1="841.3" y1="661.2" x2="845.3" y2="661.2" stroke="#000" stroke-width="2"/>
<line x1="841.3" y1="627.6" x2="848.3" y2="627.6" stroke="#000" stroke-width="2"/>
<text x="833.0" y="635.6" font-size="23" fill="#000" text-anchor="end" font-weight="normal" >4</text>
<line x1="841.3" y1="594.0" x2="845.3" y2="594.0" stroke="#000" stroke-width="2"/>
<line x1="841.3" y1="560.5" x2="848.3" y2="560.5" stroke="#000" stroke-width="2"/>
<text x="833.0" y="568.5" font-size="23" fill="#000" text-anchor="end" font-weight="normal" >5</text>
<text x="959.4" y="957.8" font-size="31.5" fill="#000" text-anchor="start" font-weight="normal" textLength="296" lengthAdjust="spacingAndGlyphs">Binding energy (eV)</text>
<text transform="translate(804,843) rotate(-90)" font-size="33" textLength="279" lengthAdjust="spacingAndGlyphs">Intensity (10<tspan font-size="22" dy="-14">4</tspan><tspan dy="14"> cps)</tspan></text>
<text x="1287.0" y="584.0" font-size="34" fill="#000" text-anchor="start" font-weight="normal" textLength="73" lengthAdjust="spacingAndGlyphs">S 2p</text>
<text x="963.7" y="586.1" font-size="33" fill="#1a7c1a" text-anchor="start" font-weight="normal" textLength="151.8" lengthAdjust="spacingAndGlyphs">168.87 eV</text>
<text x="962.5" y="627.8" font-size="33" fill="#1a7c1a" text-anchor="start" font-weight="normal" textLength="115" lengthAdjust="spacingAndGlyphs">PSS 2p</text>
<text x="1077.0" y="634.0" font-size="29" fill="#1a7c1a" text-anchor="start" font-weight="normal" textLength="40.3" lengthAdjust="spacingAndGlyphs">3/2</text>
<text x="904.4" y="683.7" font-size="33" fill="#7a0c12" text-anchor="start" font-weight="normal" textLength="154.3" lengthAdjust="spacingAndGlyphs">169.55 eV</text>
<text x="914.5" y="729.1" font-size="33" fill="#7a0c12" textLength="46" lengthAdjust="spacingAndGlyphs">SO</text>
<text x="962.4" y="734.8" font-size="25" fill="#7a0c12">4</text>
<text x="978.7" y="720.8" font-size="25" fill="#7a0c12">-</text>
<text x="996.7" y="729.1" font-size="33" fill="#7a0c12">2p</text>
<text x="1036.7" y="737.9" font-size="25" fill="#7a0c12" textLength="33.8" lengthAdjust="spacingAndGlyphs">1/2</text>
<text x="1207.9" y="676.1" font-size="33" fill="#6e12e8" text-anchor="start" font-weight="normal" textLength="150.6" lengthAdjust="spacingAndGlyphs">168.43 eV</text>
<text x="1205.8" y="720.1" font-size="33" fill="#6e12e8" textLength="46" lengthAdjust="spacingAndGlyphs">SO</text>
<text x="1253.8" y="726.7" font-size="25" fill="#6e12e8">4</text>
<text x="1269.8" y="711.5" font-size="25" fill="#6e12e8">-</text>
<text x="1288.4" y="720.1" font-size="33" fill="#6e12e8">2p</text>
<text x="1326.6" y="726.7" font-size="25" fill="#6e12e8" textLength="35.3" lengthAdjust="spacingAndGlyphs">3/2</text>
<text x="863.5" y="788.7" font-size="33" fill="#12128c" text-anchor="start" font-weight="normal" textLength="151" lengthAdjust="spacingAndGlyphs">169.99 eV</text>
<text x="863.3" y="831.1" font-size="33" fill="#12128c" text-anchor="start" font-weight="normal" textLength="115" lengthAdjust="spacingAndGlyphs">PSS 2p</text>
<text x="979.5" y="837.0" font-size="25" fill="#12128c" text-anchor="start" font-weight="normal" textLength="34" lengthAdjust="spacingAndGlyphs">1/2</text>
<defs>
<linearGradient id="gd0" x1="0" y1="0" x2="0" y2="1"><stop offset="0" stop-color="#9040f0"/><stop offset="1" stop-color="#dcc0f8"/></linearGradient>
<linearGradient id="gd1" x1="0" y1="0" x2="0" y2="1"><stop offset="0" stop-color="#f06060"/><stop offset="1" stop-color="#f8b0b0"/></linearGradient>
</defs>
<polygon points="1599.3,853.4 1600.6,853.3 1601.8,853.3 1603.1,853.3 1604.4,853.2 1605.6,853.2 1606.9,853.2 1608.2,853.1 1609.4,853.1 1610.7,853.1 1611.9,853.0 1613.2,853.0 1614.5,853.0 1615.7,852.9 1617.0,852.9 1618.3,852.9 1619.5,852.8 1620.8,852.8 1622.1,852.7 1623.3,852.7 1624.6,852.7 1625.9,852.6 1627.1,852.6 1628.4,852.6 1629.7,852.5 1630.9,852.5 1632.2,852.5 1633.5,852.4 1634.7,852.4 1636.0,852.4 1637.2,852.3 1638.5,852.3 1639.8,852.2 1641.0,852.2 1642.3,852.2 1643.6,852.1 1644.8,852.1 1646.1,852.1 1647.4,852.0 1648.6,852.0 1649.9,852.0 1651.2,851.9 1652.4,851.9 1653.7,851.9 1655.0,851.8 1656.2,851.8 1657.5,851.7 1658.8,851.7 1660.0,851.7 1661.3,851.6 1662.5,851.6 1663.8,851.6 1665.1,851.5 1666.3,851.5 1667.6,851.5 1668.9,851.4 1670.1,851.4 1671.4,851.3 1672.7,851.3 1673.9,851.3 1675.2,851.2 1676.5,851.2 1677.7,851.2 1679.0,851.1 1680.3,851.1 1681.5,851.0 1682.8,851.0 1684.1,851.0 1685.3,850.9 1686.6,850.9 1687.8,850.8 1689.1,850.8 1690.4,850.7 1691.6,850.7 1692.9,850.6 1694.2,850.6 1695.4,850.5 1696.7,850.5 1698.0,850.4 1699.2,850.3 1700.5,850.3 1701.8,850.2 1703.0,850.1 1704.3,850.0 1705.6,850.0 1706.8,849.9 1708.1,849.8 1709.4,849.7 1710.6,849.6 1711.9,849.4 1713.1,849.3 1714.4,849.2 1715.7,849.0 1716.9,848.9 1718.2,848.7 1719.5,848.5 1720.7,848.3 1722.0,848.1 1723.3,847.8 1724.5,847.6 1725.8,847.3 1727.1,847.0 1728.3,846.7 1729.6,846.3 1730.9,846.0 1732.1,845.6 1733.4,845.1 1734.7,844.7 1735.9,844.1 1737.2,843.6 1738.4,843.0 1739.7,842.4 1741.0,841.7 1742.2,841.0 1743.5,840.2 1744.8,839.3 1746.0,838.4 1747.3,837.5 1748.6,836.5 1749.8,835.4 1751.1,834.2 1752.4,833.0 1753.6,831.7 1754.9,830.3 1756.2,828.8 1757.4,827.3 1758.7,825.6 1760.0,823.9 1761.2,822.1 1762.5,820.1 1763.8,818.1 1765.0,816.0 1766.3,813.7 1767.5,811.4 1768.8,808.9 1770.1,806.4 1771.3,803.7 1772.6,800.9 1773.9,798.0 1775.1,795.0 1776.4,791.9 1777.7,788.7 1778.9,785.3 1780.2,781.9 1781.5,778.3 1782.7,774.7 1784.0,770.9 1785.3,767.0 1786.5,763.1 1787.8,759.0 1789.0,754.9 1790.3,750.7 1791.6,746.4 1792.8,742.0 1794.1,737.6 1795.4,733.1 1796.6,728.6 1797.9,724.1 1799.2,719.5 1800.4,714.9 1801.7,710.2 1803.0,705.6 1804.2,701.0 1805.5,696.4 1806.8,691.9 1808.0,687.4 1809.3,682.9 1810.6,678.5 1811.8,674.2 1813.1,670.0 1814.3,665.9 1815.6,661.9 1816.9,658.0 1818.1,654.2 1819.4,650.6 1820.7,647.2 1821.9,643.9 1823.2,640.8 1824.5,637.9 1825.7,635.1 1827.0,632.6 1828.3,630.3 1829.5,628.2 1830.8,626.3 1832.1,624.7 1833.3,623.3 1834.6,622.2 1835.9,621.2 1837.1,620.6 1838.4,620.2 1839.6,620.0 1840.9,620.1 1842.2,620.4 1843.4,621.0 1844.7,621.9 1846.0,623.0 1847.2,624.3 1848.5,625.8 1849.8,627.6 1851.0,629.7 1852.3,631.9 1853.6,634.4 1854.8,637.0 1856.1,639.9 1857.4,642.9 1858.6,646.1 1859.9,649.5 1861.2,653.0 1862.4,656.7 1863.7,660.5 1864.9,664.5 1866.2,668.5 1867.5,672.7 1868.7,676.9 1870.0,681.2 1871.3,685.6 1872.5,690.0 1873.8,694.5 1875.1,699.0 1876.3,703.6 1877.6,708.1 1878.9,712.7 1880.1,717.2 1881.4,721.7 1882.7,726.2 1883.9,730.6 1885.2,735.0 1886.5,739.4 1887.7,743.7 1889.0,747.9 1890.2,752.0 1891.5,756.1 1892.8,760.1 1894.0,764.0 1895.3,767.8 1896.6,771.5 1897.8,775.1 1899.1,778.5 1900.4,781.9 1901.6,785.2 1902.9,788.4 1904.2,791.4 1905.4,794.3 1906.7,797.2 1908.0,799.9 1909.2,802.5 1910.5,805.0 1911.8,807.3 1913.0,809.6 1914.3,811.8 1915.5,813.8 1916.8,815.8 1918.1,817.7 1919.3,819.4 1920.6,821.1 1921.9,822.7 1923.1,824.1 1924.4,825.5 1925.7,826.9 1926.9,828.1 1928.2,829.3 1929.5,830.3 1930.7,831.4 1932.0,832.3 1933.3,833.2 1934.5,834.0 1935.8,834.8 1937.1,835.5 1938.3,836.2 1939.6,836.8 1940.8,837.3 1942.1,837.8 1943.4,838.3 1944.6,838.8 1945.9,839.2 1947.2,839.5 1948.4,839.9 1949.7,840.2 1951.0,840.4 1952.2,840.7 1953.5,840.9 1953.5,843.4 1952.2,843.5 1951.0,843.5 1949.7,843.6 1948.4,843.6 1947.2,843.6 1945.9,843.7 1944.6,843.7 1943.4,843.7 1942.1,843.8 1940.8,843.8 1939.6,843.8 1938.3,843.9 1937.1,843.9 1935.8,843.9 1934.5,844.0 1933.3,844.0 1932.0,844.0 1930.7,844.1 1929.5,844.1 1928.2,844.2 1926.9,844.2 1925.7,844.2 1924.4,844.3 1923.1,844.3 1921.9,844.3 1920.6,844.4 1919.3,844.4 1918.1,844.4 1916.8,844.5 1915.5,844.5 1914.3,844.5 1913.0,844.6 1911.8,844.6 1910.5,844.7 1909.2,844.7 1908.0,844.7 1906.7,844.8 1905.4,844.8 1904.2,844.8 1902.9,844.9 1901.6,844.9 1900.4,844.9 1899.1,845.0 1897.8,845.0 1896.6,845.0 1895.3,845.1 1894.0,845.1 1892.8,845.1 1891.5,845.2 1890.2,845.2 1889.0,845.3 1887.7,845.3 1886.5,845.3 1885.2,845.4 1883.9,845.4 1882.7,845.4 1881.4,845.5 1880.1,845.5 1878.9,845.5 1877.6,845.6 1876.3,845.6 1875.1,845.6 1873.8,845.7 1872.5,845.7 1871.3,845.8 1870.0,845.8 1868.7,845.8 1867.5,845.9 1866.2,845.9 1864.9,845.9 1863.7,846.0 1862.4,846.0 1861.2,846.0 1859.9,846.1 1858.6,846.1 1857.4,846.1 1856.1,846.2 1854.8,846.2 1853.6,846.2 1852.3,846.3 1851.0,846.3 1849.8,846.4 1848.5,846.4 1847.2,846.4 1846.0,846.5 1844.7,846.5 1843.4,846.5 1842.2,846.6 1840.9,846.6 1839.6,846.6 1838.4,846.7 1837.1,846.7 1835.9,846.7 1834.6,846.8 1833.3,846.8 1832.1,846.9 1830.8,846.9 1829.5,846.9 1828.3,847.0 1827.0,847.0 1825.7,847.0 1824.5,847.1 1823.2,847.1 1821.9,847.1 1820.7,847.2 1819.4,847.2 1818.1,847.2 1816.9,847.3 1815.6,847.3 1814.3,847.3 1813.1,847.4 1811.8,847.4 1810.6,847.5 1809.3,847.5 1808.0,847.5 1806.8,847.6 1805.5,847.6 1804.2,847.6 1803.0,847.7 1801.7,847.7 1800.4,847.7 1799.2,847.8 1797.9,847.8 1796.6,847.8 1795.4,847.9 1794.1,847.9 1792.8,848.0 1791.6,848.0 1790.3,848.0 1789.0,848.1 1787.8,848.1 1786.5,848.1 1785.3,848.2 1784.0,848.2 1782.7,848.2 1781.5,848.3 1780.2,848.3 1778.9,848.3 1777.7,848.4 1776.4,848.4 1775.1,848.4 1773.9,848.5 1772.6,848.5 1771.3,848.6 1770.1,848.6 1768.8,848.6 1767.5,848.7 1766.3,848.7 1765.0,848.7 1763.8,848.8 1762.5,848.8 1761.2,848.8 1760.0,848.9 1758.7,848.9 1757.4,848.9 1756.2,849.0 1754.9,849.0 1753.6,849.1 1752.4,849.1 1751.1,849.1 1749.8,849.2 1748.6,849.2 1747.3,849.2 1746.0,849.3 1744.8,849.3 1743.5,849.3 1742.2,849.4 1741.0,849.4 1739.7,849.4 1738.4,849.5 1737.2,849.5 1735.9,849.6 1734.7,849.6 1733.4,849.6 1732.1,849.7 1730.9,849.7 1729.6,849.7 1728.3,849.8 1727.1,849.8 1725.8,849.8 1724.5,849.9 1723.3,849.9 1722.0,849.9 1720.7,850.0 1719.5,850.0 1718.2,850.0 1716.9,850.1 1715.7,850.1 1714.4,850.2 1713.1,850.2 1711.9,850.2 1710.6,850.3 1709.4,850.3 1708.1,850.3 1706.8,850.4 1705.6,850.4 1704.3,850.4 1703.0,850.5 1701.8,850.5 1700.5,850.5 1699.2,850.6 1698.0,850.6 1696.7,850.7 1695.4,850.7 1694.2,850.7 1692.9,850.8 1691.6,850.8 1690.4,850.8 1689.1,850.9 1687.8,850.9 1686.6,850.9 1685.3,851.0 1684.1,851.0 1682.8,851.0 1681.5,851.1 1680.3,851.1 1679.0,851.1 1677.7,851.2 1676.5,851.2 1675.2,851.3 1673.9,851.3 1672.7,851.3 1671.4,851.4 1670.1,851.4 1668.9,851.4 1667.6,851.5 1666.3,851.5 1665.1,851.5 1663.8,851.6 1662.5,851.6 1661.3,851.6 1660.0,851.7 1658.8,851.7 1657.5,851.8 1656.2,851.8 1655.0,851.8 1653.7,851.9 1652.4,851.9 1651.2,851.9 1649.9,852.0 1648.6,852.0 1647.4,852.0 1646.1,852.1 1644.8,852.1 1643.6,852.1 1642.3,852.2 1641.0,852.2 1639.8,852.2 1638.5,852.3 1637.2,852.3 1636.0,852.4 1634.7,852.4 1633.5,852.4 1632.2,852.5 1630.9,852.5 1629.7,852.5 1628.4,852.6 1627.1,852.6 1625.9,852.6 1624.6,852.7 1623.3,852.7 1622.1,852.7 1620.8,852.8 1619.5,852.8 1618.3,852.9 1617.0,852.9 1615.7,852.9 1614.5,853.0 1613.2,853.0 1611.9,853.0 1610.7,853.1 1609.4,853.1 1608.2,853.1 1606.9,853.2 1605.6,853.2 1604.4,853.2 1603.1,853.3 1601.8,853.3 1600.6,853.3 1599.3,853.4" fill="url(#gd0)" fill-opacity="0.9" stroke="none"/>
<polyline points="1599.3,853.4 1600.6,853.3 1601.8,853.3 1603.1,853.3 1604.4,853.2 1605.6,853.2 1606.9,853.2 1608.2,853.1 1609.4,853.1 1610.7,853.1 1611.9,853.0 1613.2,853.0 1614.5,853.0 1615.7,852.9 1617.0,852.9 1618.3,852.9 1619.5,852.8 1620.8,852.8 1622.1,852.7 1623.3,852.7 1624.6,852.7 1625.9,852.6 1627.1,852.6 1628.4,852.6 1629.7,852.5 1630.9,852.5 1632.2,852.5 1633.5,852.4 1634.7,852.4 1636.0,852.4 1637.2,852.3 1638.5,852.3 1639.8,852.2 1641.0,852.2 1642.3,852.2 1643.6,852.1 1644.8,852.1 1646.1,852.1 1647.4,852.0 1648.6,852.0 1649.9,852.0 1651.2,851.9 1652.4,851.9 1653.7,851.9 1655.0,851.8 1656.2,851.8 1657.5,851.7 1658.8,851.7 1660.0,851.7 1661.3,851.6 1662.5,851.6 1663.8,851.6 1665.1,851.5 1666.3,851.5 1667.6,851.5 1668.9,851.4 1670.1,851.4 1671.4,851.3 1672.7,851.3 1673.9,851.3 1675.2,851.2 1676.5,851.2 1677.7,851.2 1679.0,851.1 1680.3,851.1 1681.5,851.0 1682.8,851.0 1684.1,851.0 1685.3,850.9 1686.6,850.9 1687.8,850.8 1689.1,850.8 1690.4,850.7 1691.6,850.7 1692.9,850.6 1694.2,850.6 1695.4,850.5 1696.7,850.5 1698.0,850.4 1699.2,850.3 1700.5,850.3 1701.8,850.2 1703.0,850.1 1704.3,850.0 1705.6,850.0 1706.8,849.9 1708.1,849.8 1709.4,849.7 1710.6,849.6 1711.9,849.4 1713.1,849.3 1714.4,849.2 1715.7,849.0 1716.9,848.9 1718.2,848.7 1719.5,848.5 1720.7,848.3 1722.0,848.1 1723.3,847.8 1724.5,847.6 1725.8,847.3 1727.1,847.0 1728.3,846.7 1729.6,846.3 1730.9,846.0 1732.1,845.6 1733.4,845.1 1734.7,844.7 1735.9,844.1 1737.2,843.6 1738.4,843.0 1739.7,842.4 1741.0,841.7 1742.2,841.0 1743.5,840.2 1744.8,839.3 1746.0,838.4 1747.3,837.5 1748.6,836.5 1749.8,835.4 1751.1,834.2 1752.4,833.0 1753.6,831.7 1754.9,830.3 1756.2,828.8 1757.4,827.3 1758.7,825.6 1760.0,823.9 1761.2,822.1 1762.5,820.1 1763.8,818.1 1765.0,816.0 1766.3,813.7 1767.5,811.4 1768.8,808.9 1770.1,806.4 1771.3,803.7 1772.6,800.9 1773.9,798.0 1775.1,795.0 1776.4,791.9 1777.7,788.7 1778.9,785.3 1780.2,781.9 1781.5,778.3 1782.7,774.7 1784.0,770.9 1785.3,767.0 1786.5,763.1 1787.8,759.0 1789.0,754.9 1790.3,750.7 1791.6,746.4 1792.8,742.0 1794.1,737.6 1795.4,733.1 1796.6,728.6 1797.9,724.1 1799.2,719.5 1800.4,714.9 1801.7,710.2 1803.0,705.6 1804.2,701.0 1805.5,696.4 1806.8,691.9 1808.0,687.4 1809.3,682.9 1810.6,678.5 1811.8,674.2 1813.1,670.0 1814.3,665.9 1815.6,661.9 1816.9,658.0 1818.1,654.2 1819.4,650.6 1820.7,647.2 1821.9,643.9 1823.2,640.8 1824.5,637.9 1825.7,635.1 1827.0,632.6 1828.3,630.3 1829.5,628.2 1830.8,626.3 1832.1,624.7 1833.3,623.3 1834.6,622.2 1835.9,621.2 1837.1,620.6 1838.4,620.2 1839.6,620.0 1840.9,620.1 1842.2,620.4 1843.4,621.0 1844.7,621.9 1846.0,623.0 1847.2,624.3 1848.5,625.8 1849.8,627.6 1851.0,629.7 1852.3,631.9 1853.6,634.4 1854.8,637.0 1856.1,639.9 1857.4,642.9 1858.6,646.1 1859.9,649.5 1861.2,653.0 1862.4,656.7 1863.7,660.5 1864.9,664.5 1866.2,668.5 1867.5,672.7 1868.7,676.9 1870.0,681.2 1871.3,685.6 1872.5,690.0 1873.8,694.5 1875.1,699.0 1876.3,703.6 1877.6,708.1 1878.9,712.7 1880.1,717.2 1881.4,721.7 1882.7,726.2 1883.9,730.6 1885.2,735.0 1886.5,739.4 1887.7,743.7 1889.0,747.9 1890.2,752.0 1891.5,756.1 1892.8,760.1 1894.0,764.0 1895.3,767.8 1896.6,771.5 1897.8,775.1 1899.1,778.5 1900.4,781.9 1901.6,785.2 1902.9,788.4 1904.2,791.4 1905.4,794.3 1906.7,797.2 1908.0,799.9 1909.2,802.5 1910.5,805.0 1911.8,807.3 1913.0,809.6 1914.3,811.8 1915.5,813.8 1916.8,815.8 1918.1,817.7 1919.3,819.4 1920.6,821.1 1921.9,822.7 1923.1,824.1 1924.4,825.5 1925.7,826.9 1926.9,828.1 1928.2,829.3 1929.5,830.3 1930.7,831.4 1932.0,832.3 1933.3,833.2 1934.5,834.0 1935.8,834.8 1937.1,835.5 1938.3,836.2 1939.6,836.8 1940.8,837.3 1942.1,837.8 1943.4,838.3 1944.6,838.8 1945.9,839.2 1947.2,839.5 1948.4,839.9 1949.7,840.2 1951.0,840.4 1952.2,840.7 1953.5,840.9" fill="none" stroke="#9b20e0" stroke-width="2"/>
<polygon points="1599.3,853.4 1600.6,853.3 1601.8,853.3 1603.1,853.3 1604.4,853.2 1605.6,853.2 1606.9,853.2 1608.2,853.1 1609.4,853.1 1610.7,853.1 1611.9,853.0 1613.2,853.0 1614.5,853.0 1615.7,852.9 1617.0,852.9 1618.3,852.8 1619.5,852.8 1620.8,852.8 1622.1,852.7 1623.3,852.7 1624.6,852.7 1625.9,852.6 1627.1,852.6 1628.4,852.5 1629.7,852.5 1630.9,852.5 1632.2,852.4 1633.5,852.4 1634.7,852.3 1636.0,852.3 1637.2,852.2 1638.5,852.2 1639.8,852.2 1641.0,852.1 1642.3,852.1 1643.6,852.0 1644.8,852.0 1646.1,851.9 1647.4,851.8 1648.6,851.8 1649.9,851.7 1651.2,851.7 1652.4,851.6 1653.7,851.5 1655.0,851.4 1656.2,851.4 1657.5,851.3 1658.8,851.2 1660.0,851.1 1661.3,851.0 1662.5,850.9 1663.8,850.8 1665.1,850.6 1666.3,850.5 1667.6,850.4 1668.9,850.2 1670.1,850.0 1671.4,849.9 1672.7,849.7 1673.9,849.5 1675.2,849.2 1676.5,849.0 1677.7,848.8 1679.0,848.5 1680.3,848.2 1681.5,847.9 1682.8,847.6 1684.1,847.2 1685.3,846.8 1686.6,846.4 1687.8,846.0 1689.1,845.5 1690.4,845.1 1691.6,844.5 1692.9,844.0 1694.2,843.4 1695.4,842.8 1696.7,842.1 1698.0,841.4 1699.2,840.7 1700.5,839.9 1701.8,839.0 1703.0,838.2 1704.3,837.2 1705.6,836.3 1706.8,835.2 1708.1,834.2 1709.4,833.0 1710.6,831.9 1711.9,830.6 1713.1,829.3 1714.4,828.0 1715.7,826.6 1716.9,825.1 1718.2,823.6 1719.5,822.1 1720.7,820.4 1722.0,818.8 1723.3,817.0 1724.5,815.3 1725.8,813.4 1727.1,811.5 1728.3,809.6 1729.6,807.6 1730.9,805.6 1732.1,803.5 1733.4,801.4 1734.7,799.2 1735.9,797.0 1737.2,794.8 1738.4,792.5 1739.7,790.3 1741.0,788.0 1742.2,785.7 1743.5,783.4 1744.8,781.0 1746.0,778.7 1747.3,776.4 1748.6,774.1 1749.8,771.8 1751.1,769.5 1752.4,767.2 1753.6,765.0 1754.9,762.8 1756.2,760.7 1757.4,758.6 1758.7,756.6 1760.0,754.6 1761.2,752.7 1762.5,750.9 1763.8,749.1 1765.0,747.4 1766.3,745.8 1767.5,744.3 1768.8,742.9 1770.1,741.6 1771.3,740.4 1772.6,739.4 1773.9,738.4 1775.1,737.5 1776.4,736.8 1777.7,736.2 1778.9,735.7 1780.2,735.3 1781.5,735.0 1782.7,734.9 1784.0,734.9 1785.3,735.1 1786.5,735.3 1787.8,735.7 1789.0,736.2 1790.3,736.8 1791.6,737.5 1792.8,738.4 1794.1,739.4 1795.4,740.5 1796.6,741.6 1797.9,742.9 1799.2,744.3 1800.4,745.8 1801.7,747.4 1803.0,749.0 1804.2,750.8 1805.5,752.6 1806.8,754.4 1808.0,756.4 1809.3,758.4 1810.6,760.4 1811.8,762.5 1813.1,764.7 1814.3,766.8 1815.6,769.0 1816.9,771.2 1818.1,773.5 1819.4,775.7 1820.7,778.0 1821.9,780.2 1823.2,782.5 1824.5,784.7 1825.7,787.0 1827.0,789.2 1828.3,791.4 1829.5,793.5 1830.8,795.7 1832.1,797.8 1833.3,799.8 1834.6,801.8 1835.9,803.8 1837.1,805.8 1838.4,807.6 1839.6,809.5 1840.9,811.3 1842.2,813.0 1843.4,814.7 1844.7,816.3 1846.0,817.9 1847.2,819.4 1848.5,820.9 1849.8,822.3 1851.0,823.6 1852.3,824.9 1853.6,826.2 1854.8,827.3 1856.1,828.5 1857.4,829.5 1858.6,830.6 1859.9,831.5 1861.2,832.5 1862.4,833.3 1863.7,834.2 1864.9,834.9 1866.2,835.7 1867.5,836.4 1868.7,837.0 1870.0,837.6 1871.3,838.2 1872.5,838.7 1873.8,839.2 1875.1,839.7 1876.3,840.1 1877.6,840.5 1878.9,840.9 1880.1,841.2 1881.4,841.5 1882.7,841.8 1883.9,842.1 1885.2,842.3 1886.5,842.6 1887.7,842.8 1889.0,843.0 1890.2,843.1 1891.5,843.3 1892.8,843.4 1894.0,843.5 1895.3,843.7 1896.6,843.8 1897.8,843.8 1899.1,843.9 1900.4,844.0 1901.6,844.0 1902.9,844.1 1904.2,844.1 1905.4,844.2 1906.7,844.2 1908.0,844.2 1909.2,844.2 1910.5,844.3 1911.8,844.3 1913.0,844.3 1914.3,844.3 1915.5,844.3 1916.8,844.2 1918.1,844.2 1919.3,844.2 1920.6,844.2 1921.9,844.2 1923.1,844.2 1924.4,844.2 1925.7,844.1 1926.9,844.1 1928.2,844.1 1929.5,844.1 1930.7,844.0 1932.0,844.0 1933.3,844.0 1934.5,843.9 1935.8,843.9 1937.1,843.9 1938.3,843.8 1939.6,843.8 1940.8,843.8 1942.1,843.7 1943.4,843.7 1944.6,843.7 1945.9,843.6 1947.2,843.6 1948.4,843.6 1949.7,843.5 1951.0,843.5 1952.2,843.5 1953.5,843.4 1953.5,843.4 1952.2,843.5 1951.0,843.5 1949.7,843.6 1948.4,843.6 1947.2,843.6 1945.9,843.7 1944.6,843.7 1943.4,843.7 1942.1,843.8 1940.8,843.8 1939.6,843.8 1938.3,843.9 1937.1,843.9 1935.8,843.9 1934.5,844.0 1933.3,844.0 1932.0,844.0 1930.7,844.1 1929.5,844.1 1928.2,844.2 1926.9,844.2 1925.7,844.2 1924.4,844.3 1923.1,844.3 1921.9,844.3 1920.6,844.4 1919.3,844.4 1918.1,844.4 1916.8,844.5 1915.5,844.5 1914.3,844.5 1913.0,844.6 1911.8,844.6 1910.5,844.7 1909.2,844.7 1908.0,844.7 1906.7,844.8 1905.4,844.8 1904.2,844.8 1902.9,844.9 1901.6,844.9 1900.4,844.9 1899.1,845.0 1897.8,845.0 1896.6,845.0 1895.3,845.1 1894.0,845.1 1892.8,845.1 1891.5,845.2 1890.2,845.2 1889.0,845.3 1887.7,845.3 1886.5,845.3 1885.2,845.4 1883.9,845.4 1882.7,845.4 1881.4,845.5 1880.1,845.5 1878.9,845.5 1877.6,845.6 1876.3,845.6 1875.1,845.6 1873.8,845.7 1872.5,845.7 1871.3,845.8 1870.0,845.8 1868.7,845.8 1867.5,845.9 1866.2,845.9 1864.9,845.9 1863.7,846.0 1862.4,846.0 1861.2,846.0 1859.9,846.1 1858.6,846.1 1857.4,846.1 1856.1,846.2 1854.8,846.2 1853.6,846.2 1852.3,846.3 1851.0,846.3 1849.8,846.4 1848.5,846.4 1847.2,846.4 1846.0,846.5 1844.7,846.5 1843.4,846.5 1842.2,846.6 1840.9,846.6 1839.6,846.6 1838.4,846.7 1837.1,846.7 1835.9,846.7 1834.6,846.8 1833.3,846.8 1832.1,846.9 1830.8,846.9 1829.5,846.9 1828.3,847.0 1827.0,847.0 1825.7,847.0 1824.5,847.1 1823.2,847.1 1821.9,847.1 1820.7,847.2 1819.4,847.2 1818.1,847.2 1816.9,847.3 1815.6,847.3 1814.3,847.3 1813.1,847.4 1811.8,847.4 1810.6,847.5 1809.3,847.5 1808.0,847.5 1806.8,847.6 1805.5,847.6 1804.2,847.6 1803.0,847.7 1801.7,847.7 1800.4,847.7 1799.2,847.8 1797.9,847.8 1796.6,847.8 1795.4,847.9 1794.1,847.9 1792.8,848.0 1791.6,848.0 1790.3,848.0 1789.0,848.1 1787.8,848.1 1786.5,848.1 1785.3,848.2 1784.0,848.2 1782.7,848.2 1781.5,848.3 1780.2,848.3 1778.9,848.3 1777.7,848.4 1776.4,848.4 1775.1,848.4 1773.9,848.5 1772.6,848.5 1771.3,848.6 1770.1,848.6 1768.8,848.6 1767.5,848.7 1766.3,848.7 1765.0,848.7 1763.8,848.8 1762.5,848.8 1761.2,848.8 1760.0,848.9 1758.7,848.9 1757.4,848.9 1756.2,849.0 1754.9,849.0 1753.6,849.1 1752.4,849.1 1751.1,849.1 1749.8,849.2 1748.6,849.2 1747.3,849.2 1746.0,849.3 1744.8,849.3 1743.5,849.3 1742.2,849.4 1741.0,849.4 1739.7,849.4 1738.4,849.5 1737.2,849.5 1735.9,849.6 1734.7,849.6 1733.4,849.6 1732.1,849.7 1730.9,849.7 1729.6,849.7 1728.3,849.8 1727.1,849.8 1725.8,849.8 1724.5,849.9 1723.3,849.9 1722.0,849.9 1720.7,850.0 1719.5,850.0 1718.2,850.0 1716.9,850.1 1715.7,850.1 1714.4,850.2 1713.1,850.2 1711.9,850.2 1710.6,850.3 1709.4,850.3 1708.1,850.3 1706.8,850.4 1705.6,850.4 1704.3,850.4 1703.0,850.5 1701.8,850.5 1700.5,850.5 1699.2,850.6 1698.0,850.6 1696.7,850.7 1695.4,850.7 1694.2,850.7 1692.9,850.8 1691.6,850.8 1690.4,850.8 1689.1,850.9 1687.8,850.9 1686.6,850.9 1685.3,851.0 1684.1,851.0 1682.8,851.0 1681.5,851.1 1680.3,851.1 1679.0,851.1 1677.7,851.2 1676.5,851.2 1675.2,851.3 1673.9,851.3 1672.7,851.3 1671.4,851.4 1670.1,851.4 1668.9,851.4 1667.6,851.5 1666.3,851.5 1665.1,851.5 1663.8,851.6 1662.5,851.6 1661.3,851.6 1660.0,851.7 1658.8,851.7 1657.5,851.8 1656.2,851.8 1655.0,851.8 1653.7,851.9 1652.4,851.9 1651.2,851.9 1649.9,852.0 1648.6,852.0 1647.4,852.0 1646.1,852.1 1644.8,852.1 1643.6,852.1 1642.3,852.2 1641.0,852.2 1639.8,852.2 1638.5,852.3 1637.2,852.3 1636.0,852.4 1634.7,852.4 1633.5,852.4 1632.2,852.5 1630.9,852.5 1629.7,852.5 1628.4,852.6 1627.1,852.6 1625.9,852.6 1624.6,852.7 1623.3,852.7 1622.1,852.7 1620.8,852.8 1619.5,852.8 1618.3,852.9 1617.0,852.9 1615.7,852.9 1614.5,853.0 1613.2,853.0 1611.9,853.0 1610.7,853.1 1609.4,853.1 1608.2,853.1 1606.9,853.2 1605.6,853.2 1604.4,853.2 1603.1,853.3 1601.8,853.3 1600.6,853.3 1599.3,853.4" fill="url(#gd1)" fill-opacity="0.75" stroke="none"/>
<polyline points="1599.3,853.4 1600.6,853.3 1601.8,853.3 1603.1,853.3 1604.4,853.2 1605.6,853.2 1606.9,853.2 1608.2,853.1 1609.4,853.1 1610.7,853.1 1611.9,853.0 1613.2,853.0 1614.5,853.0 1615.7,852.9 1617.0,852.9 1618.3,852.8 1619.5,852.8 1620.8,852.8 1622.1,852.7 1623.3,852.7 1624.6,852.7 1625.9,852.6 1627.1,852.6 1628.4,852.5 1629.7,852.5 1630.9,852.5 1632.2,852.4 1633.5,852.4 1634.7,852.3 1636.0,852.3 1637.2,852.2 1638.5,852.2 1639.8,852.2 1641.0,852.1 1642.3,852.1 1643.6,852.0 1644.8,852.0 1646.1,851.9 1647.4,851.8 1648.6,851.8 1649.9,851.7 1651.2,851.7 1652.4,851.6 1653.7,851.5 1655.0,851.4 1656.2,851.4 1657.5,851.3 1658.8,851.2 1660.0,851.1 1661.3,851.0 1662.5,850.9 1663.8,850.8 1665.1,850.6 1666.3,850.5 1667.6,850.4 1668.9,850.2 1670.1,850.0 1671.4,849.9 1672.7,849.7 1673.9,849.5 1675.2,849.2 1676.5,849.0 1677.7,848.8 1679.0,848.5 1680.3,848.2 1681.5,847.9 1682.8,847.6 1684.1,847.2 1685.3,846.8 1686.6,846.4 1687.8,846.0 1689.1,845.5 1690.4,845.1 1691.6,844.5 1692.9,844.0 1694.2,843.4 1695.4,842.8 1696.7,842.1 1698.0,841.4 1699.2,840.7 1700.5,839.9 1701.8,839.0 1703.0,838.2 1704.3,837.2 1705.6,836.3 1706.8,835.2 1708.1,834.2 1709.4,833.0 1710.6,831.9 1711.9,830.6 1713.1,829.3 1714.4,828.0 1715.7,826.6 1716.9,825.1 1718.2,823.6 1719.5,822.1 1720.7,820.4 1722.0,818.8 1723.3,817.0 1724.5,815.3 1725.8,813.4 1727.1,811.5 1728.3,809.6 1729.6,807.6 1730.9,805.6 1732.1,803.5 1733.4,801.4 1734.7,799.2 1735.9,797.0 1737.2,794.8 1738.4,792.5 1739.7,790.3 1741.0,788.0 1742.2,785.7 1743.5,783.4 1744.8,781.0 1746.0,778.7 1747.3,776.4 1748.6,774.1 1749.8,771.8 1751.1,769.5 1752.4,767.2 1753.6,765.0 1754.9,762.8 1756.2,760.7 1757.4,758.6 1758.7,756.6 1760.0,754.6 1761.2,752.7 1762.5,750.9 1763.8,749.1 1765.0,747.4 1766.3,745.8 1767.5,744.3 1768.8,742.9 1770.1,741.6 1771.3,740.4 1772.6,739.4 1773.9,738.4 1775.1,737.5 1776.4,736.8 1777.7,736.2 1778.9,735.7 1780.2,735.3 1781.5,735.0 1782.7,734.9 1784.0,734.9 1785.3,735.1 1786.5,735.3 1787.8,735.7 1789.0,736.2 1790.3,736.8 1791.6,737.5 1792.8,738.4 1794.1,739.4 1795.4,740.5 1796.6,741.6 1797.9,742.9 1799.2,744.3 1800.4,745.8 1801.7,747.4 1803.0,749.0 1804.2,750.8 1805.5,752.6 1806.8,754.4 1808.0,756.4 1809.3,758.4 1810.6,760.4 1811.8,762.5 1813.1,764.7 1814.3,766.8 1815.6,769.0 1816.9,771.2 1818.1,773.5 1819.4,775.7 1820.7,778.0 1821.9,780.2 1823.2,782.5 1824.5,784.7 1825.7,787.0 1827.0,789.2 1828.3,791.4 1829.5,793.5 1830.8,795.7 1832.1,797.8 1833.3,799.8 1834.6,801.8 1835.9,803.8 1837.1,805.8 1838.4,807.6 1839.6,809.5 1840.9,811.3 1842.2,813.0 1843.4,814.7 1844.7,816.3 1846.0,817.9 1847.2,819.4 1848.5,820.9 1849.8,822.3 1851.0,823.6 1852.3,824.9 1853.6,826.2 1854.8,827.3 1856.1,828.5 1857.4,829.5 1858.6,830.6 1859.9,831.5 1861.2,832.5 1862.4,833.3 1863.7,834.2 1864.9,834.9 1866.2,835.7 1867.5,836.4 1868.7,837.0 1870.0,837.6 1871.3,838.2 1872.5,838.7 1873.8,839.2 1875.1,839.7 1876.3,840.1 1877.6,840.5 1878.9,840.9 1880.1,841.2 1881.4,841.5 1882.7,841.8 1883.9,842.1 1885.2,842.3 1886.5,842.6 1887.7,842.8 1889.0,843.0 1890.2,843.1 1891.5,843.3 1892.8,843.4 1894.0,843.5 1895.3,843.7 1896.6,843.8 1897.8,843.8 1899.1,843.9 1900.4,844.0 1901.6,844.0 1902.9,844.1 1904.2,844.1 1905.4,844.2 1906.7,844.2 1908.0,844.2 1909.2,844.2 1910.5,844.3 1911.8,844.3 1913.0,844.3 1914.3,844.3 1915.5,844.3 1916.8,844.2 1918.1,844.2 1919.3,844.2 1920.6,844.2 1921.9,844.2 1923.1,844.2 1924.4,844.2 1925.7,844.1 1926.9,844.1 1928.2,844.1 1929.5,844.1 1930.7,844.0 1932.0,844.0 1933.3,844.0 1934.5,843.9 1935.8,843.9 1937.1,843.9 1938.3,843.8 1939.6,843.8 1940.8,843.8 1942.1,843.7 1943.4,843.7 1944.6,843.7 1945.9,843.6 1947.2,843.6 1948.4,843.6 1949.7,843.5 1951.0,843.5 1952.2,843.5 1953.5,843.4" fill="none" stroke="#5a0a0a" stroke-width="2"/>
<line x1="1599.3" y1="853.4" x2="1953.5" y2="843.4" stroke="#333" stroke-width="1.5" stroke-dasharray="9,5"/>
<polyline points="1601.1,853.8 1606.9,853.5 1612.8,853.1 1618.6,852.7 1624.4,852.2 1630.3,851.8 1636.3,851.4 1642.5,851.1 1648.6,850.8 1654.6,850.4 1660.3,850.0 1665.5,849.5 1670.2,848.9 1674.4,848.2 1678.4,847.5 1682.1,846.7 1685.5,845.8 1688.9,844.8 1692.1,843.7 1695.0,842.5 1697.7,841.3 1700.3,839.9 1702.8,838.3 1705.3,836.6 1707.8,834.7 1710.2,832.6 1712.5,830.4 1714.8,827.9 1717.1,825.3 1719.4,822.5 1721.8,819.5 1724.2,816.3 1726.7,813.0 1729.1,809.4 1731.3,805.5 1733.4,801.4 1735.2,796.7 1736.9,791.5 1738.4,786.0 1739.8,780.5 1741.3,775.4 1742.8,770.9 1744.4,767.2 1745.9,764.1 1747.5,761.4 1749.1,758.7 1750.6,755.7 1752.2,752.2 1753.8,748.0 1755.3,743.4 1756.9,738.5 1758.5,733.5 1760.0,728.6 1761.6,724.1 1763.2,719.9 1764.7,715.7 1766.2,711.8 1767.8,707.9 1769.3,704.2 1770.9,700.6 1772.5,697.3 1774.0,694.2 1775.6,691.2 1777.2,688.3 1778.7,685.2 1780.3,681.9 1781.9,678.3 1783.4,674.4 1785.0,670.4 1786.6,666.4 1788.1,662.4 1789.7,658.4 1791.3,654.5 1792.8,650.8 1794.4,647.0 1796.0,643.1 1797.5,639.2 1799.1,635.0 1800.7,630.5 1802.2,625.6 1803.7,620.7 1805.3,615.8 1806.8,611.1 1808.4,606.9 1810.0,603.1 1811.6,599.6 1813.2,596.4 1814.8,593.4 1816.3,590.6 1817.8,588.1 1819.2,585.7 1820.4,583.3 1821.7,581.2 1823.0,579.5 1824.4,578.2 1826.0,577.6 1827.9,577.6 1830.1,578.2 1832.4,579.3 1834.7,580.8 1836.9,582.6 1838.9,584.6 1840.7,586.8 1842.3,589.3 1843.8,592.1 1845.3,595.2 1846.8,598.5 1848.3,602.2 1849.9,606.2 1851.4,610.5 1853.0,615.1 1854.6,620.0 1856.1,625.1 1857.7,630.3 1859.3,635.8 1860.8,641.5 1862.4,647.5 1863.9,653.5 1865.4,659.6 1867.0,665.5 1868.6,671.4 1870.1,677.2 1871.7,683.0 1873.3,688.9 1874.8,694.7 1876.4,700.6 1878.0,706.5 1879.5,712.3 1881.1,718.2 1882.7,724.1 1884.2,729.9 1885.8,735.8 1887.3,741.7 1888.8,747.5 1890.4,753.4 1891.9,759.2 1893.5,765.0 1895.2,770.9 1897.0,776.9 1898.8,783.1 1900.8,789.2 1902.7,795.2 1904.8,800.9 1906.9,806.1 1909.1,810.8 1911.4,815.3 1913.8,819.4 1916.1,823.2 1918.5,826.5 1920.9,829.5 1923.2,831.9 1925.4,833.8 1927.7,835.4 1930.0,836.6 1932.4,837.8 1935.0,838.9 1938.0,840.0 1941.2,840.9 1944.6,841.8 1948.0,842.5 1951.1,843.1" fill="none" stroke="#e82020" stroke-width="5" stroke-dasharray="14,9"/>
<polyline points="1500.0,853.4 1506.8,853.9 1516.5,854.3 1527.8,855.0 1539.6,854.5 1550.7,855.3 1560.0,852.6 1567.3,854.1 1573.6,855.7 1579.2,854.8 1584.4,855.6 1589.6,853.0 1595.2,854.0 1601.1,853.0 1606.9,853.6 1612.8,853.3 1618.6,851.1 1624.4,851.3 1630.3,851.1 1636.3,852.8 1642.5,852.0 1648.6,849.7 1654.6,851.4 1660.3,848.9 1665.5,849.9 1670.2,847.7 1674.4,846.6 1678.4,847.5 1682.1,846.7 1685.5,845.8 1688.9,844.8 1692.1,843.7 1695.0,842.5 1697.7,841.3 1700.3,839.9 1702.8,838.3 1705.3,836.6 1707.8,834.7 1710.2,832.6 1712.5,830.4 1714.8,827.9 1717.1,825.3 1719.4,822.5 1721.8,819.5 1724.2,816.3 1726.7,813.0 1729.1,809.4 1731.3,805.5 1733.4,801.4 1735.2,796.7 1736.9,791.5 1738.4,786.0 1739.8,780.5 1741.3,775.4 1742.8,770.9 1744.4,767.2 1745.9,764.1 1747.5,761.4 1749.1,758.7 1750.6,755.7 1752.2,752.2 1753.8,748.0 1755.3,743.4 1756.9,738.5 1758.5,733.5 1760.0,728.6 1761.6,724.1 1763.2,719.9 1764.7,715.7 1766.2,711.8 1767.8,707.9 1769.3,704.2 1770.9,700.6 1772.5,697.3 1774.0,694.2 1775.6,691.2 1777.2,688.3 1778.7,685.2 1780.3,681.9 1781.9,678.3 1783.4,674.4 1785.0,670.4 1786.6,666.4 1788.1,662.4 1789.7,658.4 1791.3,654.5 1792.8,650.8 1794.4,647.0 1796.0,643.1 1797.5,639.2 1799.1,635.0 1800.7,630.5 1802.2,625.6 1803.7,620.7 1805.3,615.8 1806.8,611.1 1808.4,606.9 1810.0,603.1 1811.6,599.6 1813.2,596.4 1814.8,593.4 1816.3,590.6 1817.8,588.1 1819.2,585.7 1820.4,583.3 1821.7,581.2 1823.0,579.5 1824.4,578.2 1826.0,577.6 1827.9,577.6 1830.1,578.2 1832.4,579.3 1834.7,580.8 1836.9,582.6 1838.9,584.6 1840.7,586.8 1842.3,589.3 1843.8,592.1 1845.3,595.2 1846.8,598.5 1848.3,602.2 1849.9,606.2 1851.4,610.5 1853.0,615.1 1854.6,620.0 1856.1,625.1 1857.7,630.3 1859.3,635.8 1860.8,641.5 1862.4,647.5 1863.9,653.5 1865.4,659.6 1867.0,665.5 1868.6,671.4 1870.1,677.2 1871.7,683.0 1873.3,688.9 1874.8,694.7 1876.4,700.6 1878.0,706.5 1879.5,712.3 1881.1,718.2 1882.7,724.1 1884.2,729.9 1885.8,735.8 1887.3,741.7 1888.8,747.5 1890.4,753.4 1891.9,759.2 1893.5,765.0 1895.2,770.9 1897.0,776.9 1898.8,783.1 1900.8,789.2 1902.7,795.2 1904.8,800.9 1906.9,806.1 1909.1,810.8 1911.4,815.3 1913.8,819.4 1916.1,823.2 1918.5,826.5 1920.9,829.5 1923.2,831.9 1925.4,833.8 1927.7,835.4 1930.0,836.6 1932.4,837.8 1935.0,838.9 1938.0,840.0 1941.2,840.9 1944.6,843.0 1948.0,841.5 1951.1,842.2 1953.7,845.1 1955.7,845.3 1957.2,843.9 1958.4,846.5 1959.6,845.4 1961.1,845.8 1963.1,843.9 1965.6,845.4 1968.5,843.5 1971.6,843.0 1974.9,841.2 1978.4,837.6 1981.9,836.2 1985.6,833.7 1989.5,831.7 1993.5,829.4 1997.6,828.0 2001.5,827.0 2005.3,823.2 2009.1,823.6 2013.0,820.7 2016.9,818.8 2020.4,818.8 2023.3,816.4 2025.5,814.9" fill="none" stroke="#000" stroke-width="2"/>
<rect x="1499.5" y="539.5" width="527.5" height="356.29999999999995" fill="none" stroke="#000" stroke-width="2.4"/>
<line x1="2004.1" y1="895.8" x2="2004.1" y2="891.8" stroke="#000" stroke-width="2"/>
<line x1="1953.5" y1="895.8" x2="1953.5" y2="888.8" stroke="#000" stroke-width="2"/>
<text x="1953.5" y="923.5" font-size="24.5" fill="#000" text-anchor="middle" font-weight="normal" >166</text>
<line x1="1902.9" y1="895.8" x2="1902.9" y2="891.8" stroke="#000" stroke-width="2"/>
<line x1="1852.3" y1="895.8" x2="1852.3" y2="888.8" stroke="#000" stroke-width="2"/>
<text x="1852.3" y="923.5" font-size="24.5" fill="#000" text-anchor="middle" font-weight="normal" >168</text>
<line x1="1801.7" y1="895.8" x2="1801.7" y2="891.8" stroke="#000" stroke-width="2"/>
<line x1="1751.1" y1="895.8" x2="1751.1" y2="888.8" stroke="#000" stroke-width="2"/>
<text x="1751.1" y="923.5" font-size="24.5" fill="#000" text-anchor="middle" font-weight="normal" >170</text>
<line x1="1700.5" y1="895.8" x2="1700.5" y2="891.8" stroke="#000" stroke-width="2"/>
<line x1="1649.9" y1="895.8" x2="1649.9" y2="888.8" stroke="#000" stroke-width="2"/>
<text x="1649.9" y="923.5" font-size="24.5" fill="#000" text-anchor="middle" font-weight="normal" >172</text>
<line x1="1599.3" y1="895.8" x2="1599.3" y2="891.8" stroke="#000" stroke-width="2"/>
<line x1="1548.7" y1="895.8" x2="1548.7" y2="888.8" stroke="#000" stroke-width="2"/>
<text x="1548.7" y="923.5" font-size="24.5" fill="#000" text-anchor="middle" font-weight="normal" >174</text>
<line x1="1499.5" y1="867.3" x2="1503.5" y2="867.3" stroke="#000" stroke-width="2"/>
<line x1="1499.5" y1="817.6" x2="1506.5" y2="817.6" stroke="#000" stroke-width="2"/>
<text x="1490.0" y="826.1" font-size="24.5" fill="#000" text-anchor="end" font-weight="normal" >0.5</text>
<line x1="1499.5" y1="767.9" x2="1503.5" y2="767.9" stroke="#000" stroke-width="2"/>
<line x1="1499.5" y1="718.2" x2="1506.5" y2="718.2" stroke="#000" stroke-width="2"/>
<text x="1490.0" y="726.7" font-size="24.5" fill="#000" text-anchor="end" font-weight="normal" >1.0</text>
<line x1="1499.5" y1="668.5" x2="1503.5" y2="668.5" stroke="#000" stroke-width="2"/>
<line x1="1499.5" y1="618.8" x2="1506.5" y2="618.8" stroke="#000" stroke-width="2"/>
<text x="1490.0" y="627.3" font-size="24.5" fill="#000" text-anchor="end" font-weight="normal" >1.5</text>
<line x1="1499.5" y1="569.1" x2="1503.5" y2="569.1" stroke="#000" stroke-width="2"/>
<text x="1606.0" y="957.8" font-size="31.5" fill="#000" text-anchor="start" font-weight="normal" textLength="316" lengthAdjust="spacingAndGlyphs">Binding energy (eV)</text>
<text transform="translate(1446,844.7) rotate(-90)" font-size="33" textLength="270" lengthAdjust="spacingAndGlyphs">Intensity (10<tspan font-size="22" dy="-14">4</tspan><tspan dy="14"> cps)</tspan></text>
<text x="1946.3" y="580.4" font-size="34" fill="#000" text-anchor="start" font-weight="normal" textLength="72" lengthAdjust="spacingAndGlyphs">S 2p</text>
<text x="1613.0" y="598.8" font-size="33" fill="#5a12d8" text-anchor="start" font-weight="normal" textLength="152" lengthAdjust="spacingAndGlyphs">168.25 eV</text>
<text x="1620.4" y="646.1" font-size="33" fill="#5a12d8" textLength="46" lengthAdjust="spacingAndGlyphs">SO</text>
<text x="1668.7" y="654.0" font-size="25" fill="#5a12d8">4</text>
<text x="1684.9" y="635.0" font-size="25" fill="#5a12d8">-</text>
<text x="1703.4" y="646.1" font-size="33" fill="#5a12d8">2p</text>
<text x="1741.5" y="654.0" font-size="25" fill="#5a12d8" textLength="35.2" lengthAdjust="spacingAndGlyphs">3/2</text>
<text x="1555.2" y="737.5" font-size="33" fill="#7a0c12" text-anchor="start" font-weight="normal" textLength="151.2" lengthAdjust="spacingAndGlyphs">169.41 eV</text>
<text x="1562.2" y="785.2" font-size="33" fill="#7a0c12" textLength="46" lengthAdjust="spacingAndGlyphs">SO</text>
<text x="1610.9" y="792.2" font-size="25" fill="#7a0c12">4</text>
<text x="1626.6" y="773.3" font-size="25" fill="#7a0c12">-</text>
<text x="1645.2" y="785.2" font-size="33" fill="#7a0c12">2p</text>
<text x="1684.6" y="792.7" font-size="25" fill="#7a0c12" textLength="33.9" lengthAdjust="spacingAndGlyphs">1/2</text>
<defs>
<linearGradient id="cbe" x1="0" y1="0" x2="0" y2="1">
 <stop offset="0" stop-color="#ffffff"/><stop offset="0.08" stop-color="#eee6d4"/><stop offset="0.2" stop-color="#c8aa70"/>
 <stop offset="0.36" stop-color="#a87c1c"/><stop offset="0.5" stop-color="#8a4a0a"/><stop offset="0.62" stop-color="#6a1404"/>
 <stop offset="0.78" stop-color="#3a0502"/><stop offset="0.9" stop-color="#0a0000"/><stop offset="1" stop-color="#000"/></linearGradient>
<linearGradient id="afmbase" x1="0" y1="0" x2="0" y2="1">
 <stop offset="0" stop-color="#600204"/><stop offset="0.1" stop-color="#5a0203"/><stop offset="0.17" stop-color="#3e0102"/>
 <stop offset="0.23" stop-color="#640406"/><stop offset="0.42" stop-color="#5c0204"/><stop offset="0.55" stop-color="#520203"/>
 <stop offset="0.62" stop-color="#520203"/><stop offset="0.66" stop-color="#2c0101"/><stop offset="0.73" stop-color="#240101"/>
 <stop offset="0.76" stop-color="#680806"/><stop offset="0.86" stop-color="#6a0a06"/><stop offset="1" stop-color="#600604"/></linearGradient>
<linearGradient id="gold" x1="0" y1="0" x2="0" y2="1"><stop offset="0" stop-color="#9a6a0c"/><stop offset="0.6" stop-color="#8c5c08"/><stop offset="1" stop-color="#946408"/></linearGradient>
<linearGradient id="nuc" x1="0" y1="0" x2="1" y2="0"><stop offset="0" stop-color="#6a6a60"/><stop offset="0.35" stop-color="#d8d8d0"/><stop offset="0.7" stop-color="#f0f0ea"/><stop offset="1" stop-color="#8a8a80"/></linearGradient>
<radialGradient id="bump" cx="0.55" cy="0.25" r="0.75"><stop offset="0" stop-color="#e0d8bc"/><stop offset="0.45" stop-color="#a09060"/><stop offset="1" stop-color="#3a2808"/></radialGradient>
<filter id="afmnoise" x="0" y="0" width="100%" height="100%">
  <feTurbulence type="fractalNoise" baseFrequency="0.06 0.14" numOctaves="3" seed="4" result="n"/>
  <feColorMatrix in="n" type="matrix" values="0 0 0 0 0.5  0 0 0 0 0.06  0 0 0 0 0.03  2.0 0 0 0 -0.9" result="w"/>
  <feComposite in="w" in2="SourceGraphic" operator="in"/>
</filter>
<filter id="soft1"><feGaussianBlur stdDeviation="1.2"/></filter>
<filter id="soft3"><feGaussianBlur stdDeviation="3"/></filter>
<filter id="soft6"><feGaussianBlur stdDeviation="6"/></filter>
<clipPath id="afmclip"><polygon points="275.6,1040.6 279.5,1041.1 283.5,1042.0 286.1,1039.8 290.7,1040.7 293.8,1043.4 297.5,1042.9 301.2,1042.2 304.1,1042.2 308.7,1041.8 313.1,1042.4 315.7,1042.7 319.7,1041.1 322.3,1043.1 326.0,1042.6 330.7,1042.6 335.5,1041.5 340.0,1041.7 344.8,1043.3 347.6,1040.7 350.6,1043.7 354.2,1042.5 357.4,1042.1 360.9,1041.5 364.9,1042.4 369.6,1042.8 374.5,1043.4 379.4,1042.8 382.3,1043.5 387.3,1043.7 391.2,1043.0 394.2,1043.5 398.1,1041.5 400.8,1043.6 405.8,1040.9 410.3,1042.1 413.2,1041.7 417.6,1043.8 420.2,1042.9 422.8,1043.3 426.1,1043.9 431.1,1042.6 436.1,1041.9 438.8,1043.0 441.3,1041.5 444.9,1043.0 447.8,1041.0 452.4,1042.0 457.3,1044.1 460.8,1042.6 464.6,1043.3 468.6,1043.0 472.6,1044.4 476.4,1042.6 480.7,1041.9 483.9,1044.6 487.7,1043.1 490.3,1042.6 494.2,1041.2 498.2,1043.5 500.9,1043.5 504.6,1043.7 507.9,1043.8 512.3,1041.4 514.9,1043.7 519.8,1042.2 523.5,1043.5 526.8,1042.7 530.1,1042.7 534.1,1042.5 537.5,1044.2 540.1,1043.5 544.4,1042.6 547.5,1044.4 550.6,1042.2 554.1,1044.1 556.9,1042.7 560.2,1044.6 563.8,1044.7 566.8,1042.9 570.9,1044.9 574.5,1042.5 577.3,1043.6 580.3,1044.6 584.9,1042.4 588.1,1044.7 592.2,1044.7 595.5,1042.3 598.8,1044.7 602.0,1043.1 605.5,1043.4 609.0,1045.3 611.9,1042.0 616.8,1045.2 621.7,1043.6 626.6,1045.4 629.7,1044.8 634.3,1044.5 638.1,1043.2 641.4,1043.0 644.1,1044.3 647.3,1045.1 648.2,1045.7 702.0,1360.3 696.9,1360.3 691.2,1360.3 686.5,1357.8 683.0,1360.3 678.0,1360.3 673.8,1360.3 668.9,1360.3 665.2,1360.3 660.7,1360.3 656.7,1358.2 651.2,1357.7 645.5,1360.3 640.0,1358.0 634.4,1358.8 630.6,1360.3 626.3,1360.3 621.0,1359.2 617.6,1359.2 611.7,1360.3 608.4,1360.3 604.5,1360.3 600.4,1360.3 595.7,1360.3 592.1,1360.3 588.7,1360.3 583.6,1360.3 580.3,1358.6 575.5,1360.3 571.4,1360.3 566.5,1360.3 562.4,1360.3 557.3,1360.3 552.2,1360.3 548.5,1360.3 543.4,1358.5 539.1,1360.3 533.3,1360.3 527.6,1360.3 523.8,1360.3 520.4,1360.3 515.5,1360.3 510.1,1360.3 504.9,1360.3 501.6,1360.3 498.6,1357.8 495.4,1359.1 489.8,1359.3 484.3,1357.6 479.2,1360.3 473.4,1360.3 468.0,1357.8 463.5,1360.3 460.1,1360.3 454.3,1358.7 449.6,1360.3 445.9,1358.8 441.1,1360.3 436.9,1360.3 432.7,1360.3 428.4,1358.3 422.5,1360.3 417.3,1357.9 412.0,1360.3 407.5,1360.3 402.5,1360.3 399.1,1357.8 393.3,1360.3 389.0,1360.3 385.4,1360.3 381.8,1360.3 377.9,1357.9 372.0,1360.3 366.9,1360.3 361.4,1360.3 357.6,1359.3 353.1,1360.3 349.6,1360.3 345.6,1360.3 342.2,1360.3 337.8,1360.3 333.4,1360.3 327.9,1360.3 323.5,1360.3 317.9,1360.3 312.7,1360.3 308.3,1358.8 303.1,1360.3 297.3,1360.3 293.5,1358.8 290.0,1360.3 284.4,1360.3 280.6,1360.3 276.7,1360.3 271.5,1359.1 266.0,1360.3 261.9,1360.3 256.9,1358.6 252.6,1360.3 249.0,1360.3 243.1,1360.3 238.5,1358.8 233.5,1357.5 229.7,1360.3"/></clipPath>
</defs>
<polygon points="275.6,1040.6 279.5,1041.1 283.5,1042.0 286.1,1039.8 290.7,1040.7 293.8,1043.4 297.5,1042.9 301.2,1042.2 304.1,1042.2 308.7,1041.8 313.1,1042.4 315.7,1042.7 319.7,1041.1 322.3,1043.1 326.0,1042.6 330.7,1042.6 335.5,1041.5 340.0,1041.7 344.8,1043.3 347.6,1040.7 350.6,1043.7 354.2,1042.5 357.4,1042.1 360.9,1041.5 364.9,1042.4 369.6,1042.8 374.5,1043.4 379.4,1042.8 382.3,1043.5 387.3,1043.7 391.2,1043.0 394.2,1043.5 398.1,1041.5 400.8,1043.6 405.8,1040.9 410.3,1042.1 413.2,1041.7 417.6,1043.8 420.2,1042.9 422.8,1043.3 426.1,1043.9 431.1,1042.6 436.1,1041.9 438.8,1043.0 441.3,1041.5 444.9,1043.0 447.8,1041.0 452.4,1042.0 457.3,1044.1 460.8,1042.6 464.6,1043.3 468.6,1043.0 472.6,1044.4 476.4,1042.6 480.7,1041.9 483.9,1044.6 487.7,1043.1 490.3,1042.6 494.2,1041.2 498.2,1043.5 500.9,1043.5 504.6,1043.7 507.9,1043.8 512.3,1041.4 514.9,1043.7 519.8,1042.2 523.5,1043.5 526.8,1042.7 530.1,1042.7 534.1,1042.5 537.5,1044.2 540.1,1043.5 544.4,1042.6 547.5,1044.4 550.6,1042.2 554.1,1044.1 556.9,1042.7 560.2,1044.6 563.8,1044.7 566.8,1042.9 570.9,1044.9 574.5,1042.5 577.3,1043.6 580.3,1044.6 584.9,1042.4 588.1,1044.7 592.2,1044.7 595.5,1042.3 598.8,1044.7 602.0,1043.1 605.5,1043.4 609.0,1045.3 611.9,1042.0 616.8,1045.2 621.7,1043.6 626.6,1045.4 629.7,1044.8 634.3,1044.5 638.1,1043.2 641.4,1043.0 644.1,1044.3 647.3,1045.1 648.2,1045.7 702.0,1360.3 696.9,1360.3 691.2,1360.3 686.5,1357.8 683.0,1360.3 678.0,1360.3 673.8,1360.3 668.9,1360.3 665.2,1360.3 660.7,1360.3 656.7,1358.2 651.2,1357.7 645.5,1360.3 640.0,1358.0 634.4,1358.8 630.6,1360.3 626.3,1360.3 621.0,1359.2 617.6,1359.2 611.7,1360.3 608.4,1360.3 604.5,1360.3 600.4,1360.3 595.7,1360.3 592.1,1360.3 588.7,1360.3 583.6,1360.3 580.3,1358.6 575.5,1360.3 571.4,1360.3 566.5,1360.3 562.4,1360.3 557.3,1360.3 552.2,1360.3 548.5,1360.3 543.4,1358.5 539.1,1360.3 533.3,1360.3 527.6,1360.3 523.8,1360.3 520.4,1360.3 515.5,1360.3 510.1,1360.3 504.9,1360.3 501.6,1360.3 498.6,1357.8 495.4,1359.1 489.8,1359.3 484.3,1357.6 479.2,1360.3 473.4,1360.3 468.0,1357.8 463.5,1360.3 460.1,1360.3 454.3,1358.7 449.6,1360.3 445.9,1358.8 441.1,1360.3 436.9,1360.3 432.7,1360.3 428.4,1358.3 422.5,1360.3 417.3,1357.9 412.0,1360.3 407.5,1360.3 402.5,1360.3 399.1,1357.8 393.3,1360.3 389.0,1360.3 385.4,1360.3 381.8,1360.3 377.9,1357.9 372.0,1360.3 366.9,1360.3 361.4,1360.3 357.6,1359.3 353.1,1360.3 349.6,1360.3 345.6,1360.3 342.2,1360.3 337.8,1360.3 333.4,1360.3 327.9,1360.3 323.5,1360.3 317.9,1360.3 312.7,1360.3 308.3,1358.8 303.1,1360.3 297.3,1360.3 293.5,1358.8 290.0,1360.3 284.4,1360.3 280.6,1360.3 276.7,1360.3 271.5,1359.1 266.0,1360.3 261.9,1360.3 256.9,1358.6 252.6,1360.3 249.0,1360.3 243.1,1360.3 238.5,1358.8 233.5,1357.5 229.7,1360.3" fill="url(#afmbase)"/>
<g clip-path="url(#afmclip)">
<rect x="220" y="1030" width="490" height="340" fill="#fff" opacity="0.35" filter="url(#afmnoise)"/>
<ellipse cx="640" cy="1110" rx="18" ry="40" fill="#1a0200" opacity="0.8" filter="url(#soft6)"/>
<ellipse cx="300" cy="1250" rx="60" ry="14" fill="#1a0200" opacity="0.6" filter="url(#soft6)"/>
<ellipse cx="600" cy="1118" rx="38" ry="13" fill="#7a1a08" opacity="0.8" filter="url(#soft3)"/>
<polygon points="416.0,1125.4 424.0,1117.3 443.0,1114.6 459.0,1112.0 470.0,1103.8 500.0,1100.0 532.0,1098.4 545.6,1103.8 553.7,1114.6 556.4,1136.2 553.7,1152.4 540.0,1160.5 532.0,1174.0 534.8,1201.0 540.0,1220.0 551.0,1230.7 578.0,1236.0 599.6,1244.2 610.4,1263.0 610.4,1282.0 599.6,1295.5 578.0,1298.2 561.8,1287.4 537.5,1276.6 497.0,1271.2 456.5,1276.6 435.0,1295.5 429.5,1317.0 416.0,1328.0 389.0,1330.6 367.4,1325.2 359.3,1309.0 364.7,1287.4 378.2,1271.2 397.0,1255.0 416.0,1228.0 429.5,1195.6 437.6,1168.6 437.6,1150.0 426.8,1141.6" fill="url(#gold)" stroke="#5a3008" stroke-width="2" stroke-linejoin="round" filter="url(#soft1)"/>
<clipPath id="islclip"><polygon points="416.0,1125.4 424.0,1117.3 443.0,1114.6 459.0,1112.0 470.0,1103.8 500.0,1100.0 532.0,1098.4 545.6,1103.8 553.7,1114.6 556.4,1136.2 553.7,1152.4 540.0,1160.5 532.0,1174.0 534.8,1201.0 540.0,1220.0 551.0,1230.7 578.0,1236.0 599.6,1244.2 610.4,1263.0 610.4,1282.0 599.6,1295.5 578.0,1298.2 561.8,1287.4 537.5,1276.6 497.0,1271.2 456.5,1276.6 435.0,1295.5 429.5,1317.0 416.0,1328.0 389.0,1330.6 367.4,1325.2 359.3,1309.0 364.7,1287.4 378.2,1271.2 397.0,1255.0 416.0,1228.0 429.5,1195.6 437.6,1168.6 437.6,1150.0 426.8,1141.6"/></clipPath>
<g clip-path="url(#islclip)"><rect x="350" y="1090" width="270" height="250" fill="#fff" opacity="0.0" filter="url(#afmnoise)"/><ellipse cx="455" cy="1180" rx="14" ry="55" fill="#4a2a06" opacity="0.45" filter="url(#soft6)"/><ellipse cx="548" cy="1140" rx="12" ry="22" fill="#4a2a06" opacity="0.5" filter="url(#soft3)"/><ellipse cx="420" cy="1318" rx="18" ry="14" fill="#3a2206" opacity="0.6" filter="url(#soft3)"/><ellipse cx="600" cy="1288" rx="15" ry="13" fill="#3a2206" opacity="0.55" filter="url(#soft3)"/><ellipse cx="520" cy="1265" rx="40" ry="8" fill="#4a2a06" opacity="0.4" filter="url(#soft3)"/><ellipse cx="490" cy="1135" rx="45" ry="18" fill="#b08818" opacity="0.45" filter="url(#soft6)"/><ellipse cx="390" cy="1285" rx="20" ry="12" fill="#b08818" opacity="0.45" filter="url(#soft3)"/><ellipse cx="575" cy="1255" rx="22" ry="10" fill="#b08818" opacity="0.45" filter="url(#soft3)"/></g>
<path d="M322,1252 C320,1232 330,1220 346,1218 C362,1217 374,1226 376,1242 C377,1256 366,1266 350,1266 C334,1266 323,1262 322,1252 Z" fill="url(#bump)"/>
</g>
<path d="M470,1100 L472,1070 L478,1039 L486,1009 L494,1000 L500,994.5 L507,1003 L513,1012 L520,1014 L526.7,1020 L529,1040 L530.7,1066 L532,1100 Z" fill="url(#nuc)"/>
<path d="M470,1100 L472,1070 L478,1039 L486,1009 L494,1000 L500,994.5 L507,1003 L513,1012 L520,1014 L526.7,1020 L529,1040 L530.7,1066 L532,1100 Z" fill="#000" opacity="0.35" filter="url(#streakd)"/>
<polygon points="256,1143 260,1136 268,1160 262,1168" fill="#c8a860"/>
<path d="M504,1106 C504,1150 497,1180 480,1203 C468,1218 455,1222 440,1228 C420,1238 408,1255 402,1275" fill="none" stroke="#ffff00" stroke-width="7"/>
<polygon points="392,1297 389,1262 415,1277" fill="#ffff00"/>
<path d="M483,1203 C488,1225 496,1240 520,1248 C530,1251 538,1252 545,1252" fill="none" stroke="#ffff00" stroke-width="7"/>
<polygon points="566,1250 535,1238 537,1263" fill="#ffff00"/>
<text x="433.5" y="1067.5" font-size="39" fill="#ffff00" text-anchor="start" font-weight="normal" textLength="138" lengthAdjust="spacingAndGlyphs">Nucleus</text>
<text x="344.5" y="1194.5" font-size="39" fill="#ffff00" text-anchor="start" font-weight="normal" textLength="124" lengthAdjust="spacingAndGlyphs">Growth</text>
<text x="505.0" y="1194.5" font-size="39" fill="#ffff00" text-anchor="start" font-weight="normal" textLength="147" lengthAdjust="spacingAndGlyphs">direction</text>
<polyline points="268.8,1037.6 275.6,1037.6 228,1362 217.5,1362 705,1362" fill="none" stroke="#000" stroke-width="2.2"/>
<line x1="267.6" y1="1037.6" x2="275.6" y2="1037.6" stroke="#000" stroke-width="2.2"/>
<text x="262.8" y="1040.0" font-size="29" fill="#000" text-anchor="end" font-weight="normal" >0</text>
<line x1="257.9" y1="1103.6" x2="265.9" y2="1103.6" stroke="#000" stroke-width="2.2"/>
<text x="251.5" y="1114.5" font-size="29" fill="#000" text-anchor="end" font-weight="normal" >0.5</text>
<line x1="245.4" y1="1188.7" x2="253.4" y2="1188.7" stroke="#000" stroke-width="2.2"/>
<text x="232.3" y="1199.0" font-size="29" fill="#000" text-anchor="end" font-weight="normal" >1</text>
<line x1="232.5" y1="1276.6" x2="240.5" y2="1276.6" stroke="#000" stroke-width="2.2"/>
<text x="225.6" y="1282.5" font-size="29" fill="#000" text-anchor="end" font-weight="normal" >1.5</text>
<line x1="220.0" y1="1362" x2="228.0" y2="1362" stroke="#000" stroke-width="2.2"/>
<text x="201.0" y="1367.0" font-size="29" fill="#000" text-anchor="end" font-weight="normal" >2</text>
<line x1="229.7" y1="1362" x2="229.7" y2="1372" stroke="#000" stroke-width="2.2"/>
<text x="229.7" y="1401.0" font-size="29" fill="#000" text-anchor="middle" font-weight="normal" >0</text>
<line x1="347" y1="1362" x2="347" y2="1372" stroke="#000" stroke-width="2.2"/>
<text x="347.0" y="1401.0" font-size="29" fill="#000" text-anchor="middle" font-weight="normal" >0.5</text>
<line x1="467.3" y1="1362" x2="467.3" y2="1372" stroke="#000" stroke-width="2.2"/>
<text x="467.3" y="1401.0" font-size="29" fill="#000" text-anchor="middle" font-weight="normal" >1</text>
<line x1="578" y1="1362" x2="578" y2="1372" stroke="#000" stroke-width="2.2"/>
<text x="578.0" y="1401.0" font-size="29" fill="#000" text-anchor="middle" font-weight="normal" >1.5</text>
<line x1="705" y1="1362" x2="705" y2="1372" stroke="#000" stroke-width="2.2"/>
<text x="705.0" y="1401.0" font-size="29" fill="#000" text-anchor="middle" font-weight="normal" >2</text>
<text x="469" y="1423" font-size="29" text-anchor="middle"><tspan font-style="italic">μ</tspan>m</text>
<rect x="98.2" y="1068" width="17" height="241.3" fill="url(#cbe)"/>
<polyline points="130,1063.5 119.2,1063.5 119.2,1309 130,1309" fill="none" stroke="#000" stroke-width="2"/>
<line x1="119.2" y1="1110.9" x2="130" y2="1110.9" stroke="#000" stroke-width="2"/>
<line x1="119.2" y1="1160.5" x2="130" y2="1160.5" stroke="#000" stroke-width="2"/>
<line x1="119.2" y1="1210.5" x2="130" y2="1210.5" stroke="#000" stroke-width="2"/>
<line x1="119.2" y1="1258.6" x2="130" y2="1258.6" stroke="#000" stroke-width="2"/>
<text x="162.5" y="1078.0" font-size="28.5" fill="#000" text-anchor="end" font-weight="normal" >25</text>
<text x="162.5" y="1124.4" font-size="28.5" fill="#000" text-anchor="end" font-weight="normal" >15</text>
<text x="162.5" y="1171.7" font-size="28.5" fill="#000" text-anchor="end" font-weight="normal" >5</text>
<text x="162.5" y="1218.0" font-size="28.5" fill="#000" text-anchor="end" font-weight="normal" >-5</text>
<text x="162.5" y="1264.2" font-size="28.5" fill="#000" text-anchor="end" font-weight="normal" >-15</text>
<text x="170.5" y="1311.6" font-size="28.5" fill="#000" text-anchor="end" font-weight="normal" >-25</text>
<text x="123.0" y="1358.0" font-size="29" fill="#000" text-anchor="start" font-weight="normal" textLength="39.5" lengthAdjust="spacingAndGlyphs">nm</text>
<defs>
<linearGradient id="cbf" x1="0" y1="0" x2="0" y2="1">
 <stop offset="0" stop-color="#ff0a28"/><stop offset="0.25" stop-color="#d00a58"/><stop offset="0.5" stop-color="#900a88"/>
 <stop offset="0.75" stop-color="#5010c0"/><stop offset="1" stop-color="#1a10ff"/></linearGradient>
<filter id="bluespots" x="0" y="0" width="100%" height="100%">
  <feTurbulence type="fractalNoise" baseFrequency="0.17 0.075" numOctaves="2" seed="11" result="n"/>
  <feColorMatrix in="n" type="matrix" values="0 0 0 0 0.16  0 0 0 0 0.0  0 0 0 0 0.45  -4 0 0 0 1.8" result="w"/>
  <feComposite in="w" in2="SourceGraphic" operator="in"/>
</filter>
<filter id="redspots" x="0" y="0" width="100%" height="100%">
  <feTurbulence type="fractalNoise" baseFrequency="0.09 0.075" numOctaves="2" seed="21" result="n"/>
  <feColorMatrix in="n" type="matrix" values="0 0 0 0 0.85  0 0 0 0 0.0  0 0 0 0 0.3  4 0 0 0 -2.0" result="w"/>
  <feComposite in="w" in2="SourceGraphic" operator="in"/>
</filter>
<filter id="bluespots2" x="0" y="0" width="100%" height="100%">
  <feTurbulence type="fractalNoise" baseFrequency="0.1 0.08" numOctaves="2" seed="33" result="n"/>
  <feColorMatrix in="n" type="matrix" values="0 0 0 0 0.27  0 0 0 0 0.0  0 0 0 0 0.8  4 0 0 0 -2.0" result="w"/>
  <feComposite in="w" in2="SourceGraphic" operator="in"/>
</filter>
<clipPath id="fl"><polygon points="941.0,1040.2 944.3,1038.2 947.0,1038.2 949.1,1040.5 951.3,1039.3 953.5,1037.3 957.4,1039.7 961.4,1035.8 964.0,1039.4 966.6,1039.7 969.7,1039.2 972.8,1039.4 975.3,1039.0 977.9,1038.8 980.5,1038.3 983.0,1038.5 986.7,1038.7 990.7,1036.9 994.2,1036.5 996.3,1037.7 999.4,1038.3 1002.8,1037.7 1005.7,1037.1 1008.7,1038.3 1012.1,1036.8 1015.7,1036.3 1019.1,1035.8 1021.4,1037.7 1024.9,1036.7 1027.7,1037.7 1030.6,1036.4 1034.2,1037.3 1037.1,1036.3 1041.0,1036.6 1043.5,1035.0 1046.6,1037.3 1049.5,1036.4 1053.4,1036.4 1056.6,1037.0 1060.4,1035.7 1064.0,1036.4 1066.2,1036.8 1068.3,1036.0 1071.0,1036.8 1073.3,1034.9 1075.4,1035.8 1077.7,1034.9 1080.4,1032.4 1084.4,1035.8 1086.6,1034.8 1089.1,1036.2 1091.1,1035.6 1093.4,1036.3 1096.5,1035.0 1099.9,1034.5 1102.2,1035.5 1105.8,1035.1 1109.4,1034.9 1113.0,1035.0 1115.5,1035.5 1117.5,1034.7 1120.0,1034.6 1122.9,1034.5 1126.8,1035.6 1129.3,1034.9 1132.5,1034.6 1135.5,1034.7 1137.7,1034.5 1141.2,1035.1 1143.6,1035.3 1147.2,1035.2 1150.0,1034.7 1152.3,1035.0 1156.2,1035.5 1159.8,1034.7 1162.5,1035.5 1164.5,1034.7 1167.6,1035.0 1171.3,1035.4 1173.8,1034.5 1177.0,1033.6 1179.3,1035.1 1182.2,1034.3 1185.0,1034.9 1188.1,1035.6 1191.0,1035.7 1194.6,1033.3 1198.0,1035.2 1201.1,1034.5 1203.3,1035.3 1205.8,1035.0 1208.9,1034.4 1211.8,1035.0 1214.9,1035.1 1217.9,1034.4 1221.3,1034.4 1223.8,1034.4 1227.5,1035.2 1230.4,1034.7 1232.6,1034.7 1236.3,1032.4 1239.7,1031.6 1243.6,1031.2 1246.4,1034.6 1250.1,1033.9 1253.1,1035.1 1255.7,1036.1 1258.8,1036.2 1261.5,1035.5 1263.6,1035.1 1267.6,1035.0 1269.7,1036.0 1271.9,1035.0 1275.5,1035.7 1279.4,1035.5 1281.6,1033.1 1284.4,1031.9 1287.7,1036.6 1291.4,1032.4 1294.3,1034.0 1298.2,1036.2 1301.2,1036.4 1303.0,1037.0 1353.0,1363.5 1353.0,1360.5 1350.2,1362.4 1347.5,1363.2 1344.6,1360.2 1342.6,1362.7 1340.1,1362.1 1337.8,1362.9 1334.6,1362.9 1331.3,1362.0 1328.5,1362.4 1324.9,1363.0 1322.8,1361.1 1318.9,1360.7 1316.7,1362.2 1313.0,1360.3 1310.3,1363.3 1307.2,1356.7 1302.7,1363.1 1298.3,1363.0 1296.3,1362.8 1293.1,1359.0 1291.1,1361.1 1288.1,1361.4 1285.3,1358.6 1282.0,1362.5 1278.2,1362.9 1275.4,1363.3 1271.6,1363.4 1267.5,1362.6 1263.6,1363.3 1260.3,1362.2 1256.3,1362.6 1252.1,1362.5 1249.5,1360.8 1246.6,1357.3 1243.2,1362.6 1239.5,1363.5 1235.5,1362.7 1232.2,1363.4 1228.3,1361.1 1225.7,1363.2 1221.8,1362.8 1218.9,1362.5 1214.9,1362.5 1212.8,1360.2 1208.9,1362.6 1206.9,1360.2 1203.2,1362.5 1200.5,1362.8 1197.3,1357.0 1194.8,1362.1 1192.8,1362.3 1188.3,1363.1 1185.8,1363.2 1182.4,1358.9 1178.0,1357.4 1174.7,1362.4 1172.1,1362.8 1170.1,1359.0 1166.9,1363.3 1164.1,1362.2 1162.1,1362.2 1159.8,1362.4 1155.5,1359.6 1152.5,1362.6 1149.6,1363.1 1147.5,1357.3 1144.8,1363.1 1142.1,1363.2 1139.2,1362.2 1135.2,1362.1 1130.8,1362.4 1128.7,1362.8 1124.8,1363.1 1122.7,1363.3 1119.5,1363.1 1115.7,1363.1 1112.0,1362.7 1109.0,1360.7 1106.5,1362.8 1104.0,1362.0 1100.8,1360.5 1098.6,1363.4 1096.0,1358.7 1091.8,1362.9 1088.8,1362.9 1085.9,1360.1 1081.5,1359.0 1077.9,1363.2 1075.2,1359.5 1072.1,1362.2 1067.9,1361.3 1064.2,1362.8 1060.7,1359.5 1056.4,1362.2 1052.0,1361.0 1049.6,1362.5 1045.2,1362.5 1041.3,1362.7 1039.2,1363.2 1034.9,1363.0 1032.6,1358.3 1028.8,1361.1 1025.5,1362.9 1023.0,1363.5 1020.2,1362.1 1016.6,1362.8 1014.0,1356.7 1010.3,1363.5 1007.0,1362.9 1004.4,1362.1 1001.8,1359.8 998.8,1363.2 994.8,1362.7 992.2,1363.0 988.2,1360.4 984.3,1356.7 981.1,1360.4 978.0,1362.1 975.6,1363.2 971.2,1361.2 969.1,1362.2 964.9,1362.0 960.5,1363.2 956.2,1363.5 952.5,1362.9 949.7,1361.5 947.0,1362.1 944.7,1363.2 941.8,1362.3 938.7,1359.1 935.8,1363.2 932.9,1363.5 929.8,1362.3 927.7,1361.2 923.4,1357.8 919.2,1363.1 914.8,1363.1 911.0,1363.1 909.0,1362.1 905.4,1363.5 902.8,1362.1 898.4,1363.1 895.4,1362.1 892.9,1362.4 891.4,1363.5"/></clipPath>
<clipPath id="fr"><polygon points="1584,1039 1780,1038 1790,1034 1800,1035 1963,1048 2003.6,1362.3 1546.6,1363.8"/></clipPath>
</defs>
<polygon points="941.0,1040.2 944.3,1038.2 947.0,1038.2 949.1,1040.5 951.3,1039.3 953.5,1037.3 957.4,1039.7 961.4,1035.8 964.0,1039.4 966.6,1039.7 969.7,1039.2 972.8,1039.4 975.3,1039.0 977.9,1038.8 980.5,1038.3 983.0,1038.5 986.7,1038.7 990.7,1036.9 994.2,1036.5 996.3,1037.7 999.4,1038.3 1002.8,1037.7 1005.7,1037.1 1008.7,1038.3 1012.1,1036.8 1015.7,1036.3 1019.1,1035.8 1021.4,1037.7 1024.9,1036.7 1027.7,1037.7 1030.6,1036.4 1034.2,1037.3 1037.1,1036.3 1041.0,1036.6 1043.5,1035.0 1046.6,1037.3 1049.5,1036.4 1053.4,1036.4 1056.6,1037.0 1060.4,1035.7 1064.0,1036.4 1066.2,1036.8 1068.3,1036.0 1071.0,1036.8 1073.3,1034.9 1075.4,1035.8 1077.7,1034.9 1080.4,1032.4 1084.4,1035.8 1086.6,1034.8 1089.1,1036.2 1091.1,1035.6 1093.4,1036.3 1096.5,1035.0 1099.9,1034.5 1102.2,1035.5 1105.8,1035.1 1109.4,1034.9 1113.0,1035.0 1115.5,1035.5 1117.5,1034.7 1120.0,1034.6 1122.9,1034.5 1126.8,1035.6 1129.3,1034.9 1132.5,1034.6 1135.5,1034.7 1137.7,1034.5 1141.2,1035.1 1143.6,1035.3 1147.2,1035.2 1150.0,1034.7 1152.3,1035.0 1156.2,1035.5 1159.8,1034.7 1162.5,1035.5 1164.5,1034.7 1167.6,1035.0 1171.3,1035.4 1173.8,1034.5 1177.0,1033.6 1179.3,1035.1 1182.2,1034.3 1185.0,1034.9 1188.1,1035.6 1191.0,1035.7 1194.6,1033.3 1198.0,1035.2 1201.1,1034.5 1203.3,1035.3 1205.8,1035.0 1208.9,1034.4 1211.8,1035.0 1214.9,1035.1 1217.9,1034.4 1221.3,1034.4 1223.8,1034.4 1227.5,1035.2 1230.4,1034.7 1232.6,1034.7 1236.3,1032.4 1239.7,1031.6 1243.6,1031.2 1246.4,1034.6 1250.1,1033.9 1253.1,1035.1 1255.7,1036.1 1258.8,1036.2 1261.5,1035.5 1263.6,1035.1 1267.6,1035.0 1269.7,1036.0 1271.9,1035.0 1275.5,1035.7 1279.4,1035.5 1281.6,1033.1 1284.4,1031.9 1287.7,1036.6 1291.4,1032.4 1294.3,1034.0 1298.2,1036.2 1301.2,1036.4 1303.0,1037.0 1353.0,1363.5 1353.0,1360.5 1350.2,1362.4 1347.5,1363.2 1344.6,1360.2 1342.6,1362.7 1340.1,1362.1 1337.8,1362.9 1334.6,1362.9 1331.3,1362.0 1328.5,1362.4 1324.9,1363.0 1322.8,1361.1 1318.9,1360.7 1316.7,1362.2 1313.0,1360.3 1310.3,1363.3 1307.2,1356.7 1302.7,1363.1 1298.3,1363.0 1296.3,1362.8 1293.1,1359.0 1291.1,1361.1 1288.1,1361.4 1285.3,1358.6 1282.0,1362.5 1278.2,1362.9 1275.4,1363.3 1271.6,1363.4 1267.5,1362.6 1263.6,1363.3 1260.3,1362.2 1256.3,1362.6 1252.1,1362.5 1249.5,1360.8 1246.6,1357.3 1243.2,1362.6 1239.5,1363.5 1235.5,1362.7 1232.2,1363.4 1228.3,1361.1 1225.7,1363.2 1221.8,1362.8 1218.9,1362.5 1214.9,1362.5 1212.8,1360.2 1208.9,1362.6 1206.9,1360.2 1203.2,1362.5 1200.5,1362.8 1197.3,1357.0 1194.8,1362.1 1192.8,1362.3 1188.3,1363.1 1185.8,1363.2 1182.4,1358.9 1178.0,1357.4 1174.7,1362.4 1172.1,1362.8 1170.1,1359.0 1166.9,1363.3 1164.1,1362.2 1162.1,1362.2 1159.8,1362.4 1155.5,1359.6 1152.5,1362.6 1149.6,1363.1 1147.5,1357.3 1144.8,1363.1 1142.1,1363.2 1139.2,1362.2 1135.2,1362.1 1130.8,1362.4 1128.7,1362.8 1124.8,1363.1 1122.7,1363.3 1119.5,1363.1 1115.7,1363.1 1112.0,1362.7 1109.0,1360.7 1106.5,1362.8 1104.0,1362.0 1100.8,1360.5 1098.6,1363.4 1096.0,1358.7 1091.8,1362.9 1088.8,1362.9 1085.9,1360.1 1081.5,1359.0 1077.9,1363.2 1075.2,1359.5 1072.1,1362.2 1067.9,1361.3 1064.2,1362.8 1060.7,1359.5 1056.4,1362.2 1052.0,1361.0 1049.6,1362.5 1045.2,1362.5 1041.3,1362.7 1039.2,1363.2 1034.9,1363.0 1032.6,1358.3 1028.8,1361.1 1025.5,1362.9 1023.0,1363.5 1020.2,1362.1 1016.6,1362.8 1014.0,1356.7 1010.3,1363.5 1007.0,1362.9 1004.4,1362.1 1001.8,1359.8 998.8,1363.2 994.8,1362.7 992.2,1363.0 988.2,1360.4 984.3,1356.7 981.1,1360.4 978.0,1362.1 975.6,1363.2 971.2,1361.2 969.1,1362.2 964.9,1362.0 960.5,1363.2 956.2,1363.5 952.5,1362.9 949.7,1361.5 947.0,1362.1 944.7,1363.2 941.8,1362.3 938.7,1359.1 935.8,1363.2 932.9,1363.5 929.8,1362.3 927.7,1361.2 923.4,1357.8 919.2,1363.1 914.8,1363.1 911.0,1363.1 909.0,1362.1 905.4,1363.5 902.8,1362.1 898.4,1363.1 895.4,1362.1 892.9,1362.4 891.4,1363.5" fill="#4412d4"/>
<g clip-path="url(#fl)"><rect x="800" y="1025" width="1000" height="345" fill="#000" filter="url(#bluespots)" transform="skewX(-15)"/></g>
<polygon points="1584,1039 1780,1038 1790,1034 1800,1035 1963,1048 2003.6,1362.3 1546.6,1363.8" fill="#86008e"/>
<g clip-path="url(#fr)"><rect x="1540" y="1030" width="470" height="340" fill="#000" filter="url(#redspots)"/><rect x="1540" y="1030" width="470" height="340" fill="#000" filter="url(#bluespots2)"/><path d="M1674,1361 C1690,1335 1705,1322 1740,1315 C1790,1304 1815,1292 1840,1270 C1860,1250 1878,1232 1890,1215" fill="none" stroke="#2a08c0" stroke-width="7" opacity="0.9"/><path d="M1890,1215 C1905,1195 1920,1175 1927,1160 C1935,1130 1930,1095 1920,1070 C1905,1052 1890,1048 1880,1046" fill="none" stroke="#3010c0" stroke-width="5" opacity="0.45"/><path d="M1572,1168 L1611,1192" fill="none" stroke="#2a08a0" stroke-width="7" opacity="0.8"/><path d="M1611,1195 C1600,1230 1590,1270 1575,1300 C1565,1330 1560,1350 1556,1362" fill="none" stroke="#3010c0" stroke-width="4" opacity="0.5"/></g>
<polyline points="933.6,1036.5 941,1036.5 891.4,1363.5" fill="none" stroke="#000" stroke-width="2.2"/><line x1="878" y1="1361" x2="892" y2="1361" stroke="#000" stroke-width="2.2"/>
<line x1="891.4" y1="1363.5" x2="1355" y2="1363.5" stroke="#000" stroke-width="2.2"/>
<line x1="919.5" y1="1128.9" x2="927.5" y2="1128.9" stroke="#000" stroke-width="2.2"/>
<text x="904.5" y="1136.5" font-size="28.5" fill="#000" text-anchor="end" font-weight="normal" >1</text>
<line x1="902.7" y1="1238" x2="910.7" y2="1238" stroke="#000" stroke-width="2.2"/>
<text x="891.5" y="1247.0" font-size="28.5" fill="#000" text-anchor="end" font-weight="normal" >2</text>
<text x="926.0" y="1042.0" font-size="28.5" fill="#000" text-anchor="end" font-weight="normal" >0</text>
<text x="876.0" y="1366.0" font-size="28.5" fill="#000" text-anchor="end" font-weight="normal" >3</text>
<line x1="891.4" y1="1363.5" x2="891.4" y2="1373.5" stroke="#000" stroke-width="2.2"/>
<text x="891.4" y="1400.5" font-size="28.5" fill="#000" text-anchor="middle" font-weight="normal" >0</text>
<line x1="1033.8" y1="1363.5" x2="1033.8" y2="1373.5" stroke="#000" stroke-width="2.2"/>
<text x="1033.8" y="1400.5" font-size="28.5" fill="#000" text-anchor="middle" font-weight="normal" >1</text>
<line x1="1185.5" y1="1363.5" x2="1185.5" y2="1373.5" stroke="#000" stroke-width="2.2"/>
<text x="1185.5" y="1400.5" font-size="28.5" fill="#000" text-anchor="middle" font-weight="normal" >2</text>
<line x1="1355" y1="1363.5" x2="1355" y2="1373.5" stroke="#000" stroke-width="2.2"/>
<text x="1355.0" y="1400.5" font-size="28.5" fill="#000" text-anchor="middle" font-weight="normal" >3</text>
<text x="1114" y="1423" font-size="29" text-anchor="middle"><tspan font-style="italic">μ</tspan>m</text>
<polyline points="1576.7,1039 1584.2,1039 1546.6,1363.8 1534.6,1363.8" fill="none" stroke="#000" stroke-width="2.2"/>
<line x1="1546.6" y1="1363.8" x2="2005" y2="1363.8" stroke="#000" stroke-width="2.2"/>
<line x1="1565.4" y1="1132.3" x2="1573.4" y2="1132.3" stroke="#000" stroke-width="2.2"/>
<text x="1560.5" y="1134.0" font-size="28.5" fill="#000" text-anchor="end" font-weight="normal" >1</text>
<line x1="1552.9" y1="1240.5" x2="1560.9" y2="1240.5" stroke="#000" stroke-width="2.2"/>
<text x="1548.5" y="1245.0" font-size="28.5" fill="#000" text-anchor="end" font-weight="normal" >2</text>
<text x="1571.0" y="1041.0" font-size="28.5" fill="#000" text-anchor="end" font-weight="normal" >0</text>
<text x="1531.0" y="1364.0" font-size="28.5" fill="#000" text-anchor="end" font-weight="normal" >3</text>
<line x1="1546.6" y1="1363.8" x2="1546.6" y2="1374.3" stroke="#000" stroke-width="2.2"/>
<text x="1546.6" y="1401.5" font-size="28.5" fill="#000" text-anchor="middle" font-weight="normal" >0</text>
<line x1="1692.4" y1="1363.8" x2="1692.4" y2="1374.3" stroke="#000" stroke-width="2.2"/>
<text x="1692.4" y="1401.5" font-size="28.5" fill="#000" text-anchor="middle" font-weight="normal" >1</text>
<line x1="1847.3" y1="1363.8" x2="1847.3" y2="1374.3" stroke="#000" stroke-width="2.2"/>
<text x="1847.3" y="1401.5" font-size="28.5" fill="#000" text-anchor="middle" font-weight="normal" >2</text>
<line x1="2005" y1="1363.8" x2="2005" y2="1374.3" stroke="#000" stroke-width="2.2"/>
<text x="2005.0" y="1401.5" font-size="28.5" fill="#000" text-anchor="middle" font-weight="normal" >3</text>
<text x="1772" y="1424" font-size="29" text-anchor="middle"><tspan font-style="italic">μ</tspan>m</text>
<rect x="1394.6" y="1086.7" width="14" height="239.2" fill="url(#cbf)"/>
<polyline points="1421,1086.7 1412,1086.7 1412,1325.9 1421,1325.9" fill="none" stroke="#000" stroke-width="2"/>
<line x1="1412" y1="1134.3" x2="1421" y2="1134.3" stroke="#000" stroke-width="2"/>
<line x1="1412" y1="1182" x2="1421" y2="1182" stroke="#000" stroke-width="2"/>
<line x1="1412" y1="1230.2" x2="1421" y2="1230.2" stroke="#000" stroke-width="2"/>
<line x1="1412" y1="1277.9" x2="1421" y2="1277.9" stroke="#000" stroke-width="2"/>
<text x="1434.0" y="1096.0" font-size="28.5" fill="#000" text-anchor="start" font-weight="normal" textLength="58" lengthAdjust="spacingAndGlyphs">0.05</text>
<text x="1434.0" y="1143.6" font-size="28.5" fill="#000" text-anchor="start" font-weight="normal" textLength="58" lengthAdjust="spacingAndGlyphs">0.03</text>
<text x="1434.0" y="1191.2" font-size="28.5" fill="#000" text-anchor="start" font-weight="normal" textLength="58" lengthAdjust="spacingAndGlyphs">0.01</text>
<text x="1424.8" y="1240.0" font-size="28.5" fill="#000" text-anchor="start" font-weight="normal" textLength="67.5" lengthAdjust="spacingAndGlyphs">-0.01</text>
<text x="1424.8" y="1287.0" font-size="28.5" fill="#000" text-anchor="start" font-weight="normal" textLength="67.5" lengthAdjust="spacingAndGlyphs">-0.03</text>
<text x="1424.8" y="1335.2" font-size="28.5" fill="#000" text-anchor="start" font-weight="normal" textLength="67.5" lengthAdjust="spacingAndGlyphs">-0.05</text>
<text x="1466.0" y="1384.0" font-size="33" fill="#000" text-anchor="middle" font-weight="normal" >V</text>
</svg>
</body></html>
